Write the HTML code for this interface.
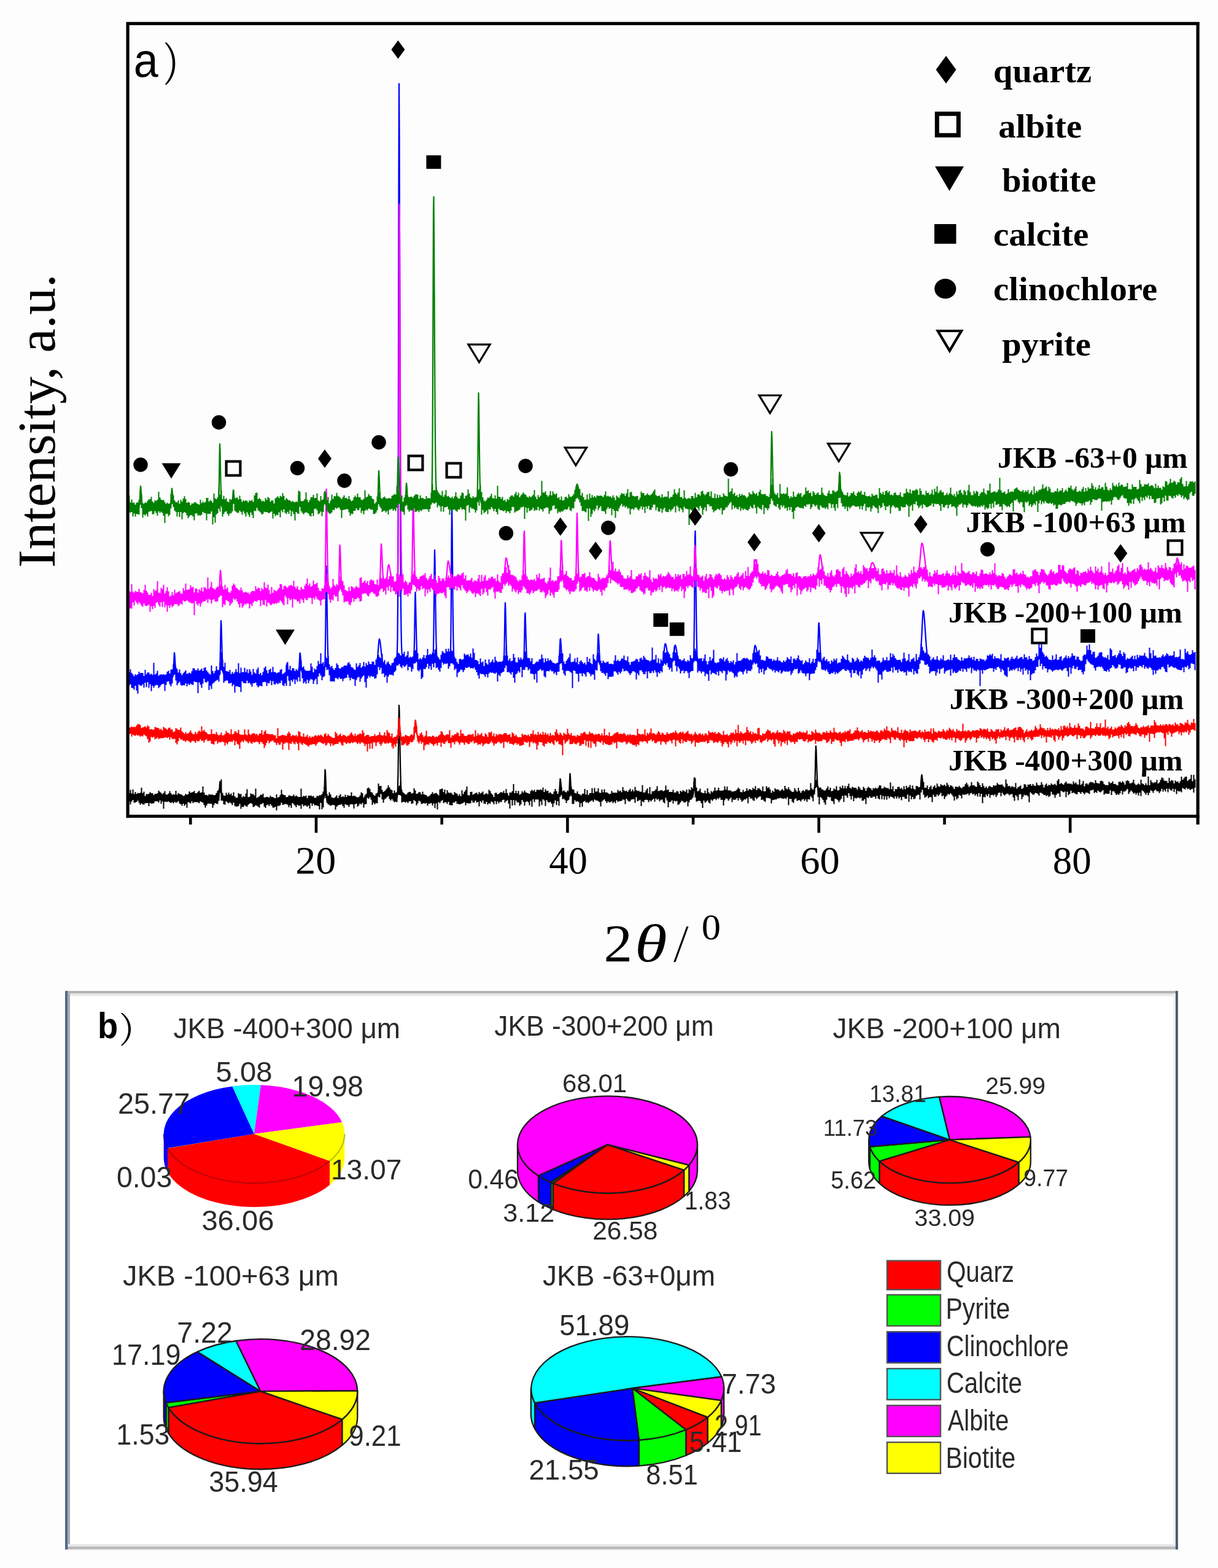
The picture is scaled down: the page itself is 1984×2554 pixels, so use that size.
<!DOCTYPE html>
<html><head><meta charset="utf-8"><title>XRD patterns and mineral composition</title>
<style>html,body{margin:0;padding:0;background:#fdfdfd}svg{display:block}</style></head>
<body><svg width="1984" height="2554" viewBox="0 0 1984 2554">
<rect width="1984" height="2554" fill="#fdfdfd"/>
<rect x="210" y="40" width="1737" height="1287" fill="#fdfdfd"/>
<path d="M209.5,1291.7h2.00V1286.4h2.00V1292.5h2.00V1285.8h2.00V1293.2h2.00V1290.0h2.00V1293.2h2.00V1291.6h2.00V1291.9h2.00V1291.2h2.00V1283.0h2.00V1291.7h2.00V1289.5h2.00V1296.6h2.00V1293.6h2.00V1293.4h2.00V1292.9h2.00V1290.3h2.00V1292.1h2.00V1292.1h2.00V1295.0h2.00V1293.1h2.00V1293.1h2.00V1292.1h2.00V1287.7h2.00V1289.7h2.00V1291.5h2.00V1293.5h2.00V1291.5h2.00V1288.5h2.00V1293.9h2.00V1294.3h2.00V1292.6h2.00V1288.5h2.00V1291.9h2.00V1294.6h2.00V1293.8h2.00V1294.3h2.00V1288.0h2.00V1294.4h2.00V1291.7h2.00V1293.2h2.00V1293.7h2.00V1294.4h2.00V1296.5h2.00V1295.8h2.00V1293.0h2.00V1294.5h2.00V1293.5h2.00V1289.1h2.00V1291.5h2.00V1290.5h2.00V1290.0h2.00V1288.2h2.00V1292.1h2.00V1291.9h2.00V1289.7h2.00V1288.0h2.00V1291.2h2.00V1290.4h2.00V1281.1h2.00V1290.9h2.00V1295.0h2.00V1294.4h2.00V1296.1h2.00V1293.4h2.00V1294.6h2.00V1294.0h2.00V1294.4h2.00V1295.3h2.00V1294.8h2.00V1291.8h2.00V1288.1h2.00V1285.8h2.00V1279.1h2.00V1269.4h2.00V1291.6h2.00V1295.4h2.00V1296.3h2.00V1291.3h2.00V1294.4h2.00V1291.0h2.00V1293.9h2.00V1292.6h2.00V1295.9h2.00V1290.5h2.00V1297.1h2.00V1299.6h2.00V1299.0h2.00V1292.1h2.00V1293.6h2.00V1293.3h2.00V1298.8h2.00V1296.6h2.00V1297.9h2.00V1292.6h2.00V1285.6h2.00V1298.4h2.00V1297.7h2.00V1292.3h2.00V1293.6h2.00V1293.6h2.00V1295.7h2.00V1284.5h2.00V1299.8h2.00V1298.2h2.00V1296.9h2.00V1294.5h2.00V1294.7h2.00V1292.8h2.00V1298.9h2.00V1298.4h2.00V1298.0h2.00V1298.2h2.00V1299.1h2.00V1296.0h2.00V1298.3h2.00V1298.3h2.00V1299.6h2.00V1300.3h2.00V1293.9h2.00V1299.3h2.00V1298.0h2.00V1294.7h2.00V1286.5h2.00V1293.6h2.00V1295.1h2.00V1295.3h2.00V1298.5h2.00V1298.0h2.00V1295.6h2.00V1295.8h2.00V1296.8h2.00V1296.5h2.00V1294.3h2.00V1297.2h2.00V1295.7h2.00V1297.2h2.00V1298.3h2.00V1297.9h2.00V1284.5h2.00V1297.9h2.00V1296.3h2.00V1296.9h2.00V1295.8h2.00V1300.1h2.00V1296.1h2.00V1296.2h2.00V1295.5h2.00V1297.2h2.00V1296.5h2.00V1299.4h2.00V1299.2h2.00V1296.2h2.00V1296.8h2.00V1295.3h2.00V1295.2h2.00V1293.2h2.00V1289.3h2.00V1280.9h2.00V1279.2h2.00V1293.1h2.00V1296.1h2.00V1290.5h2.00V1293.9h2.00V1298.7h2.00V1299.4h2.00V1299.8h2.00V1297.7h2.00V1295.4h2.00V1299.9h2.00V1296.1h2.00V1293.4h2.00V1298.3h2.00V1296.9h2.00V1298.3h2.00V1294.5h2.00V1297.9h2.00V1295.1h2.00V1296.2h2.00V1296.3h2.00V1290.6h2.00V1296.7h2.00V1295.9h2.00V1296.4h2.00V1297.9h2.00V1299.0h2.00V1297.9h2.00V1295.5h2.00V1290.4h2.00V1292.2h2.00V1298.8h2.00V1295.2h2.00V1293.0h2.00V1283.9h2.00V1282.8h2.00V1285.3h2.00V1290.1h2.00V1291.3h2.00V1294.6h2.00V1296.2h2.00V1292.7h2.00V1291.5h2.00V1276.3h2.00V1280.6h2.00V1280.1h2.00V1286.5h2.00V1289.9h2.00V1288.6h2.00V1286.4h2.00V1284.0h2.00V1279.3h2.00V1282.7h2.00V1285.7h2.00V1287.0h2.00V1292.0h2.00V1287.4h2.00V1291.2h2.00V1290.0h2.00V1281.7h2.00V1279.6h2.00V1273.4h2.00V1286.5h2.00V1290.4h2.00V1292.3h2.00V1294.1h2.00V1293.7h2.00V1290.9h2.00V1289.7h2.00V1289.9h2.00V1292.4h2.00V1291.7h2.00V1284.0h2.00V1287.5h2.00V1292.9h2.00V1292.4h2.00V1290.1h2.00V1290.4h2.00V1294.0h2.00V1289.6h2.00V1293.8h2.00V1294.5h2.00V1295.2h2.00V1297.4h2.00V1296.9h2.00V1295.2h2.00V1293.1h2.00V1290.3h2.00V1293.2h2.00V1291.9h2.00V1291.4h2.00V1293.4h2.00V1295.4h2.00V1286.0h2.00V1285.1h2.00V1284.4h2.00V1290.3h2.00V1286.1h2.00V1292.9h2.00V1287.0h2.00V1290.7h2.00V1291.7h2.00V1291.0h2.00V1292.9h2.00V1295.0h2.00V1289.9h2.00V1292.1h2.00V1292.8h2.00V1296.2h2.00V1293.5h2.00V1297.0h2.00V1287.3h2.00V1293.4h2.00V1289.7h2.00V1286.8h2.00V1280.9h2.00V1295.2h2.00V1295.5h2.00V1290.1h2.00V1289.4h2.00V1294.6h2.00V1293.1h2.00V1291.7h2.00V1290.9h2.00V1293.8h2.00V1290.0h2.00V1292.5h2.00V1291.3h2.00V1289.3h2.00V1294.3h2.00V1292.9h2.00V1292.1h2.00V1293.8h2.00V1286.5h2.00V1288.6h2.00V1292.5h2.00V1294.5h2.00V1298.3h2.00V1291.5h2.00V1291.2h2.00V1293.8h2.00V1292.9h2.00V1291.1h2.00V1290.1h2.00V1291.2h2.00V1288.3h2.00V1291.9h2.00V1285.2h2.00V1291.7h2.00V1295.7h2.00V1290.8h2.00V1290.9h2.00V1288.8h2.00V1277.1h2.00V1291.9h2.00V1288.0h2.00V1292.0h2.00V1288.3h2.00V1294.3h2.00V1292.9h2.00V1288.7h2.00V1290.9h2.00V1287.6h2.00V1290.6h2.00V1291.5h2.00V1292.1h2.00V1292.9h2.00V1288.4h2.00V1286.5h2.00V1288.6h2.00V1286.6h2.00V1290.1h2.00V1286.5h2.00V1286.2h2.00V1286.9h2.00V1285.6h2.00V1287.0h2.00V1282.7h2.00V1290.0h2.00V1285.5h2.00V1288.4h2.00V1287.9h2.00V1291.7h2.00V1290.5h2.00V1292.8h2.00V1293.5h2.00V1289.2h2.00V1285.1h2.00V1288.7h2.00V1293.1h2.00V1289.2h2.00V1272.9h2.00V1281.4h2.00V1288.9h2.00V1287.2h2.00V1289.4h2.00V1290.4h2.00V1287.8h2.00V1289.2h2.00V1268.6h2.00V1281.4h2.00V1285.6h2.00V1286.3h2.00V1291.4h2.00V1292.2h2.00V1288.9h2.00V1293.1h2.00V1293.9h2.00V1295.6h2.00V1293.0h2.00V1292.4h2.00V1285.1h2.00V1294.1h2.00V1286.9h2.00V1295.1h2.00V1292.0h2.00V1291.8h2.00V1283.8h2.00V1291.9h2.00V1283.4h2.00V1289.6h2.00V1289.0h2.00V1284.0h2.00V1291.0h2.00V1291.4h2.00V1286.0h2.00V1290.6h2.00V1285.6h2.00V1290.7h2.00V1290.4h2.00V1292.0h2.00V1293.4h2.00V1292.8h2.00V1288.2h2.00V1291.0h2.00V1291.3h2.00V1290.9h2.00V1291.2h2.00V1286.5h2.00V1288.9h2.00V1287.7h2.00V1290.3h2.00V1281.9h2.00V1287.3h2.00V1288.8h2.00V1287.7h2.00V1290.1h2.00V1287.1h2.00V1284.8h2.00V1289.0h2.00V1285.9h2.00V1288.9h2.00V1281.8h2.00V1286.9h2.00V1288.5h2.00V1287.9h2.00V1289.8h2.00V1289.6h2.00V1279.0h2.00V1290.9h2.00V1290.5h2.00V1287.0h2.00V1284.2h2.00V1292.6h2.00V1281.9h2.00V1293.4h2.00V1288.7h2.00V1289.0h2.00V1287.7h2.00V1285.6h2.00V1280.6h2.00V1288.4h2.00V1288.0h2.00V1286.9h2.00V1287.3h2.00V1288.8h2.00V1287.6h2.00V1279.6h2.00V1286.7h2.00V1286.0h2.00V1290.1h2.00V1289.7h2.00V1289.9h2.00V1286.3h2.00V1291.0h2.00V1290.8h2.00V1288.5h2.00V1289.3h2.00V1293.0h2.00V1287.9h2.00V1289.7h2.00V1287.2h2.00V1288.6h2.00V1289.7h2.00V1286.1h2.00V1291.7h2.00V1285.6h2.00V1287.1h2.00V1282.2h2.00V1284.5h2.00V1274.0h2.00V1267.4h2.00V1282.8h2.00V1288.9h2.00V1287.5h2.00V1284.4h2.00V1290.6h2.00V1291.7h2.00V1292.1h2.00V1287.7h2.00V1292.2h2.00V1284.0h2.00V1290.5h2.00V1292.9h2.00V1288.6h2.00V1290.5h2.00V1288.0h2.00V1282.7h2.00V1287.9h2.00V1287.3h2.00V1283.0h2.00V1287.4h2.00V1288.1h2.00V1287.8h2.00V1287.0h2.00V1280.8h2.00V1286.3h2.00V1281.2h2.00V1287.4h2.00V1287.2h2.00V1287.8h2.00V1289.5h2.00V1288.9h2.00V1288.7h2.00V1288.1h2.00V1285.9h2.00V1282.9h2.00V1285.0h2.00V1290.1h2.00V1290.4h2.00V1286.6h2.00V1289.7h2.00V1288.6h2.00V1284.1h2.00V1287.7h2.00V1285.3h2.00V1285.7h2.00V1287.0h2.00V1283.3h2.00V1285.3h2.00V1280.6h2.00V1287.1h2.00V1284.2h2.00V1283.7h2.00V1286.0h2.00V1288.3h2.00V1281.0h2.00V1289.0h2.00V1288.8h2.00V1280.4h2.00V1283.6h2.00V1282.3h2.00V1285.8h2.00V1291.6h2.00V1287.8h2.00V1289.8h2.00V1284.0h2.00V1285.9h2.00V1285.7h2.00V1286.5h2.00V1288.5h2.00V1286.7h2.00V1285.2h2.00V1287.7h2.00V1280.1h2.00V1284.3h2.00V1285.8h2.00V1282.2h2.00V1286.0h2.00V1288.2h2.00V1289.9h2.00V1289.4h2.00V1283.7h2.00V1287.3h2.00V1289.6h2.00V1283.3h2.00V1288.2h2.00V1291.5h2.00V1288.4h2.00V1286.9h2.00V1289.0h2.00V1286.0h2.00V1285.7h2.00V1287.6h2.00V1287.1h2.00V1275.4h2.00V1284.3h2.00V1286.4h2.00V1281.9h2.00V1271.0h2.00V1268.8h2.00V1279.9h2.00V1283.0h2.00V1282.6h2.00V1285.2h2.00V1286.3h2.00V1287.7h2.00V1287.2h2.00V1284.3h2.00V1280.9h2.00V1286.5h2.00V1283.0h2.00V1288.8h2.00V1288.0h2.00V1284.2h2.00V1286.0h2.00V1280.4h2.00V1287.4h2.00V1286.9h2.00V1281.3h2.00V1283.8h2.00V1279.6h2.00V1284.3h2.00V1280.2h2.00V1284.2h2.00V1280.4h2.00V1276.4h2.00V1282.9h2.00V1284.6h2.00V1281.4h2.00V1283.0h2.00V1283.1h2.00V1283.6h2.00V1285.9h2.00V1280.9h2.00V1283.3h2.00V1286.5h2.00V1286.8h2.00V1281.6h2.00V1283.9h2.00V1288.3h2.00V1283.8h2.00V1281.5h2.00V1283.2h2.00V1284.2h2.00V1286.9h2.00V1283.4h2.00V1284.4h2.00V1282.8h2.00V1284.8h2.00V1282.8h2.00V1279.2h2.00V1279.5h2.00V1284.5h2.00V1284.1h2.00V1281.6h2.00V1282.8h2.00V1283.7h2.00V1283.4h2.00V1285.4h2.00V1274.6h2.00V1285.6h2.00V1280.5h2.00V1289.1h2.00V1285.3h2.00V1285.6h2.00V1281.7h2.00V1281.5h2.00V1284.7h2.00V1283.3h2.00V1286.1h2.00V1280.5h2.00V1285.5h2.00V1280.0h2.00V1283.3h2.00V1281.6h2.00V1278.4h2.00V1284.4h2.00V1279.4h2.00V1284.4h2.00V1285.9h2.00V1280.2h2.00V1280.6h2.00V1282.2h2.00V1282.1h2.00V1271.5h2.00V1272.8h2.00V1273.7h2.00V1283.3h2.00V1282.9h2.00V1279.5h2.00V1285.4h2.00V1282.1h2.00V1279.7h2.00V1285.5h2.00V1281.4h2.00V1279.2h2.00V1283.2h2.00V1276.3h2.00V1280.4h2.00V1281.5h2.00V1277.3h2.00V1278.9h2.00V1279.4h2.00V1278.0h2.00V1280.5h2.00V1275.1h2.00V1278.2h2.00V1281.7h2.00V1278.9h2.00V1280.1h2.00V1282.3h2.00V1285.2h2.00V1281.2h2.00V1281.4h2.00V1282.3h2.00V1280.1h2.00V1282.5h2.00V1284.0h2.00V1281.7h2.00V1281.1h2.00V1277.3h2.00V1274.7h2.00V1278.1h2.00V1281.8h2.00V1279.7h2.00V1273.9h2.00V1279.2h2.00V1278.8h2.00V1280.8h2.00V1281.7h2.00V1273.1h2.00V1275.5h2.00V1279.0h2.00V1281.9h2.00V1275.8h2.00V1280.3h2.00V1283.5h2.00V1281.1h2.00V1284.0h2.00V1281.2h2.00V1280.1h2.00V1282.0h2.00V1282.3h2.00V1279.1h2.00V1280.1h2.00V1279.2h2.00V1275.2h2.00V1277.8h2.00V1278.3h2.00V1278.1h2.00V1277.8h2.00V1280.4h2.00V1282.6h2.00V1269.5h2.00V1276.6h2.00V1280.4h2.00V1280.0h2.00V1282.3h2.00V1280.5h2.00V1281.4h2.00V1282.5h2.00V1275.2h2.00V1284.6h2.00V1281.9h2.00V1281.0h2.00V1279.3h2.00V1284.9h2.00V1283.6h2.00V1277.2h2.00V1277.8h2.00V1281.8h2.00V1278.1h2.00V1278.0h2.00V1277.0h2.00V1279.9h2.00V1277.0h2.00V1279.5h2.00V1280.2h2.00V1274.8h2.00V1278.4h2.00V1279.5h2.00V1278.7h2.00V1273.9h2.00V1277.9h2.00V1282.7h2.00V1278.4h2.00V1276.3h2.00V1280.2h2.00V1278.3h2.00V1278.9h2.00V1275.9h2.00V1278.2h2.00V1277.9h2.00V1276.8h2.00V1279.3h2.00V1271.4h2.00V1269.1h2.00V1277.1h2.00V1275.3h2.00V1276.7h2.00V1278.3h2.00V1275.3h2.00V1272.9h2.00V1276.2h2.00V1276.3h2.00V1276.5h2.00V1276.5h2.00V1277.8h2.00V1272.7h2.00V1276.3h2.00V1274.5h2.00V1277.5h2.00V1278.1h2.00V1269.5h2.00V1278.6h2.00V1276.6h2.00V1271.9h2.00V1280.8h2.00V1276.6h2.00V1276.0h2.00V1278.0h2.00V1275.3h2.00V1273.6h2.00V1273.9h2.00V1274.6h2.00V1276.0h2.00V1270.7h2.00V1275.0h2.00V1276.0h2.00V1276.3h2.00V1272.3h2.00V1271.4h2.00V1272.9h2.00V1277.1h2.00V1278.8h2.00V1278.8h2.00V1279.0h2.00V1273.3h2.00V1275.8h2.00V1275.2h2.00V1272.7h2.00V1276.9h2.00V1276.7h2.00V1278.3h2.00V1279.3h2.00V1273.8h2.00V1273.0h2.00V1275.0h2.00V1272.6h2.00V1274.6h2.00V1278.0h2.00V1272.2h2.00V1271.0h2.00V1272.2h2.00V1276.0h2.00V1275.8h2.00V1274.4h2.00V1270.1h2.00V1276.4h2.00V1278.7h2.00V1277.8h2.00V1276.1h2.00V1278.0h2.00V1270.0h2.00V1276.1h2.00V1277.1h2.00V1278.9h2.00V1275.8h2.00V1278.8h2.00V1264.7h2.00V1279.1h2.00V1270.6h2.00V1273.8h2.00V1275.6h2.00V1274.2h2.00V1274.2h2.00V1270.3h2.00V1276.3h2.00V1274.5h2.00V1270.2h2.00V1266.3h2.00V1267.8h2.00V1271.5h2.00V1272.0h2.00V1272.2h2.00V1275.3h2.00V1267.0h2.00V1272.4h2.00V1270.6h2.00V1271.5h2.00V1275.9h2.00V1271.3h2.00V1273.4h2.00V1272.8h2.00V1275.5h2.00V1272.5h2.00V1264.9h2.00V1270.2h2.00V1267.7h2.00V1265.3h2.00V1265.1h2.00V1272.0h2.00V1270.0h2.00V1268.4h2.00V1261.9h2.00V1272.5h2.00V1262.0h2.00V1269.4h2.00V1283.1h-2.00V1291.1h-2.00V1284.8h-2.00V1285.5h-2.00V1286.8h-2.00V1284.5h-2.00V1285.4h-2.00V1282.9h-2.00V1285.7h-2.00V1284.8h-2.00V1283.5h-2.00V1290.4h-2.00V1288.4h-2.00V1289.4h-2.00V1288.1h-2.00V1293.6h-2.00V1285.3h-2.00V1289.9h-2.00V1284.8h-2.00V1288.1h-2.00V1286.7h-2.00V1284.6h-2.00V1290.5h-2.00V1284.6h-2.00V1289.2h-2.00V1286.3h-2.00V1289.5h-2.00V1284.8h-2.00V1289.1h-2.00V1291.7h-2.00V1288.8h-2.00V1288.9h-2.00V1286.2h-2.00V1287.8h-2.00V1291.5h-2.00V1288.5h-2.00V1287.2h-2.00V1291.3h-2.00V1295.3h-2.00V1291.3h-2.00V1294.6h-2.00V1291.4h-2.00V1289.0h-2.00V1287.5h-2.00V1296.7h-2.00V1290.9h-2.00V1295.8h-2.00V1291.5h-2.00V1294.2h-2.00V1291.3h-2.00V1292.8h-2.00V1289.8h-2.00V1287.5h-2.00V1290.2h-2.00V1293.2h-2.00V1285.0h-2.00V1287.3h-2.00V1289.2h-2.00V1289.2h-2.00V1293.9h-2.00V1288.1h-2.00V1292.0h-2.00V1294.7h-2.00V1293.2h-2.00V1294.9h-2.00V1291.8h-2.00V1289.1h-2.00V1288.8h-2.00V1295.1h-2.00V1287.2h-2.00V1292.9h-2.00V1293.0h-2.00V1292.7h-2.00V1292.5h-2.00V1294.6h-2.00V1286.9h-2.00V1288.9h-2.00V1290.7h-2.00V1289.6h-2.00V1287.8h-2.00V1291.5h-2.00V1290.0h-2.00V1291.7h-2.00V1286.3h-2.00V1287.2h-2.00V1287.6h-2.00V1293.3h-2.00V1292.0h-2.00V1290.7h-2.00V1291.3h-2.00V1294.1h-2.00V1291.4h-2.00V1290.1h-2.00V1293.0h-2.00V1290.6h-2.00V1290.0h-2.00V1293.8h-2.00V1293.5h-2.00V1292.0h-2.00V1290.7h-2.00V1292.0h-2.00V1287.9h-2.00V1293.1h-2.00V1294.9h-2.00V1289.5h-2.00V1298.5h-2.00V1289.2h-2.00V1290.5h-2.00V1289.4h-2.00V1288.1h-2.00V1298.1h-2.00V1292.5h-2.00V1292.5h-2.00V1295.1h-2.00V1299.4h-2.00V1294.4h-2.00V1293.9h-2.00V1289.7h-2.00V1296.2h-2.00V1298.3h-2.00V1295.2h-2.00V1296.7h-2.00V1294.7h-2.00V1295.0h-2.00V1293.0h-2.00V1291.8h-2.00V1291.0h-2.00V1296.1h-2.00V1293.3h-2.00V1291.9h-2.00V1291.6h-2.00V1293.9h-2.00V1294.5h-2.00V1292.5h-2.00V1290.5h-2.00V1306.8h-2.00V1297.2h-2.00V1295.1h-2.00V1295.8h-2.00V1294.4h-2.00V1298.0h-2.00V1301.8h-2.00V1293.5h-2.00V1294.0h-2.00V1303.4h-2.00V1297.4h-2.00V1295.2h-2.00V1304.4h-2.00V1298.8h-2.00V1293.4h-2.00V1293.6h-2.00V1295.6h-2.00V1293.6h-2.00V1292.4h-2.00V1293.8h-2.00V1295.7h-2.00V1293.9h-2.00V1291.3h-2.00V1297.1h-2.00V1290.9h-2.00V1291.5h-2.00V1295.3h-2.00V1298.3h-2.00V1293.7h-2.00V1296.1h-2.00V1294.6h-2.00V1294.9h-2.00V1299.6h-2.00V1293.2h-2.00V1297.0h-2.00V1294.2h-2.00V1298.4h-2.00V1298.1h-2.00V1308.2h-2.00V1293.0h-2.00V1297.8h-2.00V1292.0h-2.00V1297.6h-2.00V1293.5h-2.00V1295.9h-2.00V1292.9h-2.00V1294.0h-2.00V1291.6h-2.00V1292.5h-2.00V1295.5h-2.00V1292.4h-2.00V1293.9h-2.00V1294.1h-2.00V1294.8h-2.00V1293.9h-2.00V1300.4h-2.00V1296.0h-2.00V1294.7h-2.00V1299.9h-2.00V1302.0h-2.00V1297.2h-2.00V1303.9h-2.00V1297.2h-2.00V1294.5h-2.00V1291.9h-2.00V1294.2h-2.00V1293.3h-2.00V1295.5h-2.00V1297.8h-2.00V1301.5h-2.00V1295.8h-2.00V1296.9h-2.00V1291.4h-2.00V1294.3h-2.00V1296.4h-2.00V1294.1h-2.00V1297.6h-2.00V1298.0h-2.00V1294.5h-2.00V1306.4h-2.00V1298.6h-2.00V1298.0h-2.00V1299.9h-2.00V1295.9h-2.00V1298.0h-2.00V1299.2h-2.00V1294.6h-2.00V1286.3h-2.00V1290.7h-2.00V1302.2h-2.00V1294.5h-2.00V1294.7h-2.00V1296.4h-2.00V1300.8h-2.00V1301.8h-2.00V1297.9h-2.00V1301.9h-2.00V1295.8h-2.00V1306.0h-2.00V1294.3h-2.00V1301.0h-2.00V1300.9h-2.00V1298.1h-2.00V1297.8h-2.00V1303.4h-2.00V1298.6h-2.00V1300.8h-2.00V1297.5h-2.00V1300.7h-2.00V1297.3h-2.00V1300.9h-2.00V1299.1h-2.00V1297.9h-2.00V1297.5h-2.00V1300.2h-2.00V1296.8h-2.00V1302.4h-2.00V1296.9h-2.00V1302.5h-2.00V1296.5h-2.00V1301.9h-2.00V1294.7h-2.00V1302.0h-2.00V1300.5h-2.00V1296.3h-2.00V1300.9h-2.00V1297.8h-2.00V1297.5h-2.00V1299.2h-2.00V1299.5h-2.00V1297.1h-2.00V1300.1h-2.00V1298.7h-2.00V1309.8h-2.00V1301.6h-2.00V1304.1h-2.00V1304.2h-2.00V1299.3h-2.00V1300.4h-2.00V1299.1h-2.00V1299.5h-2.00V1300.8h-2.00V1299.6h-2.00V1305.0h-2.00V1296.5h-2.00V1302.2h-2.00V1296.5h-2.00V1292.0h-2.00V1299.4h-2.00V1296.2h-2.00V1295.5h-2.00V1306.3h-2.00V1296.2h-2.00V1301.1h-2.00V1303.5h-2.00V1306.6h-2.00V1303.3h-2.00V1301.6h-2.00V1301.1h-2.00V1309.8h-2.00V1305.3h-2.00V1304.4h-2.00V1298.4h-2.00V1298.6h-2.00V1297.6h-2.00V1302.4h-2.00V1310.7h-2.00V1307.2h-2.00V1302.9h-2.00V1300.2h-2.00V1298.3h-2.00V1310.2h-2.00V1298.3h-2.00V1281.9h-2.00V1283.6h-2.00V1294.3h-2.00V1305.2h-2.00V1299.5h-2.00V1297.1h-2.00V1302.3h-2.00V1301.8h-2.00V1305.9h-2.00V1301.9h-2.00V1304.5h-2.00V1301.5h-2.00V1302.4h-2.00V1305.5h-2.00V1303.3h-2.00V1303.5h-2.00V1304.6h-2.00V1300.4h-2.00V1301.9h-2.00V1307.8h-2.00V1306.0h-2.00V1301.3h-2.00V1301.2h-2.00V1311.6h-2.00V1298.4h-2.00V1301.6h-2.00V1299.9h-2.00V1301.2h-2.00V1300.4h-2.00V1300.2h-2.00V1299.5h-2.00V1300.7h-2.00V1300.6h-2.00V1302.2h-2.00V1302.2h-2.00V1302.8h-2.00V1303.2h-2.00V1308.4h-2.00V1300.8h-2.00V1300.0h-2.00V1299.7h-2.00V1299.4h-2.00V1306.1h-2.00V1304.4h-2.00V1302.3h-2.00V1302.9h-2.00V1297.2h-2.00V1297.8h-2.00V1299.6h-2.00V1301.7h-2.00V1299.1h-2.00V1304.6h-2.00V1303.4h-2.00V1300.7h-2.00V1300.7h-2.00V1298.0h-2.00V1308.6h-2.00V1300.3h-2.00V1302.3h-2.00V1302.0h-2.00V1304.0h-2.00V1305.9h-2.00V1302.6h-2.00V1300.1h-2.00V1304.0h-2.00V1299.7h-2.00V1302.3h-2.00V1302.8h-2.00V1302.4h-2.00V1306.4h-2.00V1299.3h-2.00V1301.4h-2.00V1304.3h-2.00V1301.3h-2.00V1300.5h-2.00V1303.6h-2.00V1312.0h-2.00V1302.8h-2.00V1302.8h-2.00V1299.1h-2.00V1301.5h-2.00V1300.3h-2.00V1303.2h-2.00V1301.0h-2.00V1302.0h-2.00V1304.5h-2.00V1302.6h-2.00V1308.7h-2.00V1307.2h-2.00V1303.8h-2.00V1305.8h-2.00V1307.6h-2.00V1303.9h-2.00V1316.0h-2.00V1308.3h-2.00V1304.7h-2.00V1303.9h-2.00V1305.1h-2.00V1305.8h-2.00V1298.7h-2.00V1288.2h-2.00V1299.5h-2.00V1301.9h-2.00V1302.9h-2.00V1306.8h-2.00V1313.6h-2.00V1304.9h-2.00V1307.1h-2.00V1307.3h-2.00V1305.6h-2.00V1304.2h-2.00V1307.0h-2.00V1309.8h-2.00V1311.1h-2.00V1304.4h-2.00V1305.6h-2.00V1304.2h-2.00V1308.7h-2.00V1303.6h-2.00V1306.1h-2.00V1306.4h-2.00V1315.0h-2.00V1303.8h-2.00V1299.6h-2.00V1308.6h-2.00V1306.6h-2.00V1302.3h-2.00V1303.0h-2.00V1305.2h-2.00V1301.6h-2.00V1302.8h-2.00V1300.6h-2.00V1305.7h-2.00V1301.1h-2.00V1302.9h-2.00V1305.5h-2.00V1303.5h-2.00V1306.4h-2.00V1303.0h-2.00V1302.6h-2.00V1303.2h-2.00V1306.8h-2.00V1305.3h-2.00V1312.9h-2.00V1302.8h-2.00V1304.1h-2.00V1305.2h-2.00V1298.5h-2.00V1307.8h-2.00V1301.7h-2.00V1301.7h-2.00V1302.5h-2.00V1304.9h-2.00V1305.7h-2.00V1303.7h-2.00V1301.0h-2.00V1309.7h-2.00V1302.8h-2.00V1302.3h-2.00V1304.6h-2.00V1304.8h-2.00V1305.2h-2.00V1306.0h-2.00V1303.6h-2.00V1308.2h-2.00V1305.8h-2.00V1308.3h-2.00V1305.2h-2.00V1306.6h-2.00V1306.9h-2.00V1305.3h-2.00V1307.9h-2.00V1305.0h-2.00V1302.1h-2.00V1303.4h-2.00V1305.5h-2.00V1313.4h-2.00V1306.6h-2.00V1304.9h-2.00V1303.8h-2.00V1303.7h-2.00V1302.3h-2.00V1306.2h-2.00V1303.7h-2.00V1304.6h-2.00V1306.0h-2.00V1308.3h-2.00V1306.7h-2.00V1307.3h-2.00V1304.4h-2.00V1306.1h-2.00V1314.0h-2.00V1308.3h-2.00V1314.8h-2.00V1306.2h-2.00V1304.9h-2.00V1306.0h-2.00V1303.6h-2.00V1309.4h-2.00V1309.6h-2.00V1295.0h-2.00V1297.6h-2.00V1302.7h-2.00V1304.3h-2.00V1308.0h-2.00V1303.2h-2.00V1301.2h-2.00V1301.8h-2.00V1295.1h-2.00V1297.7h-2.00V1312.4h-2.00V1305.0h-2.00V1311.3h-2.00V1303.7h-2.00V1308.4h-2.00V1314.5h-2.00V1309.0h-2.00V1305.9h-2.00V1307.2h-2.00V1306.5h-2.00V1303.2h-2.00V1312.7h-2.00V1304.0h-2.00V1301.9h-2.00V1311.3h-2.00V1305.2h-2.00V1313.4h-2.00V1302.3h-2.00V1302.2h-2.00V1302.3h-2.00V1306.6h-2.00V1302.0h-2.00V1314.0h-2.00V1304.5h-2.00V1311.8h-2.00V1307.0h-2.00V1305.1h-2.00V1306.5h-2.00V1312.3h-2.00V1306.0h-2.00V1303.1h-2.00V1310.2h-2.00V1312.4h-2.00V1307.0h-2.00V1307.1h-2.00V1304.0h-2.00V1311.6h-2.00V1303.2h-2.00V1312.1h-2.00V1303.1h-2.00V1317.0h-2.00V1309.0h-2.00V1303.5h-2.00V1304.9h-2.00V1307.5h-2.00V1302.6h-2.00V1303.3h-2.00V1306.6h-2.00V1306.0h-2.00V1308.6h-2.00V1305.5h-2.00V1309.7h-2.00V1304.7h-2.00V1309.9h-2.00V1306.7h-2.00V1305.5h-2.00V1308.9h-2.00V1308.2h-2.00V1310.6h-2.00V1306.0h-2.00V1309.6h-2.00V1308.9h-2.00V1303.7h-2.00V1307.3h-2.00V1305.0h-2.00V1313.5h-2.00V1306.3h-2.00V1307.2h-2.00V1304.1h-2.00V1307.3h-2.00V1307.3h-2.00V1304.1h-2.00V1308.6h-2.00V1308.5h-2.00V1308.8h-2.00V1308.1h-2.00V1311.8h-2.00V1306.5h-2.00V1307.8h-2.00V1309.1h-2.00V1309.4h-2.00V1310.3h-2.00V1309.6h-2.00V1309.2h-2.00V1305.1h-2.00V1307.3h-2.00V1307.2h-2.00V1311.8h-2.00V1311.5h-2.00V1311.2h-2.00V1305.9h-2.00V1309.6h-2.00V1306.8h-2.00V1306.7h-2.00V1308.2h-2.00V1303.3h-2.00V1305.2h-2.00V1308.2h-2.00V1306.5h-2.00V1318.4h-2.00V1308.5h-2.00V1316.3h-2.00V1308.8h-2.00V1312.0h-2.00V1308.1h-2.00V1308.8h-2.00V1309.3h-2.00V1312.2h-2.00V1308.1h-2.00V1309.3h-2.00V1308.0h-2.00V1308.9h-2.00V1309.6h-2.00V1305.6h-2.00V1304.3h-2.00V1308.5h-2.00V1311.7h-2.00V1304.9h-2.00V1303.2h-2.00V1308.5h-2.00V1309.2h-2.00V1305.1h-2.00V1305.2h-2.00V1307.9h-2.00V1306.0h-2.00V1307.5h-2.00V1306.0h-2.00V1306.2h-2.00V1306.9h-2.00V1295.7h-2.00V1295.0h-2.00V1294.6h-2.00V1306.6h-2.00V1305.8h-2.00V1306.8h-2.00V1304.4h-2.00V1301.5h-2.00V1304.0h-2.00V1301.4h-2.00V1296.8h-2.00V1298.6h-2.00V1300.5h-2.00V1302.3h-2.00V1307.4h-2.00V1302.0h-2.00V1293.1h-2.00V1298.8h-2.00V1297.5h-2.00V1308.5h-2.00V1307.9h-2.00V1309.9h-2.00V1307.6h-2.00V1310.9h-2.00V1302.6h-2.00V1298.4h-2.00V1301.3h-2.00V1299.6h-2.00V1309.7h-2.00V1310.0h-2.00V1315.6h-2.00V1307.8h-2.00V1310.4h-2.00V1308.8h-2.00V1311.7h-2.00V1314.0h-2.00V1308.9h-2.00V1310.0h-2.00V1316.9h-2.00V1310.2h-2.00V1310.1h-2.00V1310.3h-2.00V1314.2h-2.00V1311.4h-2.00V1311.0h-2.00V1310.1h-2.00V1315.8h-2.00V1313.1h-2.00V1309.9h-2.00V1310.7h-2.00V1311.1h-2.00V1312.0h-2.00V1314.0h-2.00V1318.7h-2.00V1311.6h-2.00V1311.0h-2.00V1311.4h-2.00V1312.8h-2.00V1311.1h-2.00V1310.0h-2.00V1307.5h-2.00V1300.0h-2.00V1295.6h-2.00V1315.2h-2.00V1318.3h-2.00V1307.7h-2.00V1318.6h-2.00V1313.0h-2.00V1312.3h-2.00V1311.6h-2.00V1311.7h-2.00V1309.1h-2.00V1312.5h-2.00V1308.2h-2.00V1316.9h-2.00V1312.1h-2.00V1314.2h-2.00V1312.2h-2.00V1311.8h-2.00V1313.2h-2.00V1310.0h-2.00V1317.4h-2.00V1311.9h-2.00V1312.6h-2.00V1310.8h-2.00V1314.8h-2.00V1312.3h-2.00V1310.1h-2.00V1308.1h-2.00V1316.0h-2.00V1311.8h-2.00V1314.7h-2.00V1310.8h-2.00V1309.8h-2.00V1309.6h-2.00V1310.5h-2.00V1311.0h-2.00V1307.4h-2.00V1311.4h-2.00V1312.8h-2.00V1312.8h-2.00V1320.0h-2.00V1313.9h-2.00V1315.6h-2.00V1315.6h-2.00V1312.2h-2.00V1309.7h-2.00V1312.9h-2.00V1310.6h-2.00V1311.5h-2.00V1315.9h-2.00V1313.8h-2.00V1307.9h-2.00V1309.5h-2.00V1309.9h-2.00V1315.4h-2.00V1313.8h-2.00V1312.5h-2.00V1311.5h-2.00V1313.4h-2.00V1314.4h-2.00V1309.5h-2.00V1308.1h-2.00V1308.9h-2.00V1310.8h-2.00V1313.9h-2.00V1313.1h-2.00V1311.4h-2.00V1314.6h-2.00V1314.3h-2.00V1317.4h-2.00V1309.6h-2.00V1313.0h-2.00V1313.7h-2.00V1313.8h-2.00V1312.7h-2.00V1307.2h-2.00V1311.3h-2.00V1308.6h-2.00V1306.8h-2.00V1308.5h-2.00V1307.3h-2.00V1305.2h-2.00V1310.8h-2.00V1309.9h-2.00V1304.2h-2.00V1303.9h-2.00V1291.2h-2.00V1304.5h-2.00V1309.6h-2.00V1309.2h-2.00V1308.1h-2.00V1311.2h-2.00V1315.8h-2.00V1309.2h-2.00V1309.2h-2.00V1308.8h-2.00V1309.0h-2.00V1312.0h-2.00V1315.5h-2.00V1311.2h-2.00V1307.5h-2.00V1306.6h-2.00V1305.3h-2.00V1308.2h-2.00V1307.1h-2.00V1306.4h-2.00V1306.6h-2.00V1306.4h-2.00V1308.2h-2.00V1305.3h-2.00V1308.4h-2.00V1307.6h-2.00V1306.4h-2.00V1315.7h-2.00V1309.9h-2.00V1312.6h-2.00V1309.1h-2.00V1312.6h-2.00V1309.9h-2.00V1308.8h-2.00V1304.9h-2.00V1306.8h-2.00V1307.5h-2.00V1305.9h-2.00V1308.6h-2.00V1306.6h-2.00V1307.9h-2.00V1306.9h-2.00V1305.3h-2.00V1306.2h-2.00V1305.9h-2.00V1305.7h-2.00V1317.3h-2.00V1305.5h-2.00V1309.3h-2.00V1303.8h-2.00V1307.2h-2.00V1305.3h-2.00V1305.0h-2.00V1305.5h-2.00V1308.3h-2.00V1308.7h-2.00V1309.0h-2.00V1307.7h-2.00V1313.0h-2.00V1307.9h-2.00V1307.9h-2.00V1308.6h-2.00V1310.4h-2.00V1310.2h-2.00V1308.5h-2.00V1310.8h-2.00V1307.6h-2.00V1304.0h-2.00V1305.9h-2.00V1307.3h-2.00V1307.6h-2.00V1303.1h-2.00V1305.5h-2.00V1310.2h-2.00V1305.5h-2.00Z" fill="#000"/><g fill="none" stroke="#000" stroke-width="2.2" stroke-linejoin="round"><polyline points="355.0,1301.1 355.5,1300.6 356.0,1299.7 356.5,1297.5 357.0,1292.8 357.5,1285.0 358.0,1276.4 358.5,1273.2 359.0,1276.2 359.5,1281.7 360.0,1287.4 360.5,1292.1 361.0,1295.5 361.5,1297.6 362.0,1298.8 362.5,1299.5"/><polyline points="526.0,1301.3 526.5,1301.2 527.0,1301.1 527.5,1300.4 528.0,1297.2 528.5,1287.4 529.0,1269.2 529.5,1253.5 530.0,1257.3 530.5,1269.9 531.0,1283.1 531.5,1293.0 532.0,1298.9 532.5,1301.8 533.0,1303.0 533.5,1303.5 534.0,1303.8"/><polyline points="594.0,1303.1 594.5,1302.6 595.0,1301.9 595.5,1301.1 596.0,1300.1 596.5,1298.9 597.0,1297.6 597.5,1296.1 598.0,1294.7 598.5,1293.4 599.0,1292.2 599.5,1291.3 600.0,1290.9 600.5,1290.9 601.0,1291.0 601.5,1291.4 602.0,1291.8 602.5,1292.4 603.0,1293.1 603.5,1293.8 604.0,1294.5 604.5,1295.2 605.0,1296.0 605.5,1296.7 606.0,1297.3 606.5,1297.9 607.0,1298.5 607.5,1299.1 608.0,1299.5 608.5,1299.9"/><polyline points="612.5,1301.2 613.0,1300.8 613.5,1300.1 614.0,1299.1 614.5,1297.8 615.0,1296.1 615.5,1294.1 616.0,1291.9 616.5,1289.6 617.0,1287.5 617.5,1285.9 618.0,1285.2 618.5,1285.2 619.0,1285.6 619.5,1286.4 620.0,1287.5 620.5,1288.6 621.0,1289.9 621.5,1291.2 622.0,1292.3 622.5,1293.4 623.0,1294.4 623.5,1295.3 624.0,1296.0 624.5,1296.4 625.0,1296.8 625.5,1296.9"/><polyline points="624.5,1296.4 625.0,1296.8 625.5,1296.9 626.0,1296.8 626.5,1296.4 627.0,1295.8 627.5,1295.0 628.0,1293.9 628.5,1292.6 629.0,1291.2 629.5,1289.6 630.0,1288.0 630.5,1286.6 631.0,1285.3 631.5,1284.5 632.0,1284.2 632.5,1284.5 633.0,1284.9 633.5,1285.5 634.0,1286.3 634.5,1287.3 635.0,1288.3 635.5,1289.4 636.0,1290.5 636.5,1291.5 637.0,1292.6 637.5,1293.6 638.0,1294.6 638.5,1295.4 639.0,1296.3 639.5,1297.1 640.0,1297.8 640.5,1298.3 641.0,1298.9 641.5,1299.5"/><polyline points="645.0,1301.0 645.5,1300.9 646.0,1300.5 646.5,1299.8 647.0,1297.8 647.5,1292.8 648.0,1280.4 648.5,1255.2 649.0,1215.7 649.5,1171.4 650.0,1148.9 650.5,1159.4 651.0,1184.9 651.5,1214.9 652.0,1242.3 652.5,1263.9 653.0,1278.8 653.5,1287.9 654.0,1293.0 654.5,1295.6 655.0,1297.0 655.5,1297.7 656.0,1298.1 656.5,1298.3"/><polyline points="909.0,1298.4 909.5,1298.2 910.0,1297.7 910.5,1296.3 911.0,1292.5 911.5,1285.2 912.0,1275.5 912.5,1268.7 913.0,1269.9 913.5,1275.2 914.0,1281.5 914.5,1287.2 915.0,1291.4 915.5,1294.0 916.0,1295.4 916.5,1296.0 917.0,1296.2"/><polyline points="925.0,1296.5 925.5,1296.5 926.0,1296.3 926.5,1295.6 927.0,1292.4 927.5,1283.7 928.0,1269.4 928.5,1260.1 929.0,1264.8 929.5,1274.6 930.0,1283.9 930.5,1290.5 931.0,1294.2 931.5,1295.8 932.0,1296.5 932.5,1296.8"/><polyline points="1128.0,1295.5 1128.5,1295.2 1129.0,1294.4 1129.5,1291.8 1130.0,1285.1 1130.5,1274.1 1131.0,1267.0 1131.5,1270.3 1132.0,1277.5 1132.5,1284.4 1133.0,1289.4 1133.5,1292.1 1134.0,1293.4 1134.5,1294.0 1135.0,1294.3"/><polyline points="1325.0,1292.6 1325.5,1292.1 1326.0,1291.3 1326.5,1289.5 1327.0,1284.6 1327.5,1273.3 1328.0,1253.2 1328.5,1228.6 1329.0,1215.2 1329.5,1221.4 1330.0,1236.0 1330.5,1252.3 1331.0,1266.4 1331.5,1276.6 1332.0,1283.0 1332.5,1286.5 1333.0,1288.4 1333.5,1289.4 1334.0,1290.0"/><polyline points="1497.5,1289.9 1498.0,1289.6 1498.5,1288.9 1499.0,1287.2 1499.5,1283.8 1500.0,1278.1 1500.5,1270.8 1501.0,1264.0 1501.5,1262.0 1502.0,1264.4 1502.5,1269.1 1503.0,1274.4 1503.5,1279.4 1504.0,1283.7 1504.5,1287.0 1505.0,1289.2 1505.5,1290.6 1506.0,1291.5 1506.5,1292.0"/></g>
<path d="M209.5,1185.5h2.00V1184.5h2.00V1183.3h2.00V1184.4h2.00V1183.7h2.00V1184.2h2.00V1181.4h2.00V1179.4h2.00V1179.3h2.00V1181.0h2.00V1185.8h2.00V1184.7h2.00V1184.2h2.00V1182.8h2.00V1185.1h2.00V1181.4h2.00V1183.2h2.00V1188.0h2.00V1187.6h2.00V1188.3h2.00V1188.6h2.00V1184.1h2.00V1184.9h2.00V1185.6h2.00V1186.0h2.00V1188.5h2.00V1187.1h2.00V1189.8h2.00V1184.1h2.00V1185.7h2.00V1186.7h2.00V1188.5h2.00V1185.8h2.00V1185.1h2.00V1188.1h2.00V1188.3h2.00V1192.3h2.00V1191.2h2.00V1186.1h2.00V1187.2h2.00V1189.0h2.00V1188.7h2.00V1185.0h2.00V1191.3h2.00V1193.1h2.00V1195.5h2.00V1192.5h2.00V1195.1h2.00V1194.8h2.00V1192.7h2.00V1189.7h2.00V1193.8h2.00V1196.1h2.00V1195.6h2.00V1191.9h2.00V1195.4h2.00V1192.3h2.00V1190.0h2.00V1192.1h2.00V1183.0h2.00V1190.5h2.00V1188.7h2.00V1192.0h2.00V1193.2h2.00V1195.6h2.00V1196.0h2.00V1195.7h2.00V1187.9h2.00V1195.7h2.00V1194.7h2.00V1196.1h2.00V1192.3h2.00V1196.3h2.00V1197.8h2.00V1196.5h2.00V1193.3h2.00V1197.7h2.00V1197.5h2.00V1195.6h2.00V1190.5h2.00V1193.6h2.00V1194.1h2.00V1196.1h2.00V1187.8h2.00V1196.3h2.00V1195.2h2.00V1191.2h2.00V1191.4h2.00V1193.9h2.00V1188.7h2.00V1195.7h2.00V1196.8h2.00V1196.5h2.00V1197.0h2.00V1188.1h2.00V1196.1h2.00V1197.5h2.00V1188.2h2.00V1195.4h2.00V1197.2h2.00V1194.7h2.00V1194.4h2.00V1194.3h2.00V1196.4h2.00V1195.2h2.00V1198.1h2.00V1195.0h2.00V1194.7h2.00V1189.2h2.00V1196.8h2.00V1191.7h2.00V1189.6h2.00V1195.0h2.00V1195.6h2.00V1195.8h2.00V1195.9h2.00V1196.1h2.00V1196.0h2.00V1197.7h2.00V1197.5h2.00V1202.4h2.00V1186.0h2.00V1199.1h2.00V1198.4h2.00V1197.6h2.00V1196.9h2.00V1197.6h2.00V1197.9h2.00V1198.5h2.00V1194.7h2.00V1191.7h2.00V1194.6h2.00V1199.2h2.00V1197.3h2.00V1197.5h2.00V1198.8h2.00V1197.0h2.00V1199.6h2.00V1191.1h2.00V1192.2h2.00V1199.0h2.00V1200.1h2.00V1194.7h2.00V1200.3h2.00V1199.5h2.00V1196.7h2.00V1201.4h2.00V1198.7h2.00V1201.6h2.00V1199.6h2.00V1200.5h2.00V1198.2h2.00V1197.5h2.00V1199.2h2.00V1197.0h2.00V1198.6h2.00V1196.6h2.00V1198.3h2.00V1200.2h2.00V1195.7h2.00V1194.2h2.00V1198.7h2.00V1195.6h2.00V1198.1h2.00V1199.5h2.00V1200.7h2.00V1201.9h2.00V1201.9h2.00V1191.9h2.00V1194.7h2.00V1198.7h2.00V1197.0h2.00V1195.0h2.00V1199.0h2.00V1197.3h2.00V1197.2h2.00V1197.9h2.00V1200.0h2.00V1198.3h2.00V1198.1h2.00V1195.1h2.00V1192.8h2.00V1196.6h2.00V1198.7h2.00V1195.1h2.00V1198.8h2.00V1196.2h2.00V1196.2h2.00V1194.3h2.00V1195.9h2.00V1189.3h2.00V1193.2h2.00V1199.2h2.00V1197.6h2.00V1197.0h2.00V1197.3h2.00V1200.3h2.00V1199.1h2.00V1199.0h2.00V1198.8h2.00V1195.7h2.00V1199.0h2.00V1197.8h2.00V1197.0h2.00V1192.6h2.00V1196.9h2.00V1198.5h2.00V1197.4h2.00V1192.8h2.00V1198.5h2.00V1189.0h2.00V1192.5h2.00V1194.6h2.00V1199.5h2.00V1194.6h2.00V1201.8h2.00V1200.2h2.00V1200.0h2.00V1197.6h2.00V1188.2h2.00V1185.7h2.00V1192.9h2.00V1200.3h2.00V1199.3h2.00V1199.7h2.00V1196.9h2.00V1197.9h2.00V1198.7h2.00V1199.4h2.00V1197.5h2.00V1196.1h2.00V1197.5h2.00V1184.3h2.00V1182.2h2.00V1182.6h2.00V1197.1h2.00V1198.5h2.00V1194.7h2.00V1193.1h2.00V1197.2h2.00V1200.6h2.00V1198.2h2.00V1190.2h2.00V1199.4h2.00V1199.4h2.00V1199.3h2.00V1200.2h2.00V1198.3h2.00V1198.7h2.00V1201.0h2.00V1199.6h2.00V1200.2h2.00V1198.0h2.00V1196.4h2.00V1190.9h2.00V1192.2h2.00V1196.4h2.00V1198.2h2.00V1196.7h2.00V1196.0h2.00V1196.2h2.00V1189.3h2.00V1201.5h2.00V1197.6h2.00V1198.2h2.00V1195.8h2.00V1195.9h2.00V1192.7h2.00V1194.3h2.00V1199.0h2.00V1188.7h2.00V1194.9h2.00V1194.7h2.00V1198.2h2.00V1199.1h2.00V1198.4h2.00V1196.5h2.00V1196.0h2.00V1196.9h2.00V1196.6h2.00V1195.2h2.00V1199.7h2.00V1189.3h2.00V1198.5h2.00V1194.6h2.00V1197.2h2.00V1196.6h2.00V1193.8h2.00V1198.7h2.00V1199.8h2.00V1194.4h2.00V1196.4h2.00V1200.1h2.00V1192.7h2.00V1193.5h2.00V1191.4h2.00V1198.8h2.00V1194.6h2.00V1199.8h2.00V1195.6h2.00V1197.8h2.00V1195.5h2.00V1196.0h2.00V1195.7h2.00V1196.9h2.00V1194.8h2.00V1193.9h2.00V1194.0h2.00V1197.0h2.00V1196.7h2.00V1195.7h2.00V1200.4h2.00V1193.0h2.00V1195.1h2.00V1199.0h2.00V1196.8h2.00V1199.8h2.00V1201.0h2.00V1200.5h2.00V1200.8h2.00V1195.1h2.00V1197.4h2.00V1196.6h2.00V1197.0h2.00V1198.3h2.00V1196.3h2.00V1199.3h2.00V1195.3h2.00V1195.3h2.00V1189.5h2.00V1197.1h2.00V1195.2h2.00V1197.2h2.00V1191.9h2.00V1196.5h2.00V1194.4h2.00V1196.9h2.00V1191.9h2.00V1196.4h2.00V1193.1h2.00V1196.8h2.00V1194.9h2.00V1198.2h2.00V1194.0h2.00V1198.0h2.00V1197.1h2.00V1198.3h2.00V1192.1h2.00V1188.0h2.00V1194.4h2.00V1197.1h2.00V1193.2h2.00V1195.8h2.00V1198.2h2.00V1193.4h2.00V1195.4h2.00V1196.5h2.00V1187.0h2.00V1194.6h2.00V1197.0h2.00V1193.8h2.00V1198.6h2.00V1198.3h2.00V1198.2h2.00V1199.9h2.00V1196.9h2.00V1198.2h2.00V1198.6h2.00V1194.3h2.00V1195.1h2.00V1192.8h2.00V1192.0h2.00V1195.0h2.00V1196.6h2.00V1195.4h2.00V1191.7h2.00V1194.6h2.00V1193.8h2.00V1195.6h2.00V1197.3h2.00V1195.4h2.00V1196.6h2.00V1194.9h2.00V1195.5h2.00V1197.9h2.00V1194.5h2.00V1198.1h2.00V1186.9h2.00V1198.0h2.00V1197.0h2.00V1198.4h2.00V1192.8h2.00V1199.1h2.00V1198.7h2.00V1197.2h2.00V1194.8h2.00V1194.3h2.00V1192.8h2.00V1192.6h2.00V1195.8h2.00V1194.7h2.00V1195.6h2.00V1195.4h2.00V1193.8h2.00V1196.0h2.00V1198.5h2.00V1195.9h2.00V1197.5h2.00V1195.4h2.00V1197.6h2.00V1197.0h2.00V1196.8h2.00V1197.6h2.00V1198.2h2.00V1187.1h2.00V1195.0h2.00V1195.7h2.00V1196.4h2.00V1195.3h2.00V1196.2h2.00V1187.7h2.00V1198.2h2.00V1193.4h2.00V1195.8h2.00V1193.1h2.00V1186.5h2.00V1194.8h2.00V1194.0h2.00V1194.9h2.00V1197.0h2.00V1194.5h2.00V1190.9h2.00V1193.0h2.00V1196.8h2.00V1193.5h2.00V1194.4h2.00V1196.9h2.00V1196.5h2.00V1192.7h2.00V1195.0h2.00V1195.4h2.00V1194.0h2.00V1194.1h2.00V1192.6h2.00V1193.7h2.00V1189.7h2.00V1192.9h2.00V1195.5h2.00V1193.6h2.00V1191.7h2.00V1193.7h2.00V1191.5h2.00V1194.9h2.00V1194.3h2.00V1192.3h2.00V1190.5h2.00V1195.0h2.00V1196.2h2.00V1194.9h2.00V1197.8h2.00V1195.5h2.00V1192.3h2.00V1195.4h2.00V1197.3h2.00V1194.9h2.00V1194.0h2.00V1197.0h2.00V1195.1h2.00V1197.9h2.00V1194.4h2.00V1195.1h2.00V1197.8h2.00V1190.2h2.00V1193.1h2.00V1193.6h2.00V1192.0h2.00V1194.0h2.00V1192.0h2.00V1195.2h2.00V1194.8h2.00V1192.4h2.00V1193.9h2.00V1195.9h2.00V1197.6h2.00V1190.5h2.00V1196.9h2.00V1197.1h2.00V1195.6h2.00V1198.2h2.00V1197.1h2.00V1193.4h2.00V1194.3h2.00V1192.8h2.00V1195.4h2.00V1188.3h2.00V1193.9h2.00V1180.8h2.00V1194.6h2.00V1191.2h2.00V1193.5h2.00V1195.2h2.00V1194.0h2.00V1192.7h2.00V1184.3h2.00V1189.1h2.00V1193.0h2.00V1190.8h2.00V1195.7h2.00V1192.0h2.00V1195.1h2.00V1194.0h2.00V1195.8h2.00V1186.2h2.00V1185.4h2.00V1197.1h2.00V1198.0h2.00V1194.6h2.00V1195.6h2.00V1194.4h2.00V1190.9h2.00V1188.2h2.00V1189.7h2.00V1190.4h2.00V1194.4h2.00V1192.8h2.00V1192.7h2.00V1194.6h2.00V1192.7h2.00V1189.5h2.00V1193.3h2.00V1192.6h2.00V1193.6h2.00V1194.3h2.00V1188.9h2.00V1191.3h2.00V1194.4h2.00V1191.0h2.00V1192.1h2.00V1191.0h2.00V1196.4h2.00V1197.4h2.00V1194.6h2.00V1195.5h2.00V1193.8h2.00V1192.1h2.00V1193.3h2.00V1191.1h2.00V1191.9h2.00V1193.7h2.00V1192.0h2.00V1193.8h2.00V1193.0h2.00V1189.9h2.00V1196.5h2.00V1195.4h2.00V1197.1h2.00V1190.7h2.00V1192.5h2.00V1194.5h2.00V1188.2h2.00V1192.8h2.00V1193.9h2.00V1193.3h2.00V1194.9h2.00V1196.5h2.00V1192.7h2.00V1192.3h2.00V1193.8h2.00V1190.4h2.00V1193.4h2.00V1193.8h2.00V1189.4h2.00V1192.5h2.00V1193.5h2.00V1185.6h2.00V1192.1h2.00V1192.9h2.00V1194.3h2.00V1193.2h2.00V1191.5h2.00V1194.7h2.00V1193.0h2.00V1193.5h2.00V1190.7h2.00V1192.5h2.00V1190.5h2.00V1190.5h2.00V1187.9h2.00V1195.0h2.00V1195.0h2.00V1193.3h2.00V1189.8h2.00V1189.8h2.00V1184.7h2.00V1190.2h2.00V1192.6h2.00V1191.0h2.00V1189.3h2.00V1192.7h2.00V1192.0h2.00V1192.8h2.00V1193.8h2.00V1189.1h2.00V1192.1h2.00V1190.0h2.00V1191.5h2.00V1191.1h2.00V1192.5h2.00V1191.3h2.00V1189.8h2.00V1191.7h2.00V1193.7h2.00V1189.8h2.00V1189.6h2.00V1191.8h2.00V1186.8h2.00V1189.2h2.00V1182.9h2.00V1189.9h2.00V1190.6h2.00V1192.4h2.00V1185.6h2.00V1189.3h2.00V1190.6h2.00V1189.5h2.00V1191.4h2.00V1184.6h2.00V1193.3h2.00V1193.9h2.00V1188.4h2.00V1193.9h2.00V1190.2h2.00V1188.5h2.00V1190.6h2.00V1190.7h2.00V1193.2h2.00V1188.1h2.00V1191.1h2.00V1190.7h2.00V1190.6h2.00V1189.7h2.00V1191.1h2.00V1192.2h2.00V1190.2h2.00V1188.7h2.00V1192.9h2.00V1190.9h2.00V1193.0h2.00V1188.3h2.00V1192.1h2.00V1191.4h2.00V1191.0h2.00V1191.7h2.00V1186.6h2.00V1194.7h2.00V1186.2h2.00V1191.5h2.00V1191.9h2.00V1193.4h2.00V1190.5h2.00V1190.8h2.00V1192.1h2.00V1191.3h2.00V1187.5h2.00V1190.6h2.00V1192.6h2.00V1188.7h2.00V1190.3h2.00V1185.6h2.00V1187.8h2.00V1190.1h2.00V1187.6h2.00V1191.0h2.00V1192.5h2.00V1187.3h2.00V1190.3h2.00V1189.7h2.00V1191.6h2.00V1190.8h2.00V1178.7h2.00V1191.0h2.00V1189.8h2.00V1191.7h2.00V1189.6h2.00V1189.4h2.00V1191.7h2.00V1191.4h2.00V1189.2h2.00V1189.9h2.00V1189.9h2.00V1189.3h2.00V1188.7h2.00V1190.3h2.00V1186.1h2.00V1187.3h2.00V1189.2h2.00V1187.1h2.00V1187.5h2.00V1188.7h2.00V1186.6h2.00V1191.6h2.00V1192.1h2.00V1187.5h2.00V1189.4h2.00V1191.8h2.00V1191.4h2.00V1187.7h2.00V1188.4h2.00V1187.6h2.00V1192.7h2.00V1188.1h2.00V1190.6h2.00V1188.8h2.00V1184.4h2.00V1190.0h2.00V1186.9h2.00V1185.9h2.00V1189.8h2.00V1188.6h2.00V1189.1h2.00V1187.2h2.00V1185.9h2.00V1184.8h2.00V1189.6h2.00V1184.8h2.00V1183.7h2.00V1184.2h2.00V1186.5h2.00V1188.8h2.00V1194.1h2.00V1191.0h2.00V1187.8h2.00V1192.1h2.00V1190.6h2.00V1190.2h2.00V1188.4h2.00V1190.5h2.00V1188.6h2.00V1182.6h2.00V1185.5h2.00V1189.0h2.00V1187.1h2.00V1179.5h2.00V1184.7h2.00V1186.2h2.00V1186.1h2.00V1188.4h2.00V1189.8h2.00V1185.8h2.00V1189.4h2.00V1185.2h2.00V1188.3h2.00V1187.0h2.00V1189.1h2.00V1186.9h2.00V1187.7h2.00V1188.8h2.00V1186.0h2.00V1189.7h2.00V1182.5h2.00V1188.5h2.00V1182.2h2.00V1182.0h2.00V1185.2h2.00V1182.8h2.00V1186.3h2.00V1177.6h2.00V1183.9h2.00V1185.6h2.00V1185.6h2.00V1181.2h2.00V1185.3h2.00V1185.2h2.00V1178.2h2.00V1182.3h2.00V1186.6h2.00V1186.2h2.00V1187.2h2.00V1189.3h2.00V1183.8h2.00V1183.3h2.00V1184.8h2.00V1186.6h2.00V1175.8h2.00V1186.3h2.00V1186.6h2.00V1187.0h2.00V1184.1h2.00V1178.3h2.00V1184.2h2.00V1184.2h2.00V1178.0h2.00V1185.9h2.00V1184.6h2.00V1184.7h2.00V1171.9h2.00V1186.3h2.00V1183.5h2.00V1187.5h2.00V1185.9h2.00V1183.4h2.00V1188.5h2.00V1188.0h2.00V1184.7h2.00V1187.1h2.00V1184.9h2.00V1182.8h2.00V1184.1h2.00V1180.6h2.00V1182.9h2.00V1185.4h2.00V1181.2h2.00V1183.1h2.00V1178.0h2.00V1175.7h2.00V1179.7h2.00V1182.7h2.00V1182.6h2.00V1183.6h2.00V1181.8h2.00V1177.8h2.00V1181.0h2.00V1185.2h2.00V1186.2h2.00V1184.3h2.00V1184.7h2.00V1182.3h2.00V1184.4h2.00V1183.4h2.00V1183.1h2.00V1180.9h2.00V1185.5h2.00V1182.2h2.00V1181.6h2.00V1182.0h2.00V1172.9h2.00V1176.7h2.00V1181.0h2.00V1181.8h2.00V1181.7h2.00V1179.7h2.00V1182.3h2.00V1180.0h2.00V1181.9h2.00V1179.4h2.00V1179.6h2.00V1181.8h2.00V1179.1h2.00V1180.0h2.00V1181.5h2.00V1179.4h2.00V1182.3h2.00V1176.7h2.00V1180.0h2.00V1179.6h2.00V1182.6h2.00V1177.5h2.00V1178.1h2.00V1179.2h2.00V1180.9h2.00V1176.8h2.00V1177.6h2.00V1172.4h2.00V1179.2h2.00V1181.2h2.00V1176.8h2.00V1177.4h2.00V1171.0h2.00V1178.0h2.00V1190.3h-2.00V1189.1h-2.00V1187.9h-2.00V1188.9h-2.00V1193.3h-2.00V1197.1h-2.00V1189.7h-2.00V1193.0h-2.00V1191.5h-2.00V1193.7h-2.00V1192.2h-2.00V1197.8h-2.00V1192.7h-2.00V1195.8h-2.00V1190.7h-2.00V1192.0h-2.00V1192.8h-2.00V1194.1h-2.00V1194.9h-2.00V1200.1h-2.00V1193.9h-2.00V1191.5h-2.00V1196.7h-2.00V1193.2h-2.00V1215.3h-2.00V1202.4h-2.00V1194.4h-2.00V1193.6h-2.00V1192.2h-2.00V1192.9h-2.00V1192.7h-2.00V1192.9h-2.00V1194.3h-2.00V1202.1h-2.00V1195.7h-2.00V1195.0h-2.00V1195.0h-2.00V1208.2h-2.00V1194.0h-2.00V1197.6h-2.00V1197.8h-2.00V1201.7h-2.00V1196.2h-2.00V1196.6h-2.00V1199.8h-2.00V1199.1h-2.00V1195.3h-2.00V1193.7h-2.00V1197.3h-2.00V1195.8h-2.00V1195.8h-2.00V1194.5h-2.00V1195.4h-2.00V1199.4h-2.00V1199.0h-2.00V1194.7h-2.00V1197.3h-2.00V1194.6h-2.00V1202.5h-2.00V1195.5h-2.00V1200.8h-2.00V1197.2h-2.00V1202.7h-2.00V1198.5h-2.00V1198.1h-2.00V1199.0h-2.00V1199.2h-2.00V1201.2h-2.00V1196.4h-2.00V1201.4h-2.00V1203.9h-2.00V1198.5h-2.00V1197.7h-2.00V1199.6h-2.00V1197.7h-2.00V1198.7h-2.00V1196.2h-2.00V1198.1h-2.00V1198.8h-2.00V1197.7h-2.00V1196.6h-2.00V1198.9h-2.00V1197.3h-2.00V1197.2h-2.00V1200.0h-2.00V1203.2h-2.00V1197.6h-2.00V1197.7h-2.00V1198.0h-2.00V1200.2h-2.00V1202.4h-2.00V1202.1h-2.00V1198.7h-2.00V1202.6h-2.00V1197.7h-2.00V1197.2h-2.00V1204.0h-2.00V1196.7h-2.00V1197.8h-2.00V1199.4h-2.00V1199.0h-2.00V1196.8h-2.00V1197.2h-2.00V1199.1h-2.00V1200.0h-2.00V1197.7h-2.00V1198.6h-2.00V1202.0h-2.00V1206.2h-2.00V1198.5h-2.00V1201.0h-2.00V1204.7h-2.00V1199.6h-2.00V1197.7h-2.00V1207.9h-2.00V1205.3h-2.00V1198.3h-2.00V1201.8h-2.00V1200.5h-2.00V1200.2h-2.00V1199.7h-2.00V1209.6h-2.00V1199.4h-2.00V1201.2h-2.00V1198.0h-2.00V1202.3h-2.00V1197.5h-2.00V1199.8h-2.00V1200.3h-2.00V1199.8h-2.00V1200.7h-2.00V1200.1h-2.00V1204.3h-2.00V1205.9h-2.00V1203.0h-2.00V1200.5h-2.00V1204.2h-2.00V1200.0h-2.00V1201.5h-2.00V1209.0h-2.00V1205.7h-2.00V1201.3h-2.00V1205.1h-2.00V1201.7h-2.00V1205.7h-2.00V1205.3h-2.00V1200.1h-2.00V1209.2h-2.00V1202.6h-2.00V1200.6h-2.00V1201.9h-2.00V1206.4h-2.00V1200.6h-2.00V1199.6h-2.00V1205.4h-2.00V1200.1h-2.00V1200.6h-2.00V1201.9h-2.00V1200.7h-2.00V1203.3h-2.00V1199.7h-2.00V1203.0h-2.00V1211.2h-2.00V1205.4h-2.00V1202.1h-2.00V1204.3h-2.00V1200.6h-2.00V1207.0h-2.00V1203.4h-2.00V1201.7h-2.00V1204.2h-2.00V1200.7h-2.00V1203.3h-2.00V1199.9h-2.00V1201.9h-2.00V1198.5h-2.00V1202.2h-2.00V1202.8h-2.00V1209.5h-2.00V1200.9h-2.00V1201.8h-2.00V1200.0h-2.00V1203.3h-2.00V1205.6h-2.00V1201.7h-2.00V1202.4h-2.00V1205.9h-2.00V1209.7h-2.00V1202.1h-2.00V1202.6h-2.00V1204.9h-2.00V1207.0h-2.00V1205.0h-2.00V1202.4h-2.00V1202.9h-2.00V1209.6h-2.00V1201.6h-2.00V1201.4h-2.00V1206.0h-2.00V1201.8h-2.00V1204.7h-2.00V1202.2h-2.00V1204.9h-2.00V1205.1h-2.00V1203.4h-2.00V1203.4h-2.00V1201.2h-2.00V1202.8h-2.00V1202.3h-2.00V1201.6h-2.00V1206.5h-2.00V1204.7h-2.00V1205.4h-2.00V1209.4h-2.00V1208.2h-2.00V1205.1h-2.00V1203.7h-2.00V1208.9h-2.00V1203.5h-2.00V1204.0h-2.00V1208.4h-2.00V1205.0h-2.00V1201.4h-2.00V1203.7h-2.00V1201.4h-2.00V1201.1h-2.00V1203.3h-2.00V1202.7h-2.00V1202.0h-2.00V1207.1h-2.00V1207.2h-2.00V1207.1h-2.00V1207.6h-2.00V1206.8h-2.00V1205.0h-2.00V1210.0h-2.00V1205.8h-2.00V1217.3h-2.00V1205.7h-2.00V1203.9h-2.00V1206.8h-2.00V1204.9h-2.00V1202.1h-2.00V1201.6h-2.00V1205.1h-2.00V1204.2h-2.00V1201.2h-2.00V1200.4h-2.00V1210.5h-2.00V1204.0h-2.00V1201.8h-2.00V1205.5h-2.00V1204.7h-2.00V1204.5h-2.00V1203.5h-2.00V1205.1h-2.00V1207.0h-2.00V1210.0h-2.00V1205.2h-2.00V1206.4h-2.00V1206.6h-2.00V1210.3h-2.00V1205.0h-2.00V1208.3h-2.00V1203.5h-2.00V1202.0h-2.00V1208.6h-2.00V1203.7h-2.00V1204.2h-2.00V1205.7h-2.00V1209.2h-2.00V1204.5h-2.00V1201.4h-2.00V1203.3h-2.00V1205.8h-2.00V1203.4h-2.00V1204.5h-2.00V1204.0h-2.00V1206.1h-2.00V1206.6h-2.00V1206.5h-2.00V1206.4h-2.00V1207.5h-2.00V1207.7h-2.00V1204.3h-2.00V1209.1h-2.00V1207.3h-2.00V1207.8h-2.00V1215.2h-2.00V1209.8h-2.00V1206.0h-2.00V1206.2h-2.00V1205.5h-2.00V1203.9h-2.00V1208.0h-2.00V1207.7h-2.00V1211.9h-2.00V1203.5h-2.00V1207.0h-2.00V1208.7h-2.00V1210.1h-2.00V1205.4h-2.00V1204.5h-2.00V1204.5h-2.00V1207.4h-2.00V1207.1h-2.00V1207.4h-2.00V1208.0h-2.00V1206.5h-2.00V1211.4h-2.00V1204.9h-2.00V1205.5h-2.00V1206.7h-2.00V1208.3h-2.00V1207.0h-2.00V1209.6h-2.00V1203.8h-2.00V1206.6h-2.00V1208.0h-2.00V1207.1h-2.00V1204.1h-2.00V1203.9h-2.00V1204.8h-2.00V1204.1h-2.00V1208.8h-2.00V1208.3h-2.00V1211.9h-2.00V1208.4h-2.00V1208.2h-2.00V1209.4h-2.00V1207.2h-2.00V1205.3h-2.00V1213.6h-2.00V1206.7h-2.00V1211.0h-2.00V1208.2h-2.00V1208.9h-2.00V1215.7h-2.00V1206.8h-2.00V1211.1h-2.00V1205.8h-2.00V1204.0h-2.00V1216.2h-2.00V1212.2h-2.00V1204.5h-2.00V1206.2h-2.00V1204.6h-2.00V1205.3h-2.00V1208.3h-2.00V1203.2h-2.00V1205.7h-2.00V1206.4h-2.00V1207.6h-2.00V1210.3h-2.00V1208.8h-2.00V1204.3h-2.00V1207.0h-2.00V1205.8h-2.00V1210.1h-2.00V1206.6h-2.00V1209.3h-2.00V1211.5h-2.00V1208.3h-2.00V1206.2h-2.00V1207.2h-2.00V1205.9h-2.00V1213.9h-2.00V1206.0h-2.00V1211.2h-2.00V1206.4h-2.00V1208.2h-2.00V1210.1h-2.00V1206.9h-2.00V1215.5h-2.00V1206.4h-2.00V1209.5h-2.00V1205.7h-2.00V1209.4h-2.00V1212.4h-2.00V1208.0h-2.00V1217.2h-2.00V1211.6h-2.00V1208.8h-2.00V1208.8h-2.00V1212.2h-2.00V1216.0h-2.00V1209.7h-2.00V1206.6h-2.00V1208.4h-2.00V1210.0h-2.00V1208.0h-2.00V1209.1h-2.00V1210.2h-2.00V1206.4h-2.00V1206.0h-2.00V1205.3h-2.00V1210.0h-2.00V1211.0h-2.00V1206.5h-2.00V1208.6h-2.00V1208.4h-2.00V1208.1h-2.00V1208.8h-2.00V1208.3h-2.00V1210.0h-2.00V1210.1h-2.00V1208.9h-2.00V1216.1h-2.00V1206.1h-2.00V1209.1h-2.00V1211.4h-2.00V1206.9h-2.00V1207.1h-2.00V1205.4h-2.00V1208.6h-2.00V1208.5h-2.00V1206.7h-2.00V1210.4h-2.00V1204.2h-2.00V1211.2h-2.00V1209.4h-2.00V1206.0h-2.00V1206.2h-2.00V1215.7h-2.00V1204.8h-2.00V1205.3h-2.00V1210.8h-2.00V1206.8h-2.00V1205.6h-2.00V1208.0h-2.00V1208.6h-2.00V1212.6h-2.00V1209.0h-2.00V1207.7h-2.00V1207.7h-2.00V1212.9h-2.00V1207.5h-2.00V1207.5h-2.00V1208.8h-2.00V1210.7h-2.00V1209.9h-2.00V1205.9h-2.00V1207.7h-2.00V1204.3h-2.00V1206.2h-2.00V1206.7h-2.00V1211.1h-2.00V1208.4h-2.00V1207.0h-2.00V1207.3h-2.00V1209.1h-2.00V1207.3h-2.00V1208.0h-2.00V1213.7h-2.00V1212.0h-2.00V1215.9h-2.00V1213.6h-2.00V1213.4h-2.00V1213.2h-2.00V1211.3h-2.00V1210.7h-2.00V1208.5h-2.00V1210.6h-2.00V1212.6h-2.00V1208.5h-2.00V1207.4h-2.00V1209.6h-2.00V1209.8h-2.00V1208.4h-2.00V1208.7h-2.00V1207.8h-2.00V1219.0h-2.00V1209.6h-2.00V1210.8h-2.00V1208.6h-2.00V1212.8h-2.00V1212.7h-2.00V1214.1h-2.00V1213.1h-2.00V1212.2h-2.00V1212.0h-2.00V1209.6h-2.00V1213.2h-2.00V1207.1h-2.00V1209.9h-2.00V1208.7h-2.00V1207.5h-2.00V1207.8h-2.00V1216.3h-2.00V1211.7h-2.00V1210.5h-2.00V1207.8h-2.00V1218.3h-2.00V1206.7h-2.00V1217.5h-2.00V1207.3h-2.00V1214.8h-2.00V1205.6h-2.00V1212.1h-2.00V1211.7h-2.00V1213.9h-2.00V1214.9h-2.00V1209.3h-2.00V1210.4h-2.00V1212.5h-2.00V1211.5h-2.00V1209.6h-2.00V1212.0h-2.00V1212.1h-2.00V1212.3h-2.00V1204.4h-2.00V1207.1h-2.00V1208.7h-2.00V1211.3h-2.00V1205.2h-2.00V1230.3h-2.00V1213.8h-2.00V1212.4h-2.00V1212.3h-2.00V1207.2h-2.00V1208.8h-2.00V1205.9h-2.00V1213.5h-2.00V1211.4h-2.00V1208.7h-2.00V1211.0h-2.00V1210.1h-2.00V1208.6h-2.00V1211.6h-2.00V1211.6h-2.00V1216.0h-2.00V1214.2h-2.00V1209.3h-2.00V1209.0h-2.00V1208.4h-2.00V1213.7h-2.00V1221.1h-2.00V1211.0h-2.00V1208.9h-2.00V1210.8h-2.00V1208.1h-2.00V1209.3h-2.00V1216.8h-2.00V1207.7h-2.00V1210.1h-2.00V1209.3h-2.00V1207.9h-2.00V1212.9h-2.00V1213.9h-2.00V1214.6h-2.00V1214.7h-2.00V1211.3h-2.00V1213.1h-2.00V1210.1h-2.00V1210.9h-2.00V1213.6h-2.00V1212.3h-2.00V1211.3h-2.00V1211.7h-2.00V1208.1h-2.00V1209.9h-2.00V1208.0h-2.00V1208.2h-2.00V1218.3h-2.00V1209.1h-2.00V1211.0h-2.00V1210.5h-2.00V1207.9h-2.00V1209.2h-2.00V1211.5h-2.00V1211.3h-2.00V1214.5h-2.00V1210.3h-2.00V1207.4h-2.00V1210.0h-2.00V1211.9h-2.00V1211.8h-2.00V1210.6h-2.00V1211.3h-2.00V1212.7h-2.00V1215.5h-2.00V1210.2h-2.00V1212.7h-2.00V1212.0h-2.00V1213.4h-2.00V1210.0h-2.00V1209.5h-2.00V1210.9h-2.00V1206.6h-2.00V1209.2h-2.00V1208.3h-2.00V1211.7h-2.00V1211.9h-2.00V1210.0h-2.00V1209.3h-2.00V1213.2h-2.00V1210.0h-2.00V1208.9h-2.00V1209.7h-2.00V1213.1h-2.00V1209.6h-2.00V1207.6h-2.00V1208.0h-2.00V1212.6h-2.00V1209.1h-2.00V1209.3h-2.00V1218.1h-2.00V1210.6h-2.00V1210.5h-2.00V1206.6h-2.00V1208.2h-2.00V1211.8h-2.00V1211.2h-2.00V1209.6h-2.00V1216.4h-2.00V1209.2h-2.00V1209.9h-2.00V1214.3h-2.00V1210.8h-2.00V1212.0h-2.00V1214.9h-2.00V1212.5h-2.00V1211.4h-2.00V1209.8h-2.00V1213.0h-2.00V1212.4h-2.00V1212.6h-2.00V1214.6h-2.00V1222.1h-2.00V1208.9h-2.00V1211.4h-2.00V1207.3h-2.00V1210.9h-2.00V1208.1h-2.00V1195.4h-2.00V1193.5h-2.00V1205.1h-2.00V1208.0h-2.00V1209.5h-2.00V1208.3h-2.00V1212.1h-2.00V1214.6h-2.00V1214.2h-2.00V1210.3h-2.00V1212.4h-2.00V1213.7h-2.00V1213.8h-2.00V1206.6h-2.00V1199.0h-2.00V1203.7h-2.00V1211.1h-2.00V1216.4h-2.00V1212.7h-2.00V1219.4h-2.00V1216.0h-2.00V1209.9h-2.00V1209.6h-2.00V1211.4h-2.00V1209.7h-2.00V1211.5h-2.00V1210.9h-2.00V1208.6h-2.00V1211.2h-2.00V1214.7h-2.00V1211.8h-2.00V1208.3h-2.00V1209.6h-2.00V1215.3h-2.00V1209.3h-2.00V1209.2h-2.00V1219.5h-2.00V1210.7h-2.00V1219.8h-2.00V1211.4h-2.00V1224.1h-2.00V1212.0h-2.00V1215.2h-2.00V1211.0h-2.00V1209.6h-2.00V1209.2h-2.00V1211.9h-2.00V1209.4h-2.00V1212.1h-2.00V1209.5h-2.00V1208.6h-2.00V1208.7h-2.00V1210.4h-2.00V1209.1h-2.00V1210.9h-2.00V1210.6h-2.00V1209.6h-2.00V1212.1h-2.00V1209.9h-2.00V1208.8h-2.00V1214.5h-2.00V1213.2h-2.00V1209.6h-2.00V1208.6h-2.00V1212.0h-2.00V1211.5h-2.00V1212.1h-2.00V1213.1h-2.00V1214.4h-2.00V1211.1h-2.00V1215.2h-2.00V1210.7h-2.00V1209.8h-2.00V1212.9h-2.00V1214.4h-2.00V1210.3h-2.00V1211.9h-2.00V1210.5h-2.00V1209.5h-2.00V1208.5h-2.00V1209.3h-2.00V1211.5h-2.00V1214.7h-2.00V1212.2h-2.00V1211.9h-2.00V1212.4h-2.00V1212.9h-2.00V1213.6h-2.00V1216.2h-2.00V1214.3h-2.00V1213.1h-2.00V1212.1h-2.00V1210.2h-2.00V1213.6h-2.00V1211.6h-2.00V1209.4h-2.00V1222.1h-2.00V1211.5h-2.00V1208.8h-2.00V1212.6h-2.00V1211.1h-2.00V1208.1h-2.00V1211.8h-2.00V1211.0h-2.00V1221.4h-2.00V1210.2h-2.00V1209.1h-2.00V1210.7h-2.00V1211.6h-2.00V1221.0h-2.00V1208.9h-2.00V1212.8h-2.00V1213.1h-2.00V1210.0h-2.00V1213.5h-2.00V1209.7h-2.00V1209.0h-2.00V1206.3h-2.00V1207.2h-2.00V1208.3h-2.00V1210.7h-2.00V1206.3h-2.00V1210.0h-2.00V1214.3h-2.00V1218.6h-2.00V1211.8h-2.00V1209.0h-2.00V1208.4h-2.00V1211.9h-2.00V1208.9h-2.00V1208.0h-2.00V1208.4h-2.00V1209.5h-2.00V1208.6h-2.00V1211.4h-2.00V1210.2h-2.00V1207.7h-2.00V1210.8h-2.00V1208.2h-2.00V1207.2h-2.00V1205.3h-2.00V1209.0h-2.00V1206.8h-2.00V1209.2h-2.00V1219.8h-2.00V1213.0h-2.00V1211.7h-2.00V1207.5h-2.00V1213.9h-2.00V1205.8h-2.00V1208.5h-2.00V1208.1h-2.00V1207.8h-2.00V1208.7h-2.00V1212.6h-2.00V1209.9h-2.00V1214.5h-2.00V1209.1h-2.00V1207.7h-2.00V1208.8h-2.00V1209.2h-2.00V1208.5h-2.00V1211.5h-2.00V1206.6h-2.00V1207.6h-2.00V1212.7h-2.00V1212.1h-2.00V1211.3h-2.00V1206.2h-2.00V1206.8h-2.00V1207.2h-2.00V1204.2h-2.00V1205.6h-2.00V1209.5h-2.00V1206.4h-2.00V1206.8h-2.00V1204.1h-2.00V1207.0h-2.00V1208.1h-2.00V1206.3h-2.00V1209.9h-2.00V1207.7h-2.00V1206.5h-2.00V1207.2h-2.00V1209.9h-2.00V1207.9h-2.00V1206.8h-2.00V1205.7h-2.00V1208.4h-2.00V1206.5h-2.00V1206.7h-2.00V1204.5h-2.00V1204.8h-2.00V1201.9h-2.00V1207.3h-2.00V1212.5h-2.00V1209.9h-2.00V1203.2h-2.00V1204.0h-2.00V1203.6h-2.00V1201.1h-2.00V1204.8h-2.00V1200.8h-2.00V1202.3h-2.00V1201.1h-2.00V1201.1h-2.00V1202.6h-2.00V1202.0h-2.00V1202.4h-2.00V1202.4h-2.00V1204.0h-2.00V1201.2h-2.00V1203.3h-2.00V1204.3h-2.00V1200.0h-2.00V1201.4h-2.00V1200.2h-2.00V1207.7h-2.00V1209.8h-2.00V1203.7h-2.00V1199.5h-2.00V1198.0h-2.00V1196.5h-2.00V1199.4h-2.00V1198.6h-2.00V1200.0h-2.00V1197.8h-2.00V1198.2h-2.00V1196.8h-2.00V1198.5h-2.00V1198.1h-2.00V1196.6h-2.00V1199.7h-2.00V1195.0h-2.00V1195.9h-2.00Z" fill="#ff0000"/><g fill="none" stroke="#ff0000" stroke-width="2.2" stroke-linejoin="round"><polyline points="646.5,1204.8 647.0,1204.4 647.5,1203.6 648.0,1201.4 648.5,1196.3 649.0,1187.1 649.5,1175.9 650.0,1169.8 650.5,1172.8 651.0,1179.6 651.5,1187.3 652.0,1193.8 652.5,1198.6 653.0,1201.7 653.5,1203.4 654.0,1204.3 654.5,1204.8"/><polyline points="672.5,1203.4 673.0,1203.2 673.5,1202.7 674.0,1201.3 674.5,1198.5 675.0,1193.3 675.5,1185.9 676.0,1177.9 676.5,1173.1 677.0,1174.1 677.5,1178.0 678.0,1183.4 678.5,1188.9 679.0,1193.6 679.5,1197.4 680.0,1200.0 680.5,1201.8 681.0,1202.8 681.5,1203.4"/></g>
<path d="M209.5,1094.9h2.00V1090.2h2.00V1096.1h2.00V1098.6h2.00V1101.4h2.00V1098.3h2.00V1099.7h2.00V1098.0h2.00V1094.0h2.00V1096.6h2.00V1096.0h2.00V1096.2h2.00V1101.1h2.00V1091.1h2.00V1098.3h2.00V1095.3h2.00V1095.6h2.00V1098.6h2.00V1097.5h2.00V1099.2h2.00V1079.6h2.00V1098.7h2.00V1096.7h2.00V1092.6h2.00V1100.6h2.00V1099.0h2.00V1098.2h2.00V1099.0h2.00V1098.0h2.00V1099.2h2.00V1098.4h2.00V1094.2h2.00V1092.6h2.00V1096.9h2.00V1090.8h2.00V1090.3h2.00V1081.9h2.00V1077.5h2.00V1086.8h2.00V1089.4h2.00V1095.5h2.00V1090.6h2.00V1096.4h2.00V1099.6h2.00V1096.5h2.00V1094.3h2.00V1091.7h2.00V1097.6h2.00V1097.1h2.00V1095.5h2.00V1097.1h2.00V1093.3h2.00V1088.4h2.00V1088.7h2.00V1091.4h2.00V1091.8h2.00V1088.8h2.00V1092.4h2.00V1091.2h2.00V1088.9h2.00V1093.0h2.00V1088.1h2.00V1087.1h2.00V1091.9h2.00V1094.5h2.00V1096.7h2.00V1098.8h2.00V1084.1h2.00V1093.1h2.00V1096.4h2.00V1092.8h2.00V1085.3h2.00V1090.9h2.00V1091.5h2.00V1078.5h2.00V1061.9h2.00V1074.9h2.00V1086.1h2.00V1079.6h2.00V1093.0h2.00V1093.4h2.00V1094.1h2.00V1091.0h2.00V1097.7h2.00V1094.4h2.00V1097.2h2.00V1094.6h2.00V1089.8h2.00V1094.8h2.00V1080.3h2.00V1096.2h2.00V1087.5h2.00V1094.8h2.00V1094.9h2.00V1087.8h2.00V1094.8h2.00V1090.2h2.00V1096.3h2.00V1090.1h2.00V1093.8h2.00V1098.9h2.00V1089.4h2.00V1095.5h2.00V1097.3h2.00V1090.4h2.00V1087.3h2.00V1098.2h2.00V1095.9h2.00V1099.7h2.00V1094.6h2.00V1088.0h2.00V1085.4h2.00V1091.7h2.00V1096.4h2.00V1091.1h2.00V1089.2h2.00V1095.1h2.00V1086.2h2.00V1094.6h2.00V1094.7h2.00V1096.5h2.00V1095.6h2.00V1094.9h2.00V1091.3h2.00V1089.7h2.00V1097.9h2.00V1096.4h2.00V1094.7h2.00V1082.9h2.00V1078.2h2.00V1090.7h2.00V1084.5h2.00V1092.0h2.00V1088.3h2.00V1088.7h2.00V1093.1h2.00V1089.7h2.00V1092.1h2.00V1088.2h2.00V1077.1h2.00V1075.3h2.00V1087.2h2.00V1085.4h2.00V1090.5h2.00V1092.7h2.00V1092.4h2.00V1092.7h2.00V1092.3h2.00V1080.4h2.00V1086.0h2.00V1095.1h2.00V1089.0h2.00V1090.8h2.00V1084.7h2.00V1076.4h2.00V1081.6h2.00V1063.9h2.00V1080.8h2.00V1078.6h2.00V1085.2h2.00V1068.9h2.00V1072.0h2.00V1068.6h2.00V1082.2h2.00V1086.4h2.00V1084.4h2.00V1088.7h2.00V1091.2h2.00V1087.9h2.00V1080.6h2.00V1082.9h2.00V1088.6h2.00V1088.9h2.00V1086.4h2.00V1086.4h2.00V1084.2h2.00V1083.7h2.00V1084.3h2.00V1080.3h2.00V1078.5h2.00V1082.3h2.00V1086.6h2.00V1087.3h2.00V1089.7h2.00V1091.3h2.00V1080.4h2.00V1086.4h2.00V1083.8h2.00V1079.9h2.00V1087.6h2.00V1085.3h2.00V1078.2h2.00V1085.7h2.00V1080.0h2.00V1083.3h2.00V1077.6h2.00V1081.6h2.00V1081.7h2.00V1077.6h2.00V1077.8h2.00V1083.1h2.00V1074.4h2.00V1071.8h2.00V1066.8h2.00V1070.2h2.00V1072.1h2.00V1065.0h2.00V1078.6h2.00V1075.2h2.00V1082.3h2.00V1079.2h2.00V1077.6h2.00V1081.5h2.00V1084.0h2.00V1080.2h2.00V1079.3h2.00V1072.6h2.00V1070.3h2.00V1068.4h2.00V1062.9h2.00V1064.5h2.00V1067.6h2.00V1067.7h2.00V1065.3h2.00V1061.7h2.00V1069.7h2.00V1067.6h2.00V1061.0h2.00V1071.2h2.00V1069.6h2.00V1070.8h2.00V1069.2h2.00V1060.3h2.00V1059.2h2.00V1057.1h2.00V1063.9h2.00V1074.0h2.00V1071.8h2.00V1073.9h2.00V1071.1h2.00V1066.8h2.00V1072.0h2.00V1067.3h2.00V1057.1h2.00V1067.0h2.00V1064.9h2.00V1066.1h2.00V1062.9h2.00V1064.0h2.00V1058.1h2.00V1055.6h2.00V1068.7h2.00V1071.2h2.00V1074.3h2.00V1066.6h2.00V1060.5h2.00V1062.6h2.00V1064.1h2.00V1056.7h2.00V1061.3h2.00V1056.4h2.00V1061.2h2.00V1058.4h2.00V1060.4h2.00V1058.6h2.00V1070.0h2.00V1072.7h2.00V1077.9h2.00V1081.3h2.00V1073.4h2.00V1073.1h2.00V1074.8h2.00V1073.6h2.00V1064.4h2.00V1067.3h2.00V1066.4h2.00V1065.9h2.00V1069.3h2.00V1064.4h2.00V1071.3h2.00V1056.2h2.00V1063.4h2.00V1075.0h2.00V1075.2h2.00V1076.8h2.00V1081.7h2.00V1072.5h2.00V1079.0h2.00V1077.5h2.00V1084.8h2.00V1074.2h2.00V1080.3h2.00V1082.4h2.00V1073.9h2.00V1079.5h2.00V1077.4h2.00V1074.3h2.00V1078.9h2.00V1069.7h2.00V1076.1h2.00V1078.3h2.00V1077.9h2.00V1077.4h2.00V1078.2h2.00V1076.6h2.00V1068.4h2.00V1067.7h2.00V1054.3h2.00V1067.8h2.00V1075.8h2.00V1072.5h2.00V1076.9h2.00V1076.3h2.00V1065.0h2.00V1071.0h2.00V1078.6h2.00V1079.0h2.00V1070.7h2.00V1074.2h2.00V1070.9h2.00V1074.2h2.00V1073.2h2.00V1061.7h2.00V1060.6h2.00V1071.9h2.00V1071.4h2.00V1072.3h2.00V1077.3h2.00V1072.1h2.00V1081.8h2.00V1081.5h2.00V1079.3h2.00V1077.2h2.00V1078.0h2.00V1074.0h2.00V1073.6h2.00V1066.2h2.00V1072.1h2.00V1079.1h2.00V1072.3h2.00V1077.1h2.00V1072.2h2.00V1076.0h2.00V1074.2h2.00V1076.5h2.00V1079.2h2.00V1080.1h2.00V1081.0h2.00V1080.3h2.00V1079.3h2.00V1067.8h2.00V1057.9h2.00V1064.5h2.00V1064.2h2.00V1077.5h2.00V1081.3h2.00V1076.4h2.00V1073.4h2.00V1070.5h2.00V1064.5h2.00V1078.6h2.00V1078.2h2.00V1077.3h2.00V1072.5h2.00V1078.8h2.00V1071.0h2.00V1081.9h2.00V1077.5h2.00V1075.4h2.00V1078.2h2.00V1081.0h2.00V1079.3h2.00V1082.6h2.00V1069.9h2.00V1078.2h2.00V1072.7h2.00V1080.1h2.00V1081.8h2.00V1065.7h2.00V1073.5h2.00V1076.1h2.00V1068.3h2.00V1063.1h2.00V1066.7h2.00V1076.1h2.00V1080.0h2.00V1075.9h2.00V1078.6h2.00V1079.9h2.00V1077.9h2.00V1077.8h2.00V1081.6h2.00V1081.1h2.00V1081.3h2.00V1082.1h2.00V1075.8h2.00V1067.3h2.00V1076.7h2.00V1074.5h2.00V1076.9h2.00V1076.1h2.00V1072.4h2.00V1072.8h2.00V1067.8h2.00V1074.9h2.00V1076.1h2.00V1069.3h2.00V1078.5h2.00V1082.7h2.00V1077.9h2.00V1077.6h2.00V1077.1h2.00V1075.6h2.00V1072.9h2.00V1073.9h2.00V1078.0h2.00V1072.4h2.00V1071.2h2.00V1074.5h2.00V1068.2h2.00V1070.9h2.00V1074.3h2.00V1075.1h2.00V1075.6h2.00V1077.2h2.00V1075.4h2.00V1054.8h2.00V1074.4h2.00V1074.0h2.00V1066.8h2.00V1079.6h2.00V1072.3h2.00V1080.6h2.00V1073.4h2.00V1076.6h2.00V1060.5h2.00V1063.3h2.00V1062.7h2.00V1061.2h2.00V1062.0h2.00V1065.3h2.00V1070.9h2.00V1072.2h2.00V1062.4h2.00V1053.4h2.00V1062.7h2.00V1062.6h2.00V1068.8h2.00V1073.4h2.00V1074.0h2.00V1076.2h2.00V1074.9h2.00V1072.5h2.00V1077.1h2.00V1077.7h2.00V1074.9h2.00V1076.9h2.00V1067.2h2.00V1072.0h2.00V1072.6h2.00V1060.3h2.00V1056.4h2.00V1060.0h2.00V1072.5h2.00V1072.8h2.00V1072.5h2.00V1072.0h2.00V1076.7h2.00V1072.6h2.00V1065.9h2.00V1076.7h2.00V1082.3h2.00V1077.1h2.00V1070.0h2.00V1076.0h2.00V1072.4h2.00V1058.4h2.00V1078.6h2.00V1080.2h2.00V1079.0h2.00V1078.7h2.00V1072.7h2.00V1072.2h2.00V1074.1h2.00V1070.6h2.00V1077.2h2.00V1073.9h2.00V1071.8h2.00V1076.6h2.00V1080.1h2.00V1076.7h2.00V1078.8h2.00V1075.6h2.00V1082.3h2.00V1078.3h2.00V1063.8h2.00V1076.5h2.00V1076.3h2.00V1076.3h2.00V1074.3h2.00V1071.9h2.00V1071.4h2.00V1073.0h2.00V1071.6h2.00V1073.2h2.00V1075.4h2.00V1074.1h2.00V1075.6h2.00V1063.9h2.00V1059.5h2.00V1062.3h2.00V1063.7h2.00V1061.1h2.00V1058.5h2.00V1067.6h2.00V1075.2h2.00V1074.5h2.00V1076.3h2.00V1075.7h2.00V1068.9h2.00V1069.7h2.00V1072.8h2.00V1073.0h2.00V1073.0h2.00V1076.4h2.00V1073.9h2.00V1075.9h2.00V1075.5h2.00V1070.5h2.00V1076.1h2.00V1075.9h2.00V1078.2h2.00V1079.0h2.00V1075.8h2.00V1077.9h2.00V1075.4h2.00V1070.6h2.00V1073.1h2.00V1074.3h2.00V1069.2h2.00V1080.1h2.00V1072.9h2.00V1072.5h2.00V1075.3h2.00V1072.1h2.00V1067.5h2.00V1074.3h2.00V1076.5h2.00V1075.2h2.00V1081.9h2.00V1079.4h2.00V1075.8h2.00V1078.2h2.00V1079.1h2.00V1072.3h2.00V1080.7h2.00V1077.8h2.00V1073.0h2.00V1079.4h2.00V1072.9h2.00V1058.2h2.00V1059.0h2.00V1062.6h2.00V1063.3h2.00V1075.4h2.00V1072.0h2.00V1069.7h2.00V1075.9h2.00V1073.5h2.00V1077.5h2.00V1077.0h2.00V1081.2h2.00V1075.6h2.00V1077.8h2.00V1073.0h2.00V1075.6h2.00V1072.5h2.00V1080.6h2.00V1078.9h2.00V1079.0h2.00V1073.2h2.00V1068.0h2.00V1070.6h2.00V1073.6h2.00V1075.1h2.00V1065.9h2.00V1075.5h2.00V1078.5h2.00V1079.3h2.00V1071.6h2.00V1073.4h2.00V1077.8h2.00V1075.7h2.00V1071.3h2.00V1074.0h2.00V1078.1h2.00V1075.4h2.00V1077.3h2.00V1072.2h2.00V1068.0h2.00V1070.2h2.00V1071.4h2.00V1071.5h2.00V1075.0h2.00V1071.4h2.00V1058.1h2.00V1070.5h2.00V1067.3h2.00V1071.3h2.00V1076.8h2.00V1075.8h2.00V1076.1h2.00V1079.2h2.00V1077.4h2.00V1071.3h2.00V1075.3h2.00V1075.5h2.00V1070.3h2.00V1075.9h2.00V1075.2h2.00V1063.8h2.00V1070.5h2.00V1064.9h2.00V1067.9h2.00V1072.0h2.00V1074.4h2.00V1075.3h2.00V1074.8h2.00V1074.7h2.00V1078.6h2.00V1072.8h2.00V1063.0h2.00V1072.6h2.00V1076.9h2.00V1075.1h2.00V1065.2h2.00V1077.9h2.00V1074.2h2.00V1073.1h2.00V1071.2h2.00V1077.0h2.00V1065.3h2.00V1074.8h2.00V1070.6h2.00V1066.6h2.00V1048.8h2.00V1053.7h2.00V1059.7h2.00V1063.4h2.00V1062.6h2.00V1065.7h2.00V1065.7h2.00V1069.1h2.00V1075.4h2.00V1073.1h2.00V1070.6h2.00V1074.5h2.00V1074.3h2.00V1068.8h2.00V1074.7h2.00V1075.7h2.00V1072.3h2.00V1074.2h2.00V1067.2h2.00V1076.0h2.00V1076.0h2.00V1075.0h2.00V1073.6h2.00V1075.3h2.00V1066.3h2.00V1075.2h2.00V1071.6h2.00V1065.9h2.00V1070.5h2.00V1070.5h2.00V1073.4h2.00V1075.1h2.00V1076.4h2.00V1070.4h2.00V1076.0h2.00V1072.5h2.00V1072.3h2.00V1072.6h2.00V1071.4h2.00V1067.4h2.00V1071.8h2.00V1070.4h2.00V1074.6h2.00V1069.7h2.00V1076.1h2.00V1073.1h2.00V1073.2h2.00V1077.1h2.00V1072.4h2.00V1073.5h2.00V1074.3h2.00V1074.3h2.00V1076.5h2.00V1074.1h2.00V1067.4h2.00V1067.9h2.00V1065.5h2.00V1067.6h2.00V1064.8h2.00V1073.1h2.00V1068.7h2.00V1071.9h2.00V1072.3h2.00V1072.0h2.00V1073.6h2.00V1065.4h2.00V1075.7h2.00V1076.0h2.00V1071.4h2.00V1072.8h2.00V1071.7h2.00V1070.7h2.00V1075.8h2.00V1072.8h2.00V1069.6h2.00V1072.9h2.00V1073.4h2.00V1071.2h2.00V1067.9h2.00V1073.6h2.00V1071.7h2.00V1070.6h2.00V1070.1h2.00V1073.6h2.00V1065.8h2.00V1070.7h2.00V1070.4h2.00V1074.6h2.00V1068.6h2.00V1073.0h2.00V1073.3h2.00V1076.5h2.00V1075.2h2.00V1070.6h2.00V1064.6h2.00V1069.1h2.00V1047.7h2.00V1055.3h2.00V1048.8h2.00V1062.2h2.00V1065.5h2.00V1069.8h2.00V1068.0h2.00V1070.7h2.00V1074.0h2.00V1074.7h2.00V1075.3h2.00V1067.4h2.00V1074.9h2.00V1073.3h2.00V1065.8h2.00V1075.0h2.00V1074.3h2.00V1069.9h2.00V1068.7h2.00V1075.7h2.00V1072.4h2.00V1070.7h2.00V1067.4h2.00V1072.3h2.00V1068.7h2.00V1072.0h2.00V1069.5h2.00V1064.1h2.00V1067.9h2.00V1067.9h2.00V1074.6h2.00V1069.6h2.00V1069.8h2.00V1074.5h2.00V1076.4h2.00V1076.0h2.00V1067.9h2.00V1065.8h2.00V1067.1h2.00V1051.5h2.00V1058.8h2.00V1049.6h2.00V1059.1h2.00V1065.8h2.00V1062.0h2.00V1061.5h2.00V1071.6h2.00V1070.6h2.00V1068.1h2.00V1063.5h2.00V1062.3h2.00V1062.5h2.00V1069.2h2.00V1071.1h2.00V1070.3h2.00V1072.0h2.00V1067.1h2.00V1074.6h2.00V1055.9h2.00V1058.2h2.00V1069.0h2.00V1068.1h2.00V1066.7h2.00V1071.0h2.00V1067.3h2.00V1064.1h2.00V1059.2h2.00V1065.1h2.00V1068.7h2.00V1062.3h2.00V1064.7h2.00V1074.5h2.00V1071.7h2.00V1073.2h2.00V1072.4h2.00V1070.3h2.00V1068.1h2.00V1073.7h2.00V1068.1h2.00V1073.9h2.00V1066.4h2.00V1071.1h2.00V1067.5h2.00V1067.7h2.00V1067.9h2.00V1067.8h2.00V1063.5h2.00V1068.9h2.00V1071.3h2.00V1072.5h2.00V1054.9h2.00V1064.0h2.00V1071.9h2.00V1059.0h2.00V1068.2h2.00V1067.7h2.00V1071.1h2.00V1071.4h2.00V1070.4h2.00V1071.2h2.00V1068.6h2.00V1065.8h2.00V1069.6h2.00V1067.5h2.00V1064.1h2.00V1065.8h2.00V1068.5h2.00V1067.4h2.00V1068.3h2.00V1067.2h2.00V1060.7h2.00V1070.6h2.00V1070.0h2.00V1070.8h2.00V1069.3h2.00V1058.0h2.00V1073.7h2.00V1073.1h2.00V1074.6h2.00V1056.7h2.00V1063.5h2.00V1061.1h2.00V1065.4h2.00V1066.7h2.00V1065.3h2.00V1059.0h2.00V1062.9h2.00V1062.1h2.00V1091.6h-2.00V1082.0h-2.00V1081.1h-2.00V1080.4h-2.00V1088.3h-2.00V1090.2h-2.00V1084.2h-2.00V1087.2h-2.00V1086.0h-2.00V1094.9h-2.00V1087.3h-2.00V1091.6h-2.00V1091.6h-2.00V1090.9h-2.00V1090.7h-2.00V1088.9h-2.00V1087.2h-2.00V1088.1h-2.00V1086.5h-2.00V1085.0h-2.00V1085.7h-2.00V1087.3h-2.00V1082.2h-2.00V1094.9h-2.00V1094.1h-2.00V1089.3h-2.00V1086.3h-2.00V1086.4h-2.00V1090.5h-2.00V1089.4h-2.00V1091.4h-2.00V1092.3h-2.00V1097.5h-2.00V1091.4h-2.00V1099.3h-2.00V1090.9h-2.00V1088.1h-2.00V1086.6h-2.00V1089.1h-2.00V1088.6h-2.00V1085.9h-2.00V1089.2h-2.00V1083.0h-2.00V1087.3h-2.00V1085.1h-2.00V1084.4h-2.00V1087.3h-2.00V1087.1h-2.00V1092.6h-2.00V1084.8h-2.00V1093.6h-2.00V1088.3h-2.00V1089.4h-2.00V1087.3h-2.00V1089.1h-2.00V1094.9h-2.00V1096.4h-2.00V1086.7h-2.00V1087.5h-2.00V1089.6h-2.00V1088.9h-2.00V1083.1h-2.00V1082.3h-2.00V1087.2h-2.00V1089.1h-2.00V1088.7h-2.00V1085.7h-2.00V1083.3h-2.00V1087.6h-2.00V1089.1h-2.00V1093.9h-2.00V1091.1h-2.00V1094.0h-2.00V1093.1h-2.00V1092.7h-2.00V1089.1h-2.00V1085.7h-2.00V1086.7h-2.00V1085.5h-2.00V1086.5h-2.00V1086.6h-2.00V1092.3h-2.00V1088.1h-2.00V1083.4h-2.00V1082.4h-2.00V1081.4h-2.00V1079.2h-2.00V1077.3h-2.00V1073.9h-2.00V1082.1h-2.00V1093.5h-2.00V1098.6h-2.00V1095.1h-2.00V1091.0h-2.00V1091.1h-2.00V1091.8h-2.00V1085.9h-2.00V1089.8h-2.00V1089.5h-2.00V1084.5h-2.00V1088.4h-2.00V1097.4h-2.00V1087.1h-2.00V1102.3h-2.00V1093.2h-2.00V1087.9h-2.00V1088.5h-2.00V1090.1h-2.00V1092.7h-2.00V1091.2h-2.00V1089.7h-2.00V1091.4h-2.00V1091.3h-2.00V1090.6h-2.00V1091.4h-2.00V1091.9h-2.00V1093.9h-2.00V1092.0h-2.00V1089.9h-2.00V1090.6h-2.00V1095.3h-2.00V1089.0h-2.00V1088.3h-2.00V1085.1h-2.00V1090.6h-2.00V1080.9h-2.00V1085.1h-2.00V1074.1h-2.00V1086.6h-2.00V1086.0h-2.00V1092.1h-2.00V1096.4h-2.00V1096.7h-2.00V1098.7h-2.00V1107.9h-2.00V1091.7h-2.00V1098.2h-2.00V1090.6h-2.00V1092.5h-2.00V1088.0h-2.00V1098.8h-2.00V1089.7h-2.00V1094.0h-2.00V1087.4h-2.00V1093.3h-2.00V1087.9h-2.00V1089.3h-2.00V1091.7h-2.00V1089.7h-2.00V1092.4h-2.00V1091.2h-2.00V1093.2h-2.00V1086.8h-2.00V1102.5h-2.00V1101.2h-2.00V1099.3h-2.00V1092.2h-2.00V1089.9h-2.00V1094.6h-2.00V1088.8h-2.00V1086.3h-2.00V1086.8h-2.00V1091.2h-2.00V1089.2h-2.00V1094.3h-2.00V1088.3h-2.00V1088.4h-2.00V1088.2h-2.00V1089.0h-2.00V1089.9h-2.00V1090.8h-2.00V1092.2h-2.00V1091.1h-2.00V1097.4h-2.00V1091.5h-2.00V1117.4h-2.00V1091.7h-2.00V1090.4h-2.00V1093.4h-2.00V1091.9h-2.00V1092.0h-2.00V1088.7h-2.00V1096.4h-2.00V1087.2h-2.00V1089.3h-2.00V1088.2h-2.00V1094.2h-2.00V1090.5h-2.00V1089.2h-2.00V1094.3h-2.00V1089.0h-2.00V1092.9h-2.00V1092.0h-2.00V1094.5h-2.00V1096.0h-2.00V1096.3h-2.00V1093.4h-2.00V1096.2h-2.00V1089.8h-2.00V1100.4h-2.00V1090.8h-2.00V1091.8h-2.00V1092.1h-2.00V1093.8h-2.00V1097.3h-2.00V1087.6h-2.00V1089.2h-2.00V1089.9h-2.00V1097.2h-2.00V1089.6h-2.00V1095.5h-2.00V1100.6h-2.00V1093.2h-2.00V1093.1h-2.00V1093.6h-2.00V1093.9h-2.00V1097.1h-2.00V1085.7h-2.00V1081.7h-2.00V1083.3h-2.00V1082.6h-2.00V1076.5h-2.00V1075.6h-2.00V1075.3h-2.00V1081.2h-2.00V1089.7h-2.00V1097.5h-2.00V1096.5h-2.00V1093.1h-2.00V1098.8h-2.00V1089.6h-2.00V1094.9h-2.00V1093.5h-2.00V1094.4h-2.00V1092.2h-2.00V1100.3h-2.00V1094.7h-2.00V1095.5h-2.00V1093.1h-2.00V1094.1h-2.00V1093.1h-2.00V1090.0h-2.00V1095.8h-2.00V1091.2h-2.00V1091.8h-2.00V1086.5h-2.00V1095.5h-2.00V1087.5h-2.00V1093.3h-2.00V1093.6h-2.00V1094.6h-2.00V1093.9h-2.00V1091.0h-2.00V1092.1h-2.00V1094.0h-2.00V1106.8h-2.00V1098.7h-2.00V1098.8h-2.00V1111.9h-2.00V1092.3h-2.00V1089.0h-2.00V1086.3h-2.00V1088.5h-2.00V1085.8h-2.00V1088.7h-2.00V1093.4h-2.00V1088.2h-2.00V1090.4h-2.00V1092.9h-2.00V1088.4h-2.00V1090.7h-2.00V1098.8h-2.00V1105.0h-2.00V1093.6h-2.00V1100.7h-2.00V1098.2h-2.00V1092.1h-2.00V1096.3h-2.00V1096.4h-2.00V1090.9h-2.00V1103.4h-2.00V1095.8h-2.00V1091.9h-2.00V1090.7h-2.00V1092.9h-2.00V1092.3h-2.00V1089.8h-2.00V1089.9h-2.00V1092.0h-2.00V1093.4h-2.00V1095.3h-2.00V1097.2h-2.00V1095.3h-2.00V1098.3h-2.00V1093.9h-2.00V1096.8h-2.00V1096.0h-2.00V1098.0h-2.00V1097.8h-2.00V1094.2h-2.00V1090.2h-2.00V1093.0h-2.00V1090.8h-2.00V1091.4h-2.00V1090.3h-2.00V1078.3h-2.00V1078.3h-2.00V1076.5h-2.00V1086.6h-2.00V1091.4h-2.00V1096.7h-2.00V1097.4h-2.00V1097.1h-2.00V1098.3h-2.00V1108.1h-2.00V1096.4h-2.00V1097.3h-2.00V1101.6h-2.00V1097.1h-2.00V1097.0h-2.00V1095.7h-2.00V1091.8h-2.00V1095.7h-2.00V1097.3h-2.00V1089.3h-2.00V1090.3h-2.00V1089.4h-2.00V1092.2h-2.00V1096.2h-2.00V1099.5h-2.00V1092.7h-2.00V1094.2h-2.00V1093.7h-2.00V1093.7h-2.00V1093.9h-2.00V1092.5h-2.00V1095.2h-2.00V1097.2h-2.00V1091.7h-2.00V1095.2h-2.00V1093.5h-2.00V1092.4h-2.00V1095.6h-2.00V1091.1h-2.00V1093.3h-2.00V1090.5h-2.00V1089.8h-2.00V1088.4h-2.00V1086.5h-2.00V1090.9h-2.00V1092.5h-2.00V1098.4h-2.00V1089.0h-2.00V1094.9h-2.00V1089.9h-2.00V1096.7h-2.00V1086.9h-2.00V1080.5h-2.00V1082.0h-2.00V1079.4h-2.00V1082.5h-2.00V1090.2h-2.00V1093.3h-2.00V1092.5h-2.00V1092.4h-2.00V1097.0h-2.00V1090.6h-2.00V1093.5h-2.00V1098.6h-2.00V1094.8h-2.00V1093.7h-2.00V1093.5h-2.00V1095.6h-2.00V1102.7h-2.00V1100.8h-2.00V1103.7h-2.00V1096.8h-2.00V1095.1h-2.00V1093.6h-2.00V1094.8h-2.00V1092.2h-2.00V1098.5h-2.00V1108.6h-2.00V1093.3h-2.00V1092.3h-2.00V1096.6h-2.00V1093.7h-2.00V1093.0h-2.00V1100.4h-2.00V1094.1h-2.00V1098.9h-2.00V1097.3h-2.00V1096.3h-2.00V1095.7h-2.00V1098.6h-2.00V1092.1h-2.00V1109.1h-2.00V1098.3h-2.00V1097.3h-2.00V1101.4h-2.00V1094.3h-2.00V1093.7h-2.00V1096.6h-2.00V1093.6h-2.00V1092.5h-2.00V1095.4h-2.00V1077.2h-2.00V1076.5h-2.00V1077.8h-2.00V1093.0h-2.00V1092.9h-2.00V1094.8h-2.00V1104.5h-2.00V1096.0h-2.00V1093.0h-2.00V1093.3h-2.00V1096.8h-2.00V1092.0h-2.00V1093.3h-2.00V1097.0h-2.00V1089.2h-2.00V1085.9h-2.00V1093.4h-2.00V1084.5h-2.00V1075.9h-2.00V1077.4h-2.00V1094.1h-2.00V1087.9h-2.00V1090.8h-2.00V1086.6h-2.00V1080.3h-2.00V1083.2h-2.00V1081.1h-2.00V1084.6h-2.00V1095.3h-2.00V1093.0h-2.00V1096.9h-2.00V1095.1h-2.00V1102.5h-2.00V1095.2h-2.00V1091.8h-2.00V1095.9h-2.00V1093.1h-2.00V1096.2h-2.00V1096.6h-2.00V1093.5h-2.00V1105.1h-2.00V1093.8h-2.00V1097.9h-2.00V1098.2h-2.00V1094.4h-2.00V1091.7h-2.00V1092.1h-2.00V1100.0h-2.00V1097.0h-2.00V1106.7h-2.00V1094.9h-2.00V1093.3h-2.00V1093.5h-2.00V1096.5h-2.00V1099.5h-2.00V1096.4h-2.00V1093.7h-2.00V1092.2h-2.00V1092.7h-2.00V1093.4h-2.00V1089.3h-2.00V1093.9h-2.00V1097.0h-2.00V1094.6h-2.00V1099.0h-2.00V1095.7h-2.00V1093.4h-2.00V1093.6h-2.00V1101.8h-2.00V1102.3h-2.00V1102.6h-2.00V1102.6h-2.00V1106.2h-2.00V1096.1h-2.00V1100.7h-2.00V1097.8h-2.00V1095.9h-2.00V1096.0h-2.00V1093.2h-2.00V1082.4h-2.00V1079.0h-2.00V1092.3h-2.00V1091.3h-2.00V1107.2h-2.00V1098.7h-2.00V1098.6h-2.00V1101.5h-2.00V1097.6h-2.00V1095.0h-2.00V1095.1h-2.00V1102.3h-2.00V1098.6h-2.00V1096.6h-2.00V1101.4h-2.00V1097.1h-2.00V1096.5h-2.00V1110.5h-2.00V1097.8h-2.00V1097.2h-2.00V1093.1h-2.00V1092.0h-2.00V1120.8h-2.00V1095.7h-2.00V1094.2h-2.00V1092.7h-2.00V1092.5h-2.00V1092.8h-2.00V1100.4h-2.00V1097.5h-2.00V1091.4h-2.00V1080.0h-2.00V1081.8h-2.00V1093.9h-2.00V1094.2h-2.00V1099.7h-2.00V1095.3h-2.00V1097.4h-2.00V1093.5h-2.00V1093.4h-2.00V1090.9h-2.00V1093.5h-2.00V1093.0h-2.00V1093.3h-2.00V1103.6h-2.00V1101.5h-2.00V1091.8h-2.00V1092.6h-2.00V1089.8h-2.00V1091.4h-2.00V1093.1h-2.00V1112.0h-2.00V1097.4h-2.00V1106.8h-2.00V1098.3h-2.00V1097.6h-2.00V1097.2h-2.00V1089.5h-2.00V1091.8h-2.00V1086.7h-2.00V1086.5h-2.00V1091.2h-2.00V1090.9h-2.00V1103.0h-2.00V1086.6h-2.00V1095.5h-2.00V1093.0h-2.00V1096.6h-2.00V1098.4h-2.00V1112.1h-2.00V1104.0h-2.00V1094.7h-2.00V1098.8h-2.00V1096.0h-2.00V1094.5h-2.00V1095.1h-2.00V1084.1h-2.00V1087.9h-2.00V1093.9h-2.00V1095.0h-2.00V1096.6h-2.00V1101.4h-2.00V1099.3h-2.00V1109.9h-2.00V1095.4h-2.00V1097.4h-2.00V1096.8h-2.00V1095.5h-2.00V1096.0h-2.00V1095.0h-2.00V1097.2h-2.00V1103.5h-2.00V1097.9h-2.00V1102.4h-2.00V1099.3h-2.00V1097.7h-2.00V1098.1h-2.00V1097.2h-2.00V1105.3h-2.00V1100.1h-2.00V1094.9h-2.00V1090.9h-2.00V1087.3h-2.00V1088.9h-2.00V1088.1h-2.00V1088.7h-2.00V1086.3h-2.00V1087.1h-2.00V1088.1h-2.00V1087.4h-2.00V1091.4h-2.00V1094.7h-2.00V1090.9h-2.00V1090.8h-2.00V1094.0h-2.00V1095.7h-2.00V1102.8h-2.00V1089.1h-2.00V1091.2h-2.00V1082.5h-2.00V1080.6h-2.00V1080.4h-2.00V1085.3h-2.00V1089.3h-2.00V1080.5h-2.00V1081.4h-2.00V1080.7h-2.00V1082.6h-2.00V1078.9h-2.00V1087.9h-2.00V1094.3h-2.00V1090.9h-2.00V1087.3h-2.00V1088.0h-2.00V1079.9h-2.00V1087.1h-2.00V1081.3h-2.00V1091.0h-2.00V1085.1h-2.00V1089.4h-2.00V1081.2h-2.00V1087.0h-2.00V1089.9h-2.00V1089.5h-2.00V1103.3h-2.00V1106.0h-2.00V1090.5h-2.00V1093.4h-2.00V1091.4h-2.00V1078.1h-2.00V1080.3h-2.00V1080.8h-2.00V1089.7h-2.00V1093.9h-2.00V1086.8h-2.00V1085.9h-2.00V1091.9h-2.00V1082.6h-2.00V1084.9h-2.00V1086.4h-2.00V1084.0h-2.00V1088.3h-2.00V1085.9h-2.00V1081.4h-2.00V1083.9h-2.00V1083.9h-2.00V1092.6h-2.00V1094.8h-2.00V1100.4h-2.00V1099.0h-2.00V1099.2h-2.00V1098.7h-2.00V1101.9h-2.00V1112.1h-2.00V1100.2h-2.00V1103.1h-2.00V1096.8h-2.00V1097.8h-2.00V1087.7h-2.00V1091.3h-2.00V1086.3h-2.00V1098.6h-2.00V1104.5h-2.00V1105.6h-2.00V1102.0h-2.00V1102.2h-2.00V1101.1h-2.00V1103.5h-2.00V1100.7h-2.00V1105.2h-2.00V1119.9h-2.00V1111.2h-2.00V1100.2h-2.00V1102.3h-2.00V1105.3h-2.00V1110.5h-2.00V1102.6h-2.00V1103.7h-2.00V1107.5h-2.00V1117.2h-2.00V1106.3h-2.00V1106.0h-2.00V1104.1h-2.00V1108.2h-2.00V1103.7h-2.00V1098.8h-2.00V1104.1h-2.00V1104.2h-2.00V1105.5h-2.00V1109.4h-2.00V1105.4h-2.00V1105.9h-2.00V1103.6h-2.00V1106.4h-2.00V1104.8h-2.00V1104.2h-2.00V1110.3h-2.00V1109.7h-2.00V1109.9h-2.00V1109.7h-2.00V1100.0h-2.00V1089.9h-2.00V1091.4h-2.00V1086.3h-2.00V1101.5h-2.00V1103.1h-2.00V1108.0h-2.00V1100.6h-2.00V1097.0h-2.00V1102.0h-2.00V1114.4h-2.00V1105.8h-2.00V1108.5h-2.00V1114.0h-2.00V1107.1h-2.00V1105.9h-2.00V1108.4h-2.00V1112.8h-2.00V1107.2h-2.00V1113.7h-2.00V1110.4h-2.00V1112.9h-2.00V1104.8h-2.00V1092.5h-2.00V1109.9h-2.00V1103.0h-2.00V1110.3h-2.00V1107.1h-2.00V1114.2h-2.00V1106.6h-2.00V1110.5h-2.00V1107.8h-2.00V1117.5h-2.00V1108.7h-2.00V1101.2h-2.00V1117.1h-2.00V1113.0h-2.00V1117.5h-2.00V1116.1h-2.00V1108.5h-2.00V1112.7h-2.00V1112.5h-2.00V1114.6h-2.00V1112.2h-2.00V1114.7h-2.00V1114.6h-2.00V1109.3h-2.00V1116.1h-2.00V1108.7h-2.00V1113.0h-2.00V1112.6h-2.00V1117.3h-2.00V1110.7h-2.00V1110.8h-2.00V1111.3h-2.00V1117.9h-2.00V1116.7h-2.00V1117.4h-2.00V1119.6h-2.00V1116.4h-2.00V1111.7h-2.00V1112.7h-2.00V1112.9h-2.00V1118.6h-2.00V1114.9h-2.00V1112.0h-2.00V1112.9h-2.00V1108.8h-2.00V1112.9h-2.00V1112.9h-2.00V1112.2h-2.00V1109.8h-2.00V1127.3h-2.00V1119.3h-2.00V1118.7h-2.00V1117.9h-2.00V1117.7h-2.00V1128.3h-2.00V1115.0h-2.00V1117.7h-2.00V1112.1h-2.00V1113.2h-2.00V1113.1h-2.00V1108.5h-2.00V1108.5h-2.00V1109.4h-2.00V1112.0h-2.00V1094.5h-2.00V1092.1h-2.00V1098.4h-2.00V1110.4h-2.00V1107.2h-2.00V1108.5h-2.00V1109.8h-2.00V1112.0h-2.00V1113.5h-2.00V1122.3h-2.00V1116.9h-2.00V1124.0h-2.00V1109.4h-2.00V1111.8h-2.00V1110.9h-2.00V1105.4h-2.00V1113.4h-2.00V1120.5h-2.00V1115.2h-2.00V1111.4h-2.00V1128.9h-2.00V1111.2h-2.00V1111.0h-2.00V1109.9h-2.00V1115.8h-2.00V1115.1h-2.00V1113.4h-2.00V1116.1h-2.00V1113.7h-2.00V1117.9h-2.00V1113.0h-2.00V1116.2h-2.00V1115.9h-2.00V1117.0h-2.00V1115.4h-2.00V1110.6h-2.00V1113.1h-2.00V1116.3h-2.00V1108.5h-2.00V1099.0h-2.00V1099.6h-2.00V1113.3h-2.00V1118.0h-2.00V1114.8h-2.00V1109.8h-2.00V1110.4h-2.00V1115.7h-2.00V1125.6h-2.00V1114.0h-2.00V1114.0h-2.00V1115.8h-2.00V1118.5h-2.00V1120.7h-2.00V1116.1h-2.00V1115.4h-2.00V1117.0h-2.00V1120.2h-2.00V1117.1h-2.00V1125.8h-2.00V1114.5h-2.00V1120.4h-2.00V1111.1h-2.00V1119.2h-2.00V1112.0h-2.00V1120.0h-2.00V1114.4h-2.00V1117.1h-2.00V1116.8h-2.00V1114.9h-2.00V1129.7h-2.00V1124.7h-2.00V1117.1h-2.00V1123.5h-2.00V1120.9h-2.00V1120.4h-2.00V1114.4h-2.00V1116.5h-2.00Z" fill="#0000ff"/><g fill="none" stroke="#0000ff" stroke-width="2.2" stroke-linejoin="round"><polyline points="280.5,1103.1 281.0,1102.6 281.5,1101.7 282.0,1099.2 282.5,1093.4 283.0,1082.9 283.5,1070.1 284.0,1063.1 284.5,1066.2 285.0,1073.7 285.5,1082.1 286.0,1089.3 286.5,1094.5 287.0,1097.9 287.5,1099.8 288.0,1100.7 288.5,1101.2"/><polyline points="356.0,1100.9 356.5,1100.6 357.0,1099.8 357.5,1097.9 358.0,1092.4 358.5,1079.3 359.0,1055.8 359.5,1026.9 360.0,1011.2 360.5,1018.6 361.0,1035.8 361.5,1055.0 362.0,1071.5 362.5,1083.4 363.0,1090.9 363.5,1095.0 364.0,1097.0 364.5,1097.9 365.0,1098.5 365.5,1098.9"/><polyline points="464.0,1104.0 464.5,1103.9 465.0,1103.5 465.5,1102.1 466.0,1098.7 466.5,1092.6 467.0,1084.9 467.5,1080.6 468.0,1082.4 468.5,1086.8 469.0,1091.5 469.5,1095.5 470.0,1098.3 470.5,1099.9 471.0,1100.6 471.5,1100.7"/><polyline points="485.0,1097.9 485.5,1097.5 486.0,1096.8 486.5,1095.2 487.0,1091.4 487.5,1083.9 488.0,1073.2 488.5,1063.9 489.0,1063.9 489.5,1069.3 490.0,1076.6 490.5,1083.5 491.0,1088.9 491.5,1092.6 492.0,1094.9 492.5,1096.1 493.0,1097.0"/><polyline points="527.0,1093.1 527.5,1092.8 528.0,1092.3 528.5,1091.0 529.0,1087.3 529.5,1076.8 530.0,1051.8 530.5,1007.0 531.0,951.6 531.5,921.8 532.0,936.1 532.5,969.5 533.0,1006.6 533.5,1038.7 534.0,1061.9 534.5,1076.4 535.0,1084.5 535.5,1088.6 536.0,1090.7 536.5,1091.8 537.0,1092.6 537.5,1093.2"/><polyline points="611.0,1091.0 611.5,1090.3 612.0,1089.4 612.5,1088.2 613.0,1086.5 613.5,1084.1 614.0,1080.8 614.5,1076.5 615.0,1071.4 615.5,1065.5 616.0,1058.9 616.5,1052.2 617.0,1046.4 617.5,1042.2 618.0,1040.9 618.5,1041.9 619.0,1044.4 619.5,1047.9 620.0,1052.2 620.5,1056.9 621.0,1061.6 621.5,1066.3 622.0,1070.8 622.5,1074.9 623.0,1078.5 623.5,1081.6 624.0,1084.2 624.5,1086.4 625.0,1088.0 625.5,1089.2 626.0,1090.1 626.5,1090.7 627.0,1091.1 627.5,1091.3 628.0,1091.4"/><polyline points="641.0,1087.2 641.5,1086.5 642.0,1085.7 642.5,1084.9 643.0,1084.0 643.5,1083.0 644.0,1081.7 644.5,1080.3 645.0,1078.6 645.5,1076.5 646.0,1073.5 646.5,1069.1 647.0,1061.1 647.5,1040.5 648.0,982.9 648.5,845.8 649.0,600.6 649.5,298.8 650.0,136.4 650.5,215.1 651.0,397.7 651.5,601.4 652.0,776.9 652.5,904.2 653.0,984.1 653.5,1028.3 654.0,1050.8 654.5,1061.9 655.0,1067.6 655.5,1070.9 656.0,1073.0 656.5,1074.5 657.0,1075.5 657.5,1076.2 658.0,1076.6 658.5,1076.7 659.0,1076.8 659.5,1076.8 660.0,1076.6 660.5,1076.4 661.0,1076.3 661.5,1076.1 662.0,1075.9 662.5,1075.8 663.0,1075.7 663.5,1075.8 664.0,1075.9 664.5,1076.0 665.0,1076.3 665.5,1076.7 666.0,1077.0 666.5,1077.5 667.0,1077.8 667.5,1078.1 668.0,1078.5 668.5,1078.8 669.0,1079.0 669.5,1079.2 670.0,1079.4 670.5,1079.5 671.0,1079.5 671.5,1079.4 672.0,1079.2 672.5,1078.9 673.0,1078.3 673.5,1077.2 674.0,1074.0 674.5,1065.5 675.0,1046.2 675.5,1013.9 676.0,977.9 676.5,964.9 677.0,978.1 677.5,1001.8 678.0,1026.5 678.5,1046.9 679.0,1061.6 679.5,1070.6 680.0,1075.6 680.5,1078.3 681.0,1079.8 681.5,1080.8 682.0,1081.5 682.5,1082.0 683.0,1082.4 683.5,1082.8 684.0,1083.1"/><polyline points="690.5,1081.2 691.0,1080.9 691.5,1080.4 692.0,1079.9 692.5,1079.3 693.0,1078.8 693.5,1078.3 694.0,1077.6 694.5,1076.9 695.0,1076.3 695.5,1075.7 696.0,1075.0 696.5,1074.2 697.0,1073.5 697.5,1072.9 698.0,1072.3 698.5,1071.9 699.0,1071.5 699.5,1071.2 700.0,1071.2 700.5,1071.4 701.0,1071.5 701.5,1071.7 702.0,1071.9 702.5,1072.1 703.0,1072.2 703.5,1072.2 704.0,1072.2 704.5,1071.9 705.0,1070.8 705.5,1067.3 706.0,1056.7 706.5,1030.8 707.0,984.2 707.5,926.7 708.0,895.9 708.5,911.5 709.0,947.1 709.5,986.8 710.0,1021.0 710.5,1045.9 711.0,1061.7 711.5,1070.7 712.0,1075.4 712.5,1077.8 713.0,1079.2 713.5,1080.0 714.0,1080.6 714.5,1081.0 715.0,1081.0 715.5,1081.0 716.0,1080.9 716.5,1080.7 717.0,1080.2 717.5,1079.7 718.0,1079.1 718.5,1078.4 719.0,1077.7 719.5,1076.9 720.0,1076.0 720.5,1075.2 721.0,1074.4 721.5,1073.6 722.0,1072.9 722.5,1072.2 723.0,1071.7 723.5,1071.3 724.0,1071.0 724.5,1070.7 725.0,1070.8 725.5,1071.0 726.0,1071.2 726.5,1071.4 727.0,1071.8 727.5,1072.2 728.0,1072.6 728.5,1073.1 729.0,1073.5 729.5,1074.0 730.0,1074.4 730.5,1074.8 731.0,1074.9 731.5,1075.0 732.0,1074.9 732.5,1074.5 733.0,1073.4 733.5,1070.4 734.0,1060.2 734.5,1030.1 735.0,965.5 735.5,875.5 736.0,823.1 736.5,849.2 737.0,906.8 737.5,966.9 738.0,1014.7 738.5,1045.9 739.0,1063.4 739.5,1072.1 740.0,1076.3 740.5,1078.5 741.0,1080.1 741.5,1081.3 742.0,1082.3 742.5,1083.2 743.0,1084.0 743.5,1084.7 744.0,1085.3 744.5,1085.9 745.0,1086.2"/><polyline points="749.5,1086.2 750.0,1085.8 750.5,1085.4 751.0,1084.9 751.5,1084.4 752.0,1083.8 752.5,1083.3 753.0,1082.8 753.5,1082.3 754.0,1081.8 754.5,1081.3 755.0,1081.0 755.5,1080.7 756.0,1080.3 756.5,1080.0 757.0,1079.9 757.5,1079.8 758.0,1079.7 758.5,1079.6 759.0,1079.7 759.5,1079.7 760.0,1079.8 760.5,1079.9 761.0,1080.0 761.5,1080.1 762.0,1080.1 762.5,1080.3 763.0,1080.2 763.5,1080.2 764.0,1080.2 764.5,1080.2 765.0,1080.1 765.5,1080.1 766.0,1080.0 766.5,1080.0 767.0,1080.0 767.5,1080.0 768.0,1080.0 768.5,1080.0 769.0,1080.1 769.5,1080.3 770.0,1080.5 770.5,1080.7 771.0,1081.1 771.5,1081.5 772.0,1081.9 772.5,1082.3"/><polyline points="818.5,1085.6 819.0,1085.6 819.5,1085.4 820.0,1084.6 820.5,1082.1 821.0,1074.5 821.5,1056.8 822.0,1027.1 822.5,993.8 823.0,981.9 823.5,994.2 824.0,1016.3 824.5,1039.4 825.0,1058.3 825.5,1071.6 826.0,1079.8 826.5,1084.2 827.0,1086.2 827.5,1087.1 828.0,1087.5 828.5,1087.7"/><polyline points="851.0,1082.7 851.5,1082.7 852.0,1082.5 852.5,1081.7 853.0,1079.0 853.5,1071.5 854.0,1054.9 854.5,1028.9 855.0,1003.0 855.5,998.4 856.0,1010.8 856.5,1029.6 857.0,1048.0 857.5,1062.7 858.0,1072.7 858.5,1078.7 859.0,1081.8 859.5,1083.3 860.0,1084.0 860.5,1084.4"/><polyline points="908.5,1086.1 909.0,1085.7 909.5,1084.9 910.0,1083.3 910.5,1079.9 911.0,1073.6 911.5,1063.8 912.0,1051.8 912.5,1041.8 913.0,1040.3 913.5,1044.8 914.0,1052.3 914.5,1060.6 915.0,1068.3 915.5,1074.6 916.0,1079.3 916.5,1082.5 917.0,1084.4 917.5,1085.5 918.0,1086.1 918.5,1086.5"/><polyline points="971.0,1083.9 971.5,1083.5 972.0,1082.5 972.5,1079.8 973.0,1073.4 973.5,1061.1 974.0,1044.6 974.5,1032.9 975.0,1035.7 975.5,1045.4 976.0,1057.0 976.5,1067.5 977.0,1075.5 977.5,1080.8 978.0,1083.9 978.5,1085.7 979.0,1086.7 979.5,1087.3"/><polyline points="1077.5,1083.8 1078.0,1082.8 1078.5,1081.5 1079.0,1079.9 1079.5,1077.7 1080.0,1074.8 1080.5,1071.3 1081.0,1067.4 1081.5,1062.9 1082.0,1058.3 1082.5,1053.8 1083.0,1050.4 1083.5,1048.5 1084.0,1048.6 1084.5,1049.6 1085.0,1051.6 1085.5,1054.1 1086.0,1057.1 1086.5,1060.1 1087.0,1063.2 1087.5,1066.1 1088.0,1068.9 1088.5,1071.4 1089.0,1073.5 1089.5,1075.3 1090.0,1076.8 1090.5,1078.0 1091.0,1078.9 1091.5,1079.5 1092.0,1079.9 1092.5,1080.0"/><polyline points="1093.5,1079.8 1094.0,1079.4 1094.5,1078.6 1095.0,1077.6 1095.5,1076.1 1096.0,1074.0 1096.5,1071.3 1097.0,1068.1 1097.5,1064.4 1098.0,1060.5 1098.5,1056.5 1099.0,1053.2 1099.5,1051.1 1100.0,1050.9 1100.5,1051.9 1101.0,1053.8 1101.5,1056.3 1102.0,1059.3 1102.5,1062.5 1103.0,1065.6 1103.5,1068.7 1104.0,1071.7 1104.5,1074.4 1105.0,1076.7 1105.5,1078.7 1106.0,1080.4 1106.5,1081.9 1107.0,1082.9 1107.5,1083.7 1108.0,1084.3 1108.5,1084.8"/><polyline points="1127.0,1081.8 1127.5,1081.2 1128.0,1080.5 1128.5,1079.6 1129.0,1078.5 1129.5,1075.9 1130.0,1068.6 1130.5,1049.1 1131.0,1007.2 1131.5,941.6 1132.0,876.6 1132.5,864.9 1133.0,895.7 1133.5,942.6 1134.0,988.8 1134.5,1025.8 1135.0,1051.1 1135.5,1066.2 1136.0,1074.3 1136.5,1078.4 1137.0,1080.4 1137.5,1081.6 1138.0,1082.3 1138.5,1082.8 1139.0,1083.1"/><polyline points="1223.5,1081.6 1224.0,1081.4 1224.5,1081.0 1225.0,1080.2 1225.5,1079.0 1226.0,1077.2 1226.5,1074.8 1227.0,1071.6 1227.5,1067.8 1228.0,1063.6 1228.5,1059.3 1229.0,1055.3 1229.5,1052.4 1230.0,1051.3 1230.5,1051.9 1231.0,1053.1 1231.5,1055.1 1232.0,1057.6 1232.5,1060.4 1233.0,1063.2 1233.5,1065.9 1234.0,1068.6 1234.5,1071.0 1235.0,1073.2 1235.5,1075.1 1236.0,1076.7 1236.5,1078.0 1237.0,1079.2 1237.5,1080.2 1238.0,1080.9 1238.5,1081.5"/><polyline points="1329.0,1082.4 1329.5,1082.0 1330.0,1081.3 1330.5,1080.1 1331.0,1077.9 1331.5,1072.9 1332.0,1063.6 1332.5,1049.1 1333.0,1031.4 1333.5,1016.7 1334.0,1014.5 1334.5,1021.1 1335.0,1032.2 1335.5,1044.5 1336.0,1055.8 1336.5,1065.2 1337.0,1072.2 1337.5,1076.9 1338.0,1079.9 1338.5,1081.7 1339.0,1082.7 1339.5,1083.2 1340.0,1083.5"/><polyline points="1496.0,1080.6 1496.5,1079.9 1497.0,1079.0 1497.5,1077.7 1498.0,1075.8 1498.5,1073.3 1499.0,1069.8 1499.5,1065.2 1500.0,1059.2 1500.5,1051.7 1501.0,1043.0 1501.5,1033.1 1502.0,1022.5 1502.5,1012.1 1503.0,1003.0 1503.5,996.7 1504.0,994.6 1504.5,996.0 1505.0,999.5 1505.5,1004.8 1506.0,1011.2 1506.5,1018.4 1507.0,1025.8 1507.5,1033.3 1508.0,1040.6 1508.5,1047.4 1509.0,1053.6 1509.5,1059.2 1510.0,1064.0 1510.5,1068.3 1511.0,1071.7 1511.5,1074.5 1512.0,1076.7 1512.5,1078.5 1513.0,1079.9 1513.5,1080.9 1514.0,1081.6 1514.5,1082.2 1515.0,1082.6 1515.5,1083.0"/><polyline points="1688.5,1080.4 1689.0,1079.8 1689.5,1078.9 1690.0,1077.7 1690.5,1076.2 1691.0,1074.3 1691.5,1072.2 1692.0,1069.8 1692.5,1067.4 1693.0,1065.2 1693.5,1063.6 1694.0,1063.0 1694.5,1063.3 1695.0,1064.0 1695.5,1065.1 1696.0,1066.5 1696.5,1068.0 1697.0,1069.5 1697.5,1070.9 1698.0,1072.3 1698.5,1073.5 1699.0,1074.6 1699.5,1075.5 1700.0,1076.2 1700.5,1076.8 1701.0,1077.4 1701.5,1077.8"/><polyline points="1766.5,1078.0 1767.0,1077.4 1767.5,1076.5 1768.0,1075.3 1768.5,1073.7 1769.0,1071.7 1769.5,1069.5 1770.0,1067.0 1770.5,1064.5 1771.0,1062.1 1771.5,1060.4 1772.0,1059.8 1772.5,1060.0 1773.0,1060.7 1773.5,1061.7 1774.0,1063.0 1774.5,1064.5 1775.0,1065.9 1775.5,1067.3 1776.0,1068.7 1776.5,1069.9 1777.0,1070.9 1777.5,1071.7 1778.0,1072.4 1778.5,1072.9 1779.0,1073.4 1779.5,1073.8"/></g>
<path d="M209.5,962.6h2.00V964.3h2.00V951.3h2.00V963.5h2.00V965.2h2.00V962.6h2.00V963.7h2.00V963.9h2.00V959.0h2.00V964.5h2.00V965.3h2.00V966.5h2.00V960.9h2.00V952.5h2.00V961.9h2.00V965.0h2.00V969.0h2.00V969.1h2.00V965.5h2.00V970.7h2.00V959.6h2.00V962.4h2.00V961.3h2.00V946.4h2.00V965.3h2.00V966.0h2.00V957.4h2.00V959.5h2.00V952.4h2.00V966.8h2.00V962.7h2.00V956.2h2.00V963.3h2.00V971.4h2.00V969.9h2.00V964.4h2.00V969.4h2.00V960.4h2.00V966.5h2.00V965.0h2.00V964.0h2.00V962.4h2.00V966.4h2.00V967.2h2.00V958.1h2.00V961.9h2.00V950.6h2.00V960.7h2.00V960.4h2.00V959.6h2.00V953.2h2.00V957.1h2.00V955.7h2.00V965.0h2.00V958.4h2.00V959.1h2.00V965.5h2.00V959.4h2.00V962.3h2.00V957.1h2.00V963.6h2.00V956.2h2.00V957.0h2.00V959.7h2.00V940.6h2.00V959.1h2.00V955.8h2.00V947.8h2.00V957.5h2.00V959.0h2.00V960.6h2.00V957.3h2.00V955.2h2.00V956.2h2.00V952.0h2.00V953.8h2.00V955.6h2.00V960.0h2.00V952.6h2.00V959.5h2.00V956.7h2.00V964.2h2.00V965.8h2.00V962.6h2.00V954.1h2.00V950.4h2.00V953.0h2.00V957.0h2.00V958.5h2.00V960.4h2.00V961.5h2.00V957.0h2.00V961.6h2.00V965.0h2.00V964.6h2.00V963.8h2.00V965.5h2.00V965.5h2.00V967.8h2.00V964.6h2.00V962.6h2.00V962.5h2.00V962.9h2.00V954.7h2.00V959.4h2.00V956.9h2.00V958.2h2.00V963.0h2.00V957.6h2.00V960.0h2.00V948.2h2.00V956.9h2.00V958.2h2.00V952.2h2.00V961.1h2.00V967.4h2.00V956.0h2.00V965.8h2.00V960.5h2.00V962.0h2.00V963.0h2.00V960.3h2.00V957.7h2.00V951.1h2.00V952.0h2.00V959.9h2.00V955.1h2.00V953.7h2.00V956.1h2.00V957.4h2.00V954.1h2.00V953.8h2.00V952.5h2.00V954.8h2.00V946.0h2.00V955.8h2.00V958.6h2.00V954.7h2.00V959.9h2.00V961.5h2.00V956.0h2.00V959.0h2.00V959.9h2.00V953.9h2.00V950.7h2.00V942.3h2.00V953.6h2.00V950.3h2.00V956.1h2.00V953.7h2.00V945.4h2.00V951.8h2.00V950.8h2.00V949.2h2.00V957.4h2.00V962.0h2.00V963.1h2.00V958.2h2.00V958.7h2.00V954.2h2.00V946.8h2.00V934.4h2.00V948.1h2.00V954.5h2.00V958.5h2.00V956.2h2.00V942.9h2.00V952.7h2.00V955.0h2.00V951.5h2.00V953.5h2.00V945.5h2.00V939.2h2.00V945.5h2.00V946.7h2.00V953.5h2.00V960.8h2.00V962.0h2.00V963.3h2.00V955.9h2.00V962.4h2.00V954.7h2.00V955.9h2.00V958.7h2.00V956.7h2.00V954.6h2.00V956.7h2.00V957.2h2.00V941.4h2.00V940.2h2.00V949.6h2.00V947.7h2.00V945.3h2.00V949.9h2.00V946.5h2.00V953.1h2.00V945.8h2.00V943.5h2.00V945.6h2.00V945.5h2.00V950.9h2.00V952.0h2.00V944.1h2.00V952.9h2.00V941.7h2.00V941.1h2.00V942.3h2.00V939.2h2.00V942.9h2.00V941.6h2.00V938.9h2.00V943.5h2.00V938.4h2.00V934.0h2.00V938.7h2.00V938.7h2.00V947.6h2.00V946.4h2.00V934.0h2.00V940.1h2.00V935.5h2.00V937.7h2.00V940.7h2.00V935.5h2.00V948.6h2.00V945.8h2.00V948.0h2.00V952.5h2.00V948.7h2.00V948.1h2.00V938.5h2.00V935.2h2.00V929.8h2.00V937.5h2.00V939.5h2.00V943.4h2.00V943.1h2.00V939.2h2.00V938.2h2.00V936.8h2.00V937.1h2.00V933.5h2.00V941.2h2.00V944.7h2.00V942.0h2.00V938.1h2.00V934.8h2.00V943.1h2.00V943.9h2.00V936.5h2.00V944.8h2.00V949.3h2.00V938.0h2.00V941.6h2.00V946.2h2.00V942.3h2.00V942.3h2.00V946.2h2.00V939.9h2.00V940.8h2.00V937.3h2.00V941.0h2.00V933.5h2.00V935.4h2.00V940.6h2.00V938.4h2.00V938.9h2.00V936.8h2.00V935.0h2.00V937.1h2.00V937.0h2.00V934.1h2.00V932.6h2.00V942.6h2.00V937.1h2.00V945.7h2.00V944.9h2.00V945.4h2.00V944.2h2.00V941.1h2.00V948.0h2.00V945.6h2.00V945.6h2.00V947.1h2.00V942.6h2.00V936.3h2.00V947.8h2.00V936.3h2.00V946.5h2.00V939.7h2.00V936.8h2.00V946.1h2.00V945.3h2.00V941.3h2.00V942.6h2.00V939.6h2.00V939.2h2.00V942.9h2.00V941.8h2.00V946.4h2.00V935.4h2.00V946.5h2.00V948.9h2.00V938.6h2.00V934.0h2.00V933.7h2.00V924.5h2.00V924.1h2.00V933.0h2.00V920.6h2.00V928.5h2.00V936.3h2.00V936.6h2.00V937.2h2.00V938.5h2.00V940.2h2.00V944.6h2.00V947.0h2.00V944.2h2.00V945.1h2.00V937.0h2.00V929.2h2.00V934.7h2.00V937.2h2.00V938.9h2.00V943.4h2.00V945.4h2.00V944.2h2.00V943.9h2.00V945.1h2.00V942.7h2.00V946.6h2.00V935.9h2.00V940.8h2.00V933.9h2.00V943.5h2.00V942.7h2.00V942.4h2.00V940.9h2.00V948.6h2.00V950.3h2.00V946.8h2.00V941.3h2.00V924.5h2.00V946.2h2.00V944.7h2.00V947.5h2.00V945.6h2.00V945.8h2.00V939.0h2.00V938.3h2.00V924.3h2.00V928.8h2.00V920.7h2.00V936.8h2.00V935.1h2.00V930.0h2.00V937.9h2.00V939.8h2.00V941.6h2.00V941.5h2.00V945.5h2.00V944.9h2.00V938.5h2.00V928.1h2.00V934.2h2.00V929.5h2.00V940.5h2.00V939.1h2.00V934.9h2.00V935.0h2.00V933.1h2.00V940.8h2.00V938.9h2.00V938.2h2.00V931.9h2.00V939.6h2.00V941.8h2.00V940.9h2.00V942.6h2.00V945.7h2.00V947.1h2.00V934.7h2.00V940.0h2.00V943.8h2.00V942.1h2.00V940.7h2.00V941.9h2.00V940.4h2.00V936.9h2.00V934.0h2.00V921.2h2.00V928.8h2.00V924.8h2.00V915.1h2.00V930.2h2.00V926.1h2.00V931.0h2.00V930.8h2.00V927.2h2.00V931.4h2.00V936.2h2.00V937.6h2.00V942.1h2.00V942.7h2.00V942.2h2.00V936.9h2.00V941.2h2.00V938.7h2.00V928.4h2.00V943.1h2.00V944.0h2.00V943.2h2.00V938.6h2.00V938.9h2.00V935.1h2.00V936.2h2.00V933.7h2.00V944.2h2.00V938.0h2.00V932.8h2.00V937.6h2.00V939.4h2.00V940.6h2.00V928.7h2.00V943.8h2.00V948.1h2.00V940.8h2.00V942.9h2.00V941.7h2.00V943.2h2.00V935.6h2.00V937.4h2.00V934.5h2.00V940.3h2.00V937.7h2.00V939.1h2.00V938.5h2.00V936.0h2.00V931.7h2.00V934.6h2.00V937.4h2.00V940.1h2.00V939.7h2.00V943.2h2.00V935.1h2.00V939.3h2.00V935.2h2.00V937.5h2.00V936.3h2.00V943.3h2.00V934.8h2.00V935.1h2.00V938.7h2.00V929.9h2.00V936.3h2.00V935.2h2.00V922.5h2.00V937.4h2.00V938.9h2.00V926.1h2.00V924.0h2.00V925.9h2.00V936.0h2.00V937.1h2.00V940.6h2.00V939.6h2.00V937.5h2.00V945.7h2.00V939.0h2.00V934.8h2.00V943.0h2.00V940.8h2.00V934.9h2.00V936.1h2.00V940.2h2.00V943.4h2.00V938.7h2.00V934.7h2.00V936.6h2.00V933.8h2.00V934.5h2.00V936.9h2.00V943.0h2.00V943.9h2.00V941.7h2.00V944.1h2.00V936.7h2.00V939.7h2.00V944.0h2.00V937.1h2.00V940.1h2.00V943.6h2.00V939.4h2.00V938.8h2.00V934.8h2.00V932.1h2.00V939.9h2.00V938.2h2.00V936.0h2.00V933.2h2.00V942.2h2.00V930.0h2.00V937.9h2.00V923.6h2.00V938.2h2.00V934.1h2.00V931.4h2.00V929.9h2.00V911.2h2.00V918.7h2.00V910.9h2.00V918.2h2.00V932.0h2.00V934.5h2.00V934.1h2.00V930.9h2.00V934.6h2.00V932.9h2.00V936.1h2.00V928.6h2.00V928.9h2.00V938.1h2.00V936.0h2.00V937.8h2.00V938.2h2.00V938.1h2.00V934.4h2.00V931.0h2.00V937.3h2.00V939.9h2.00V937.9h2.00V936.8h2.00V936.0h2.00V934.3h2.00V928.9h2.00V926.7h2.00V934.8h2.00V934.8h2.00V935.3h2.00V938.1h2.00V933.4h2.00V940.0h2.00V933.5h2.00V932.1h2.00V939.1h2.00V937.9h2.00V939.4h2.00V942.0h2.00V939.3h2.00V938.7h2.00V937.9h2.00V940.2h2.00V938.2h2.00V938.9h2.00V935.3h2.00V938.2h2.00V934.2h2.00V936.5h2.00V937.0h2.00V933.6h2.00V923.9h2.00V928.3h2.00V927.2h2.00V925.5h2.00V922.2h2.00V930.7h2.00V937.0h2.00V938.7h2.00V933.4h2.00V939.4h2.00V932.4h2.00V928.8h2.00V937.2h2.00V939.5h2.00V936.6h2.00V928.1h2.00V927.1h2.00V929.4h2.00V931.1h2.00V939.9h2.00V926.5h2.00V923.6h2.00V935.2h2.00V929.9h2.00V934.3h2.00V937.1h2.00V940.0h2.00V934.3h2.00V937.8h2.00V934.7h2.00V924.8h2.00V919.1h2.00V932.5h2.00V930.7h2.00V933.8h2.00V929.9h2.00V935.3h2.00V920.4h2.00V923.8h2.00V926.1h2.00V925.4h2.00V930.4h2.00V924.8h2.00V923.8h2.00V925.8h2.00V924.9h2.00V924.2h2.00V924.8h2.00V930.3h2.00V926.1h2.00V935.4h2.00V935.5h2.00V926.8h2.00V925.8h2.00V930.4h2.00V934.4h2.00V928.4h2.00V934.1h2.00V933.3h2.00V929.1h2.00V932.7h2.00V933.5h2.00V928.5h2.00V937.5h2.00V920.9h2.00V935.5h2.00V938.5h2.00V932.0h2.00V938.9h2.00V940.8h2.00V939.0h2.00V936.2h2.00V938.7h2.00V940.0h2.00V933.6h2.00V935.9h2.00V928.2h2.00V933.5h2.00V922.8h2.00V931.3h2.00V933.0h2.00V928.7h2.00V924.9h2.00V925.0h2.00V923.4h2.00V927.0h2.00V924.1h2.00V923.1h2.00V927.5h2.00V928.1h2.00V939.0h2.00V931.9h2.00V938.2h2.00V939.4h2.00V934.9h2.00V929.2h2.00V933.3h2.00V928.2h2.00V936.6h2.00V935.6h2.00V936.6h2.00V934.7h2.00V933.5h2.00V938.1h2.00V934.1h2.00V929.5h2.00V934.3h2.00V934.3h2.00V938.1h2.00V936.2h2.00V933.0h2.00V936.7h2.00V921.6h2.00V937.5h2.00V931.3h2.00V933.9h2.00V933.9h2.00V917.2h2.00V929.2h2.00V930.7h2.00V933.2h2.00V933.4h2.00V931.9h2.00V930.1h2.00V935.1h2.00V935.8h2.00V932.0h2.00V932.5h2.00V935.3h2.00V931.0h2.00V938.2h2.00V938.5h2.00V933.7h2.00V927.4h2.00V928.6h2.00V935.0h2.00V934.4h2.00V934.1h2.00V935.3h2.00V936.0h2.00V932.2h2.00V935.4h2.00V928.6h2.00V933.6h2.00V917.6h2.00V935.9h2.00V939.1h2.00V937.0h2.00V937.5h2.00V938.2h2.00V933.2h2.00V934.8h2.00V939.5h2.00V942.8h2.00V939.7h2.00V938.0h2.00V934.9h2.00V936.5h2.00V937.4h2.00V927.4h2.00V927.1h2.00V934.2h2.00V932.4h2.00V936.0h2.00V935.4h2.00V932.9h2.00V935.3h2.00V929.7h2.00V935.5h2.00V936.1h2.00V939.8h2.00V939.5h2.00V941.0h2.00V938.4h2.00V938.4h2.00V929.4h2.00V928.4h2.00V927.0h2.00V930.4h2.00V931.8h2.00V936.8h2.00V931.9h2.00V926.7h2.00V927.5h2.00V928.2h2.00V932.4h2.00V935.5h2.00V937.4h2.00V934.7h2.00V929.6h2.00V927.5h2.00V932.3h2.00V930.4h2.00V934.9h2.00V932.9h2.00V932.9h2.00V920.0h2.00V919.9h2.00V927.8h2.00V920.7h2.00V921.2h2.00V930.0h2.00V931.7h2.00V933.9h2.00V928.7h2.00V925.7h2.00V926.9h2.00V928.3h2.00V925.5h2.00V924.0h2.00V935.1h2.00V928.6h2.00V930.2h2.00V937.4h2.00V932.9h2.00V933.6h2.00V931.7h2.00V931.6h2.00V930.4h2.00V933.2h2.00V926.4h2.00V929.9h2.00V923.3h2.00V928.9h2.00V931.7h2.00V933.9h2.00V922.6h2.00V929.7h2.00V926.1h2.00V932.4h2.00V930.7h2.00V922.4h2.00V932.8h2.00V936.2h2.00V933.1h2.00V937.6h2.00V936.0h2.00V915.5h2.00V931.4h2.00V931.4h2.00V926.0h2.00V934.0h2.00V931.3h2.00V928.6h2.00V922.0h2.00V919.5h2.00V931.5h2.00V924.9h2.00V917.0h2.00V934.5h2.00V932.2h2.00V935.3h2.00V923.6h2.00V929.7h2.00V932.2h2.00V930.9h2.00V929.0h2.00V928.0h2.00V926.4h2.00V931.8h2.00V925.3h2.00V927.9h2.00V920.3h2.00V919.6h2.00V923.6h2.00V928.1h2.00V926.2h2.00V928.3h2.00V927.4h2.00V915.7h2.00V927.5h2.00V925.0h2.00V927.9h2.00V930.7h2.00V930.4h2.00V924.4h2.00V932.4h2.00V921.0h2.00V924.2h2.00V925.3h2.00V920.2h2.00V924.9h2.00V926.4h2.00V916.9h2.00V924.2h2.00V928.4h2.00V923.6h2.00V924.3h2.00V929.7h2.00V925.4h2.00V918.5h2.00V917.1h2.00V920.0h2.00V912.2h2.00V916.6h2.00V919.4h2.00V915.7h2.00V927.9h2.00V919.3h2.00V925.9h2.00V921.2h2.00V921.7h2.00V924.5h2.00V924.7h2.00V924.3h2.00V922.8h2.00V921.3h2.00V928.3h2.00V959.9h-2.00V944.2h-2.00V946.4h-2.00V940.7h-2.00V948.4h-2.00V946.1h-2.00V964.1h-2.00V947.7h-2.00V945.0h-2.00V945.8h-2.00V947.2h-2.00V942.3h-2.00V937.1h-2.00V938.2h-2.00V932.1h-2.00V940.4h-2.00V934.2h-2.00V957.0h-2.00V953.4h-2.00V952.0h-2.00V949.2h-2.00V943.6h-2.00V945.7h-2.00V944.8h-2.00V945.2h-2.00V946.7h-2.00V941.6h-2.00V940.5h-2.00V943.1h-2.00V960.0h-2.00V943.6h-2.00V954.2h-2.00V949.9h-2.00V950.9h-2.00V949.4h-2.00V949.7h-2.00V947.3h-2.00V955.0h-2.00V948.6h-2.00V953.1h-2.00V946.0h-2.00V946.0h-2.00V946.2h-2.00V943.5h-2.00V939.6h-2.00V942.8h-2.00V946.8h-2.00V951.1h-2.00V952.5h-2.00V953.7h-2.00V950.1h-2.00V947.6h-2.00V957.5h-2.00V948.0h-2.00V960.7h-2.00V954.2h-2.00V952.6h-2.00V955.8h-2.00V958.7h-2.00V951.8h-2.00V946.2h-2.00V947.4h-2.00V950.4h-2.00V952.5h-2.00V946.9h-2.00V947.9h-2.00V950.3h-2.00V948.1h-2.00V949.9h-2.00V949.3h-2.00V949.1h-2.00V953.4h-2.00V965.0h-2.00V950.4h-2.00V960.1h-2.00V958.3h-2.00V952.5h-2.00V953.4h-2.00V954.7h-2.00V960.4h-2.00V953.0h-2.00V959.7h-2.00V952.0h-2.00V949.6h-2.00V951.0h-2.00V946.5h-2.00V948.9h-2.00V949.3h-2.00V950.0h-2.00V953.4h-2.00V953.3h-2.00V951.4h-2.00V951.7h-2.00V956.2h-2.00V953.6h-2.00V954.2h-2.00V963.8h-2.00V955.2h-2.00V952.6h-2.00V951.3h-2.00V950.6h-2.00V957.3h-2.00V950.3h-2.00V949.3h-2.00V951.7h-2.00V951.0h-2.00V949.1h-2.00V946.6h-2.00V942.5h-2.00V950.7h-2.00V951.8h-2.00V950.3h-2.00V952.7h-2.00V954.3h-2.00V952.8h-2.00V951.4h-2.00V953.1h-2.00V952.6h-2.00V960.5h-2.00V959.4h-2.00V953.4h-2.00V953.5h-2.00V948.5h-2.00V950.4h-2.00V947.6h-2.00V948.8h-2.00V951.4h-2.00V966.3h-2.00V953.8h-2.00V949.6h-2.00V954.6h-2.00V951.8h-2.00V951.2h-2.00V957.2h-2.00V958.2h-2.00V959.7h-2.00V957.7h-2.00V960.4h-2.00V957.1h-2.00V954.0h-2.00V953.3h-2.00V951.6h-2.00V956.4h-2.00V953.2h-2.00V965.4h-2.00V954.8h-2.00V955.2h-2.00V950.5h-2.00V952.3h-2.00V956.0h-2.00V952.3h-2.00V956.5h-2.00V961.4h-2.00V959.4h-2.00V960.0h-2.00V960.5h-2.00V957.2h-2.00V956.4h-2.00V955.6h-2.00V956.3h-2.00V959.3h-2.00V959.3h-2.00V955.5h-2.00V951.7h-2.00V953.9h-2.00V953.1h-2.00V960.3h-2.00V952.5h-2.00V955.9h-2.00V952.6h-2.00V953.4h-2.00V952.6h-2.00V953.6h-2.00V958.9h-2.00V956.7h-2.00V959.8h-2.00V957.3h-2.00V958.8h-2.00V954.9h-2.00V964.0h-2.00V950.0h-2.00V957.2h-2.00V953.2h-2.00V954.8h-2.00V952.6h-2.00V952.0h-2.00V953.5h-2.00V954.2h-2.00V950.3h-2.00V949.2h-2.00V947.4h-2.00V952.9h-2.00V961.9h-2.00V953.5h-2.00V956.2h-2.00V959.6h-2.00V957.3h-2.00V951.8h-2.00V961.4h-2.00V956.7h-2.00V954.9h-2.00V961.9h-2.00V953.2h-2.00V955.6h-2.00V956.8h-2.00V956.8h-2.00V957.3h-2.00V953.3h-2.00V953.0h-2.00V967.7h-2.00V951.9h-2.00V951.0h-2.00V953.7h-2.00V950.6h-2.00V956.5h-2.00V955.4h-2.00V955.0h-2.00V955.9h-2.00V947.7h-2.00V945.2h-2.00V947.8h-2.00V943.0h-2.00V946.8h-2.00V939.0h-2.00V941.8h-2.00V942.0h-2.00V950.5h-2.00V958.5h-2.00V954.2h-2.00V951.0h-2.00V956.8h-2.00V954.2h-2.00V956.1h-2.00V971.7h-2.00V957.9h-2.00V956.8h-2.00V957.2h-2.00V962.2h-2.00V956.4h-2.00V961.2h-2.00V960.3h-2.00V957.6h-2.00V958.9h-2.00V957.1h-2.00V953.9h-2.00V950.3h-2.00V953.6h-2.00V949.4h-2.00V953.0h-2.00V952.8h-2.00V960.3h-2.00V948.5h-2.00V952.2h-2.00V951.1h-2.00V951.2h-2.00V961.4h-2.00V953.9h-2.00V952.7h-2.00V946.3h-2.00V947.5h-2.00V945.5h-2.00V941.1h-2.00V944.0h-2.00V942.6h-2.00V950.3h-2.00V947.0h-2.00V958.1h-2.00V944.7h-2.00V946.9h-2.00V949.8h-2.00V950.8h-2.00V952.8h-2.00V952.6h-2.00V956.7h-2.00V956.5h-2.00V952.9h-2.00V952.4h-2.00V966.5h-2.00V954.9h-2.00V959.1h-2.00V956.9h-2.00V957.3h-2.00V967.5h-2.00V956.6h-2.00V972.5h-2.00V967.6h-2.00V958.2h-2.00V954.9h-2.00V965.5h-2.00V954.5h-2.00V950.9h-2.00V950.7h-2.00V956.2h-2.00V951.9h-2.00V955.2h-2.00V956.3h-2.00V961.3h-2.00V965.0h-2.00V960.4h-2.00V957.5h-2.00V957.8h-2.00V954.2h-2.00V953.6h-2.00V942.8h-2.00V951.4h-2.00V945.2h-2.00V955.8h-2.00V942.3h-2.00V953.9h-2.00V960.4h-2.00V958.2h-2.00V957.7h-2.00V957.3h-2.00V964.8h-2.00V955.9h-2.00V960.8h-2.00V963.5h-2.00V956.9h-2.00V958.7h-2.00V959.8h-2.00V963.0h-2.00V968.1h-2.00V960.5h-2.00V957.0h-2.00V970.0h-2.00V950.7h-2.00V958.3h-2.00V953.6h-2.00V960.5h-2.00V964.7h-2.00V957.1h-2.00V956.2h-2.00V950.9h-2.00V951.7h-2.00V952.5h-2.00V952.7h-2.00V966.9h-2.00V963.5h-2.00V958.6h-2.00V956.6h-2.00V954.4h-2.00V954.1h-2.00V956.7h-2.00V960.0h-2.00V960.5h-2.00V964.8h-2.00V959.2h-2.00V950.6h-2.00V954.1h-2.00V958.4h-2.00V960.9h-2.00V955.2h-2.00V954.0h-2.00V955.4h-2.00V950.9h-2.00V948.9h-2.00V939.0h-2.00V942.4h-2.00V939.0h-2.00V941.8h-2.00V949.1h-2.00V954.8h-2.00V958.4h-2.00V961.2h-2.00V959.3h-2.00V957.5h-2.00V955.8h-2.00V957.6h-2.00V961.4h-2.00V955.2h-2.00V960.8h-2.00V958.0h-2.00V951.7h-2.00V955.2h-2.00V955.9h-2.00V958.2h-2.00V969.4h-2.00V961.5h-2.00V959.1h-2.00V969.9h-2.00V961.7h-2.00V962.3h-2.00V962.3h-2.00V963.9h-2.00V962.3h-2.00V966.4h-2.00V962.5h-2.00V961.4h-2.00V954.2h-2.00V958.6h-2.00V957.5h-2.00V955.8h-2.00V970.5h-2.00V974.1h-2.00V962.3h-2.00V956.5h-2.00V974.3h-2.00V959.8h-2.00V965.9h-2.00V965.8h-2.00V963.8h-2.00V965.6h-2.00V958.3h-2.00V962.0h-2.00V956.8h-2.00V955.5h-2.00V945.6h-2.00V956.3h-2.00V945.6h-2.00V957.4h-2.00V955.9h-2.00V953.7h-2.00V954.2h-2.00V957.8h-2.00V954.8h-2.00V963.2h-2.00V974.2h-2.00V959.2h-2.00V962.8h-2.00V955.4h-2.00V959.6h-2.00V963.5h-2.00V961.8h-2.00V962.1h-2.00V963.8h-2.00V958.9h-2.00V962.8h-2.00V957.4h-2.00V958.0h-2.00V956.5h-2.00V957.7h-2.00V958.6h-2.00V955.3h-2.00V956.4h-2.00V964.6h-2.00V954.6h-2.00V960.9h-2.00V956.8h-2.00V961.3h-2.00V963.5h-2.00V960.7h-2.00V964.5h-2.00V965.3h-2.00V969.9h-2.00V961.8h-2.00V961.7h-2.00V957.6h-2.00V957.9h-2.00V966.4h-2.00V968.3h-2.00V964.2h-2.00V962.9h-2.00V961.0h-2.00V954.9h-2.00V957.4h-2.00V959.2h-2.00V963.3h-2.00V964.6h-2.00V965.8h-2.00V966.1h-2.00V961.2h-2.00V962.9h-2.00V959.5h-2.00V960.4h-2.00V960.1h-2.00V960.8h-2.00V956.1h-2.00V956.2h-2.00V955.4h-2.00V950.2h-2.00V952.3h-2.00V949.5h-2.00V948.2h-2.00V946.3h-2.00V945.5h-2.00V943.9h-2.00V950.3h-2.00V940.9h-2.00V949.8h-2.00V956.6h-2.00V958.2h-2.00V962.5h-2.00V960.5h-2.00V969.9h-2.00V964.0h-2.00V960.0h-2.00V961.0h-2.00V963.0h-2.00V961.8h-2.00V960.8h-2.00V963.5h-2.00V958.9h-2.00V956.4h-2.00V962.4h-2.00V956.5h-2.00V963.9h-2.00V961.9h-2.00V961.7h-2.00V956.3h-2.00V957.8h-2.00V961.6h-2.00V963.4h-2.00V946.0h-2.00V950.7h-2.00V959.4h-2.00V962.6h-2.00V964.2h-2.00V963.4h-2.00V963.3h-2.00V967.8h-2.00V963.6h-2.00V960.3h-2.00V961.4h-2.00V958.3h-2.00V957.0h-2.00V944.6h-2.00V947.5h-2.00V945.9h-2.00V960.5h-2.00V964.3h-2.00V963.9h-2.00V964.6h-2.00V973.6h-2.00V968.7h-2.00V965.3h-2.00V970.4h-2.00V961.2h-2.00V967.6h-2.00V969.9h-2.00V974.0h-2.00V965.0h-2.00V962.4h-2.00V965.0h-2.00V964.5h-2.00V959.5h-2.00V960.2h-2.00V962.6h-2.00V962.4h-2.00V963.5h-2.00V966.3h-2.00V961.5h-2.00V965.2h-2.00V968.5h-2.00V966.0h-2.00V966.2h-2.00V960.0h-2.00V957.3h-2.00V954.8h-2.00V961.3h-2.00V965.2h-2.00V964.2h-2.00V967.8h-2.00V961.0h-2.00V964.9h-2.00V962.4h-2.00V958.9h-2.00V963.4h-2.00V954.4h-2.00V952.1h-2.00V954.1h-2.00V948.4h-2.00V951.0h-2.00V954.1h-2.00V951.2h-2.00V959.5h-2.00V965.7h-2.00V965.4h-2.00V963.2h-2.00V964.3h-2.00V963.3h-2.00V975.0h-2.00V965.1h-2.00V955.9h-2.00V957.9h-2.00V960.4h-2.00V960.1h-2.00V970.1h-2.00V964.3h-2.00V958.1h-2.00V965.6h-2.00V968.6h-2.00V959.3h-2.00V971.1h-2.00V968.4h-2.00V966.6h-2.00V966.8h-2.00V972.4h-2.00V965.3h-2.00V967.5h-2.00V965.7h-2.00V962.7h-2.00V960.7h-2.00V963.6h-2.00V966.2h-2.00V963.1h-2.00V960.5h-2.00V957.6h-2.00V952.9h-2.00V961.7h-2.00V958.2h-2.00V956.0h-2.00V961.9h-2.00V954.7h-2.00V960.5h-2.00V959.1h-2.00V957.9h-2.00V957.8h-2.00V960.8h-2.00V956.0h-2.00V956.4h-2.00V974.6h-2.00V970.4h-2.00V964.7h-2.00V966.5h-2.00V965.8h-2.00V965.4h-2.00V967.3h-2.00V967.3h-2.00V971.5h-2.00V967.2h-2.00V962.1h-2.00V960.4h-2.00V957.5h-2.00V963.9h-2.00V960.0h-2.00V966.5h-2.00V959.9h-2.00V971.4h-2.00V957.7h-2.00V959.4h-2.00V954.5h-2.00V960.8h-2.00V962.0h-2.00V959.1h-2.00V963.4h-2.00V955.7h-2.00V953.1h-2.00V952.6h-2.00V961.0h-2.00V967.4h-2.00V965.9h-2.00V971.4h-2.00V967.4h-2.00V969.1h-2.00V968.9h-2.00V958.7h-2.00V963.6h-2.00V961.3h-2.00V972.2h-2.00V962.9h-2.00V967.6h-2.00V968.2h-2.00V963.3h-2.00V962.6h-2.00V956.7h-2.00V964.4h-2.00V954.5h-2.00V962.1h-2.00V956.9h-2.00V968.6h-2.00V961.8h-2.00V964.2h-2.00V958.5h-2.00V959.4h-2.00V962.7h-2.00V970.3h-2.00V972.1h-2.00V971.6h-2.00V967.4h-2.00V966.8h-2.00V964.1h-2.00V965.1h-2.00V966.8h-2.00V971.6h-2.00V969.9h-2.00V967.0h-2.00V966.0h-2.00V967.3h-2.00V967.2h-2.00V978.7h-2.00V980.0h-2.00V974.8h-2.00V973.3h-2.00V976.0h-2.00V976.0h-2.00V979.9h-2.00V974.0h-2.00V981.2h-2.00V986.1h-2.00V984.3h-2.00V978.9h-2.00V980.1h-2.00V979.7h-2.00V981.2h-2.00V970.0h-2.00V963.5h-2.00V960.1h-2.00V962.5h-2.00V979.6h-2.00V971.5h-2.00V971.8h-2.00V969.1h-2.00V978.1h-2.00V976.3h-2.00V981.8h-2.00V976.6h-2.00V967.8h-2.00V964.6h-2.00V964.3h-2.00V975.9h-2.00V975.8h-2.00V977.6h-2.00V986.3h-2.00V978.4h-2.00V976.9h-2.00V975.4h-2.00V971.4h-2.00V976.4h-2.00V973.8h-2.00V983.9h-2.00V974.1h-2.00V973.7h-2.00V973.7h-2.00V977.8h-2.00V976.9h-2.00V974.4h-2.00V981.7h-2.00V977.3h-2.00V975.6h-2.00V983.3h-2.00V979.3h-2.00V980.1h-2.00V976.8h-2.00V976.3h-2.00V975.4h-2.00V989.5h-2.00V976.0h-2.00V978.1h-2.00V974.3h-2.00V984.3h-2.00V973.4h-2.00V970.6h-2.00V985.9h-2.00V983.6h-2.00V980.3h-2.00V977.9h-2.00V981.7h-2.00V981.5h-2.00V983.2h-2.00V982.4h-2.00V984.1h-2.00V982.7h-2.00V985.2h-2.00V985.8h-2.00V982.5h-2.00V981.2h-2.00V987.9h-2.00V977.2h-2.00V985.8h-2.00V984.7h-2.00V977.7h-2.00V987.5h-2.00V977.7h-2.00V977.5h-2.00V980.1h-2.00V979.6h-2.00V978.8h-2.00V981.8h-2.00V987.2h-2.00V984.0h-2.00V990.9h-2.00V983.3h-2.00V982.8h-2.00V984.7h-2.00V983.4h-2.00V986.9h-2.00V989.8h-2.00V982.5h-2.00V989.4h-2.00V984.1h-2.00V979.9h-2.00V975.5h-2.00V977.2h-2.00V974.7h-2.00V981.2h-2.00V983.8h-2.00V986.4h-2.00V980.1h-2.00V978.8h-2.00V977.2h-2.00V985.4h-2.00V983.9h-2.00V989.0h-2.00V970.0h-2.00V971.0h-2.00V973.5h-2.00V979.3h-2.00V980.2h-2.00V979.7h-2.00V976.1h-2.00V977.1h-2.00V983.3h-2.00V977.3h-2.00V975.7h-2.00V981.9h-2.00V976.6h-2.00V978.7h-2.00V979.9h-2.00V979.7h-2.00V982.8h-2.00V988.1h-2.00V982.8h-2.00V986.3h-2.00V983.5h-2.00V979.1h-2.00V1002.1h-2.00V982.4h-2.00V983.1h-2.00V981.6h-2.00V981.6h-2.00V979.3h-2.00V977.9h-2.00V979.3h-2.00V979.8h-2.00V978.3h-2.00V984.7h-2.00V982.9h-2.00V985.3h-2.00V987.5h-2.00V983.9h-2.00V983.9h-2.00V983.7h-2.00V987.1h-2.00V988.9h-2.00V985.7h-2.00V989.9h-2.00V986.3h-2.00V996.4h-2.00V985.2h-2.00V989.2h-2.00V980.2h-2.00V988.8h-2.00V981.0h-2.00V988.3h-2.00V985.2h-2.00V980.8h-2.00V982.0h-2.00V990.2h-2.00V987.1h-2.00V992.3h-2.00V987.4h-2.00V996.4h-2.00V985.1h-2.00V986.2h-2.00V987.3h-2.00V986.4h-2.00V982.9h-2.00V988.6h-2.00V986.6h-2.00V983.2h-2.00V981.1h-2.00V984.6h-2.00V981.8h-2.00V978.6h-2.00V986.6h-2.00V981.5h-2.00V991.5h-2.00V990.5h-2.00V992.3h-2.00Z" fill="#ff00ff"/><g fill="none" stroke="#ff00ff" stroke-width="2.2" stroke-linejoin="round"><polyline points="355.0,969.0 355.5,969.0 356.0,968.4 356.5,966.6 357.0,962.3 357.5,954.8 358.0,944.5 358.5,934.1 359.0,929.2 359.5,931.8 360.0,938.0 360.5,945.7 361.0,953.0 361.5,959.2 362.0,964.1 362.5,967.5 363.0,969.5 363.5,970.6 364.0,971.1 364.5,971.3"/><polyline points="527.0,966.4 527.5,965.9 528.0,965.1 528.5,963.7 529.0,960.1 529.5,949.7 530.0,925.0 530.5,880.7 531.0,826.1 531.5,796.9 532.0,811.3 532.5,844.6 533.0,881.7 533.5,913.6 534.0,936.8 534.5,951.4 535.0,959.4 535.5,963.4 536.0,965.4 536.5,966.4 537.0,966.7 537.5,966.9"/><polyline points="549.5,965.1 550.0,965.0 550.5,964.7 551.0,963.5 551.5,959.7 552.0,949.9 552.5,931.2 553.0,905.9 553.5,887.9 554.0,891.6 554.5,905.8 555.0,922.9 555.5,938.2 556.0,949.7 556.5,957.0 557.0,961.2 557.5,963.3 558.0,964.4 558.5,964.9 559.0,965.4"/><polyline points="587.0,961.8 587.5,961.2 588.0,960.5 588.5,959.9 589.0,959.4 589.5,958.8 590.0,958.3 590.5,957.7 591.0,957.4 591.5,957.1 592.0,956.8 592.5,956.5 593.0,956.4 593.5,956.4 594.0,956.4 594.5,956.3 595.0,956.5 595.5,956.7 596.0,956.8 596.5,957.0 597.0,957.3 597.5,957.5 598.0,957.8 598.5,958.0 599.0,958.2 599.5,958.4 600.0,958.6 600.5,958.8 601.0,958.8 601.5,958.8 602.0,958.8 602.5,958.8 603.0,958.7 603.5,958.6 604.0,958.5 604.5,958.4 605.0,958.3 605.5,958.2 606.0,958.1 606.5,958.1 607.0,958.1 607.5,958.2 608.0,958.3 608.5,958.3 609.0,958.6 609.5,958.8 610.0,959.1 610.5,959.3 611.0,959.6 611.5,959.9 612.0,960.2 612.5,960.5 613.0,960.7 613.5,960.9 614.0,961.1 614.5,961.3 615.0,961.2 615.5,961.1 616.0,960.9 616.5,960.7 617.0,960.1 617.5,959.1 618.0,957.2 618.5,953.1 619.0,944.9 619.5,931.5 620.0,913.3 620.5,895.0 621.0,886.2 621.5,889.8 622.0,899.3 622.5,911.3 623.0,923.3 623.5,933.5 624.0,941.3 624.5,946.8 625.0,950.4 625.5,952.5 626.0,953.5 626.5,953.9 627.0,954.0 627.5,953.7 628.0,952.9 628.5,951.4 629.0,949.3 629.5,946.5 630.0,942.9 630.5,938.6 631.0,933.7 631.5,928.7 632.0,924.3 632.5,921.0 633.0,919.8 633.5,920.3 634.0,921.8 634.5,924.1 635.0,927.0 635.5,930.1 636.0,933.4 636.5,936.6 637.0,939.7 637.5,942.5 638.0,945.1 638.5,947.3 639.0,949.3 639.5,951.0 640.0,952.4 640.5,953.5 641.0,954.5 641.5,955.3 642.0,956.0 642.5,956.4 643.0,956.8 643.5,957.1 644.0,957.2 644.5,957.2 645.0,956.9 645.5,956.4 646.0,955.5 646.5,954.1 647.0,951.5 647.5,946.3 648.0,932.8 648.5,894.8 649.0,803.7 649.5,640.9 650.0,440.5 650.5,332.6 651.0,384.4 651.5,505.1 652.0,639.9 652.5,755.9 653.0,840.1 653.5,892.8 654.0,921.9 654.5,936.6 655.0,943.9 655.5,947.7 656.0,949.9 656.5,951.4 657.0,952.7 657.5,953.7 658.0,954.5 658.5,955.2 659.0,955.8 659.5,956.4 660.0,956.9 660.5,957.3 661.0,957.6 661.5,957.9"/><polyline points="667.5,955.9 668.0,955.2 668.5,954.5 669.0,953.7 669.5,952.6 670.0,951.0 670.5,947.5 671.0,938.7 671.5,918.0 672.0,881.1 672.5,835.8 673.0,811.5 673.5,823.2 674.0,850.4 674.5,880.7 675.0,906.9 675.5,926.0 676.0,938.0 676.5,944.6 677.0,948.0 677.5,949.7 678.0,950.6 678.5,951.2 679.0,951.4 679.5,951.5 680.0,951.5 680.5,951.5 681.0,951.2 681.5,950.9 682.0,950.6 682.5,950.3 683.0,949.7 683.5,949.2 684.0,948.7 684.5,948.2 685.0,947.7 685.5,947.2 686.0,946.7 686.5,946.3 687.0,946.0 687.5,945.8 688.0,945.6 688.5,945.5 689.0,945.5 689.5,945.7 690.0,945.9 690.5,946.2 691.0,946.5 691.5,946.9 692.0,947.3 692.5,947.8 693.0,948.2 693.5,948.6 694.0,949.0 694.5,949.5 695.0,949.7 695.5,950.0 696.0,950.3 696.5,950.6 697.0,950.6 697.5,950.6 698.0,950.7 698.5,950.8 699.0,950.7 699.5,950.6 700.0,950.5 700.5,950.4 701.0,950.3 701.5,950.2 702.0,950.1 702.5,950.0 703.0,950.1 703.5,950.1 704.0,950.2 704.5,950.2 705.0,950.5 705.5,950.8 706.0,951.1 706.5,951.3 707.0,951.8 707.5,952.2 708.0,952.6 708.5,953.0 709.0,953.4 709.5,953.9 710.0,954.3 710.5,954.7 711.0,954.9 711.5,955.2 712.0,955.5 712.5,955.7 713.0,955.8 713.5,955.8"/><polyline points="722.5,956.6 723.0,956.8 723.5,956.9 724.0,956.6 724.5,956.1 725.0,955.0 725.5,953.3 726.0,950.7 726.5,947.3 727.0,942.7 727.5,937.3 728.0,931.4 728.5,925.3 729.0,919.6 729.5,915.4 730.0,913.7 730.5,914.2 731.0,915.7 731.5,918.2 732.0,921.3 732.5,924.8 733.0,928.4 733.5,931.8 734.0,935.1 734.5,938.1 735.0,940.8 735.5,943.0 736.0,944.8 736.5,946.2 737.0,947.3 737.5,948.1 738.0,948.6 738.5,948.9 739.0,949.0 739.5,949.0 740.0,948.9 740.5,948.7 741.0,948.4 741.5,948.1 742.0,947.7 742.5,947.5 743.0,947.0 743.5,946.7 744.0,946.3 744.5,946.1 745.0,945.8 745.5,945.5 746.0,945.2 746.5,945.0 747.0,944.7 747.5,944.4 748.0,944.2 748.5,944.0 749.0,943.8 749.5,943.7 750.0,943.6 750.5,943.5 751.0,943.7 751.5,943.8 752.0,944.0 752.5,944.1 753.0,944.6 753.5,945.0 754.0,945.5 754.5,945.9 755.0,946.6 755.5,947.2 756.0,947.8 756.5,948.5 757.0,949.1 757.5,949.8 758.0,950.4 758.5,951.1 759.0,951.6 759.5,952.0 760.0,952.5 760.5,953.0 761.0,953.2 761.5,953.5"/><polyline points="817.5,952.6 818.0,952.2 818.5,951.5 819.0,950.6 819.5,949.2 820.0,947.1 820.5,944.3 821.0,940.5 821.5,935.8 822.0,930.4 822.5,924.5 823.0,918.5 823.5,913.3 824.0,909.7 824.5,908.8 825.0,909.4 825.5,911.2 826.0,913.9 826.5,917.3 827.0,920.8 827.5,924.4 828.0,927.9 828.5,931.3 829.0,934.3 829.5,937.1 830.0,939.4 830.5,941.3 831.0,943.0 831.5,944.4 832.0,945.5 832.5,946.2 833.0,947.1 833.5,947.7 834.0,948.2"/><polyline points="849.5,953.4 850.0,953.4 850.5,953.2 851.0,952.5 851.5,949.8 852.0,941.9 852.5,924.5 853.0,897.0 853.5,869.7 854.0,865.0 854.5,878.4 855.0,898.2 855.5,917.8 856.0,933.6 856.5,944.4 857.0,950.6 857.5,953.8 858.0,955.4 858.5,956.1 859.0,956.3 859.5,956.3"/><polyline points="910.0,950.5 910.5,949.8 911.0,949.0 911.5,947.6 912.0,944.4 912.5,936.7 913.0,921.5 913.5,899.5 914.0,880.6 914.5,880.6 915.0,892.1 915.5,907.4 916.0,921.8 916.5,932.9 917.0,940.5 917.5,945.0 918.0,947.4 918.5,948.7 919.0,949.5 919.5,949.9"/><polyline points="936.0,953.3 936.5,953.0 937.0,952.1 937.5,950.1 938.0,943.9 938.5,927.1 939.0,893.9 939.5,852.4 940.0,836.2 940.5,851.8 941.0,878.6 941.5,904.8 942.0,924.6 942.5,936.9 943.0,943.4 943.5,946.4 944.0,947.6 944.5,948.1 945.0,948.4"/><polyline points="986.0,949.9 986.5,949.4 987.0,948.6 987.5,947.9 988.0,947.0 988.5,946.2 989.0,945.3 989.5,944.2 990.0,943.1 990.5,941.4 991.0,938.8 991.5,933.9 992.0,925.2 992.5,912.1 993.0,896.5 993.5,883.4 994.0,880.9 994.5,886.0 995.0,895.1 995.5,905.3 996.0,914.7 996.5,922.4 997.0,928.2 997.5,932.2 998.0,934.7 998.5,936.3 999.0,937.1 999.5,937.7 1000.0,938.2 1000.5,938.6 1001.0,938.7 1001.5,938.9 1002.0,939.1 1002.5,939.3 1003.0,939.3 1003.5,939.4 1004.0,939.5 1004.5,939.5 1005.0,939.6 1005.5,939.8 1006.0,939.9 1006.5,940.0 1007.0,940.3 1007.5,940.6 1008.0,940.9 1008.5,941.2 1009.0,941.8 1009.5,942.3 1010.0,942.9 1010.5,943.4 1011.0,944.1 1011.5,944.8 1012.0,945.5 1012.5,946.2 1013.0,946.9 1013.5,947.6 1014.0,948.3 1014.5,949.0 1015.0,949.5 1015.5,950.1 1016.0,950.6 1016.5,951.1 1017.0,951.3 1017.5,951.5 1018.0,951.7 1018.5,951.9 1019.0,951.9"/><polyline points="1128.0,947.0 1128.5,947.0 1129.0,946.7 1129.5,945.5 1130.0,942.0 1130.5,933.4 1131.0,917.9 1131.5,898.8 1132.0,888.5 1132.5,893.4 1133.0,904.9 1133.5,917.7 1134.0,928.7 1134.5,936.7 1135.0,941.8 1135.5,944.6 1136.0,946.1 1136.5,946.8 1137.0,947.4"/><polyline points="1223.5,949.6 1224.0,949.3 1224.5,948.6 1225.0,947.4 1225.5,945.6 1226.0,943.2 1226.5,940.2 1227.0,936.2 1227.5,931.5 1228.0,926.5 1228.5,921.4 1229.0,916.7 1229.5,913.1 1230.0,911.5 1230.5,911.6 1231.0,912.7 1231.5,914.5 1232.0,916.9 1232.5,919.6 1233.0,922.6 1233.5,925.6 1234.0,928.4 1234.5,931.1 1235.0,933.6 1235.5,935.8 1236.0,937.7 1236.5,939.3 1237.0,940.6 1237.5,941.8 1238.0,942.7 1238.5,943.4 1239.0,943.9"/><polyline points="1329.0,943.5 1329.5,943.1 1330.0,942.6 1330.5,941.7 1331.0,940.6 1331.5,938.9 1332.0,936.4 1332.5,933.1 1333.0,928.9 1333.5,924.0 1334.0,918.6 1334.5,913.1 1335.0,908.1 1335.5,904.6 1336.0,903.5 1336.5,904.6 1337.0,906.6 1337.5,909.6 1338.0,913.2 1338.5,917.2 1339.0,921.2 1339.5,925.1 1340.0,928.8 1340.5,932.2 1341.0,935.2 1341.5,937.8 1342.0,940.1 1342.5,941.9 1343.0,943.4 1343.5,944.6 1344.0,945.6 1344.5,946.3 1345.0,946.9 1345.5,947.4"/><polyline points="1411.5,939.4 1412.0,939.2 1412.5,938.9 1413.0,938.5 1413.5,938.0 1414.0,937.3 1414.5,936.4 1415.0,935.3 1415.5,934.0 1416.0,932.4 1416.5,930.7 1417.0,928.7 1417.5,926.6 1418.0,924.5 1418.5,922.4 1419.0,920.4 1419.5,918.6 1420.0,917.3 1420.5,916.5 1421.0,916.3 1421.5,916.5 1422.0,917.0 1422.5,917.7 1423.0,918.7 1423.5,919.8 1424.0,921.1 1424.5,922.5 1425.0,924.2 1425.5,925.8 1426.0,927.5 1426.5,929.1 1427.0,930.9 1427.5,932.6 1428.0,934.2 1428.5,935.7 1429.0,937.2 1429.5,938.7 1430.0,940.0 1430.5,941.2 1431.0,942.2 1431.5,943.1 1432.0,943.9 1432.5,944.7 1433.0,945.1 1433.5,945.5"/><polyline points="1492.5,942.2 1493.0,942.1 1493.5,941.7 1494.0,941.1 1494.5,940.2 1495.0,938.9 1495.5,937.1 1496.0,934.8 1496.5,931.8 1497.0,928.2 1497.5,923.8 1498.0,919.0 1498.5,913.7 1499.0,907.8 1499.5,902.0 1500.0,896.4 1500.5,891.4 1501.0,887.5 1501.5,885.2 1502.0,884.8 1502.5,885.5 1503.0,887.1 1503.5,889.4 1504.0,892.3 1504.5,895.6 1505.0,899.4 1505.5,903.4 1506.0,907.4 1506.5,911.4 1507.0,915.4 1507.5,919.3 1508.0,923.0 1508.5,926.4 1509.0,929.6 1509.5,932.6 1510.0,935.2 1510.5,937.6 1511.0,939.6 1511.5,941.4 1512.0,942.9 1512.5,944.2 1513.0,945.1 1513.5,945.8 1514.0,946.4 1514.5,946.8 1515.0,946.9"/><polyline points="1911.5,936.5 1912.0,936.3 1912.5,935.8 1913.0,934.7 1913.5,933.1 1914.0,930.8 1914.5,928.0 1915.0,924.4 1915.5,920.5 1916.0,916.5 1916.5,912.9 1917.0,910.1 1917.5,909.0 1918.0,909.3 1918.5,910.3 1919.0,912.0 1919.5,914.2 1920.0,916.5 1920.5,919.0 1921.0,921.6 1921.5,924.0 1922.0,926.3 1922.5,928.3 1923.0,930.2 1923.5,931.8 1924.0,933.2 1924.5,934.4 1925.0,935.4 1925.5,936.3 1926.0,937.0"/></g>
<path d="M209.5,807.0h2.00V818.2h2.00V813.4h2.00V819.0h2.00V818.4h2.00V822.0h2.00V818.7h2.00V818.2h2.00V814.1h2.00V800.1h2.00V804.7h2.00V819.8h2.00V820.2h2.00V818.2h2.00V818.9h2.00V815.7h2.00V813.2h2.00V813.3h2.00V809.2h2.00V816.7h2.00V818.8h2.00V815.1h2.00V815.7h2.00V814.1h2.00V800.9h2.00V810.0h2.00V813.6h2.00V815.1h2.00V814.0h2.00V817.7h2.00V820.5h2.00V818.8h2.00V820.6h2.00V819.7h2.00V804.7h2.00V802.9h2.00V806.8h2.00V815.1h2.00V818.0h2.00V818.2h2.00V815.1h2.00V820.6h2.00V814.0h2.00V816.9h2.00V812.2h2.00V808.2h2.00V812.7h2.00V819.1h2.00V817.4h2.00V818.6h2.00V822.9h2.00V820.1h2.00V820.3h2.00V818.4h2.00V817.7h2.00V819.9h2.00V821.1h2.00V821.9h2.00V814.0h2.00V819.5h2.00V816.8h2.00V818.9h2.00V817.6h2.00V810.9h2.00V811.1h2.00V817.1h2.00V814.6h2.00V816.1h2.00V818.7h2.00V803.8h2.00V811.5h2.00V813.3h2.00V810.3h2.00V793.4h2.00V805.8h2.00V799.1h2.00V812.9h2.00V807.5h2.00V813.2h2.00V811.6h2.00V816.8h2.00V818.0h2.00V812.4h2.00V814.0h2.00V812.9h2.00V797.4h2.00V811.7h2.00V811.2h2.00V810.0h2.00V813.4h2.00V807.4h2.00V812.9h2.00V817.5h2.00V814.8h2.00V816.3h2.00V814.7h2.00V816.1h2.00V818.2h2.00V814.8h2.00V815.9h2.00V814.3h2.00V817.4h2.00V807.1h2.00V803.0h2.00V802.3h2.00V812.9h2.00V811.2h2.00V813.0h2.00V816.6h2.00V815.4h2.00V816.9h2.00V811.1h2.00V814.1h2.00V809.6h2.00V811.3h2.00V817.0h2.00V815.1h2.00V815.3h2.00V820.1h2.00V811.8h2.00V810.3h2.00V808.2h2.00V811.2h2.00V807.4h2.00V809.1h2.00V803.3h2.00V807.8h2.00V814.4h2.00V811.2h2.00V813.2h2.00V815.1h2.00V814.9h2.00V817.5h2.00V816.0h2.00V817.4h2.00V818.2h2.00V816.4h2.00V817.9h2.00V799.3h2.00V800.7h2.00V816.1h2.00V816.4h2.00V815.5h2.00V812.9h2.00V802.0h2.00V814.1h2.00V817.9h2.00V814.5h2.00V809.9h2.00V809.8h2.00V806.0h2.00V811.2h2.00V811.0h2.00V803.4h2.00V815.0h2.00V816.6h2.00V808.0h2.00V814.5h2.00V812.9h2.00V802.2h2.00V803.8h2.00V814.7h2.00V809.5h2.00V819.7h2.00V815.6h2.00V805.6h2.00V812.5h2.00V807.7h2.00V808.6h2.00V802.7h2.00V807.4h2.00V808.9h2.00V810.7h2.00V813.1h2.00V809.7h2.00V806.7h2.00V811.2h2.00V811.1h2.00V812.9h2.00V807.9h2.00V813.6h2.00V816.2h2.00V815.1h2.00V809.9h2.00V807.2h2.00V809.9h2.00V803.7h2.00V809.7h2.00V809.7h2.00V813.7h2.00V814.6h2.00V812.6h2.00V798.5h2.00V809.9h2.00V809.1h2.00V804.4h2.00V807.2h2.00V807.9h2.00V812.1h2.00V813.5h2.00V820.2h2.00V817.7h2.00V808.5h2.00V801.1h2.00V802.0h2.00V811.1h2.00V812.6h2.00V809.9h2.00V808.7h2.00V811.6h2.00V812.2h2.00V811.4h2.00V811.2h2.00V812.1h2.00V807.4h2.00V806.4h2.00V804.4h2.00V805.8h2.00V792.3h2.00V800.3h2.00V795.3h2.00V809.9h2.00V807.0h2.00V817.2h2.00V810.4h2.00V806.0h2.00V804.9h2.00V808.5h2.00V809.9h2.00V809.1h2.00V808.9h2.00V811.0h2.00V807.7h2.00V805.4h2.00V805.0h2.00V806.1h2.00V812.4h2.00V807.1h2.00V811.3h2.00V810.8h2.00V812.5h2.00V813.0h2.00V808.1h2.00V811.8h2.00V811.1h2.00V812.1h2.00V802.7h2.00V788.5h2.00V798.4h2.00V798.3h2.00V793.1h2.00V799.0h2.00V802.5h2.00V805.2h2.00V806.9h2.00V799.4h2.00V809.3h2.00V806.1h2.00V798.3h2.00V808.6h2.00V807.8h2.00V810.1h2.00V811.3h2.00V809.0h2.00V811.8h2.00V808.3h2.00V801.7h2.00V809.2h2.00V812.0h2.00V812.0h2.00V807.3h2.00V802.2h2.00V803.2h2.00V812.0h2.00V807.8h2.00V806.5h2.00V796.9h2.00V803.8h2.00V809.7h2.00V811.4h2.00V808.2h2.00V810.6h2.00V809.9h2.00V808.9h2.00V798.8h2.00V796.6h2.00V789.4h2.00V801.4h2.00V810.0h2.00V815.2h2.00V816.7h2.00V814.1h2.00V810.4h2.00V811.1h2.00V808.3h2.00V804.3h2.00V811.2h2.00V812.1h2.00V806.7h2.00V812.3h2.00V791.3h2.00V809.1h2.00V809.6h2.00V812.5h2.00V809.2h2.00V815.3h2.00V814.0h2.00V817.2h2.00V812.5h2.00V814.4h2.00V809.6h2.00V807.3h2.00V806.8h2.00V809.1h2.00V804.7h2.00V801.3h2.00V806.8h2.00V802.6h2.00V810.1h2.00V806.9h2.00V804.8h2.00V801.9h2.00V804.8h2.00V806.0h2.00V809.1h2.00V810.6h2.00V807.8h2.00V810.1h2.00V808.2h2.00V806.1h2.00V798.2h2.00V808.9h2.00V813.1h2.00V806.5h2.00V810.1h2.00V807.2h2.00V783.2h2.00V802.0h2.00V802.5h2.00V800.3h2.00V806.0h2.00V808.8h2.00V806.5h2.00V800.0h2.00V806.9h2.00V800.3h2.00V803.9h2.00V805.4h2.00V803.5h2.00V811.2h2.00V809.9h2.00V814.2h2.00V808.4h2.00V815.1h2.00V814.8h2.00V809.7h2.00V809.0h2.00V811.4h2.00V804.9h2.00V808.7h2.00V809.4h2.00V807.4h2.00V804.8h2.00V797.7h2.00V792.0h2.00V793.0h2.00V795.4h2.00V796.7h2.00V807.0h2.00V802.8h2.00V809.7h2.00V814.2h2.00V813.6h2.00V805.4h2.00V813.8h2.00V804.1h2.00V811.2h2.00V806.2h2.00V810.3h2.00V807.9h2.00V810.3h2.00V807.1h2.00V807.6h2.00V807.8h2.00V807.1h2.00V807.9h2.00V809.7h2.00V806.2h2.00V800.3h2.00V808.6h2.00V807.6h2.00V809.1h2.00V808.4h2.00V810.8h2.00V806.8h2.00V810.3h2.00V814.5h2.00V807.2h2.00V809.4h2.00V810.9h2.00V806.5h2.00V803.1h2.00V804.4h2.00V803.9h2.00V807.5h2.00V803.5h2.00V796.8h2.00V809.4h2.00V801.8h2.00V801.3h2.00V807.2h2.00V808.3h2.00V808.8h2.00V808.1h2.00V807.8h2.00V814.2h2.00V810.8h2.00V800.8h2.00V803.3h2.00V803.1h2.00V806.9h2.00V806.2h2.00V803.6h2.00V806.0h2.00V807.0h2.00V805.4h2.00V803.5h2.00V800.1h2.00V797.3h2.00V806.3h2.00V808.0h2.00V808.1h2.00V806.9h2.00V810.4h2.00V805.1h2.00V810.3h2.00V808.9h2.00V809.0h2.00V809.2h2.00V800.1h2.00V811.8h2.00V809.5h2.00V809.3h2.00V805.5h2.00V797.1h2.00V802.9h2.00V805.4h2.00V802.2h2.00V795.3h2.00V809.7h2.00V809.6h2.00V812.3h2.00V798.6h2.00V810.8h2.00V812.9h2.00V811.8h2.00V811.0h2.00V812.6h2.00V807.9h2.00V807.9h2.00V811.6h2.00V802.8h2.00V810.0h2.00V805.8h2.00V805.1h2.00V807.2h2.00V800.5h2.00V799.6h2.00V804.6h2.00V806.5h2.00V804.4h2.00V801.5h2.00V801.1h2.00V808.2h2.00V800.3h2.00V810.7h2.00V811.3h2.00V804.0h2.00V811.4h2.00V805.6h2.00V810.7h2.00V806.2h2.00V809.3h2.00V809.8h2.00V803.6h2.00V806.8h2.00V808.0h2.00V808.6h2.00V779.7h2.00V801.8h2.00V800.1h2.00V795.5h2.00V804.7h2.00V802.4h2.00V807.9h2.00V806.2h2.00V810.1h2.00V804.5h2.00V807.6h2.00V804.6h2.00V806.8h2.00V806.4h2.00V808.6h2.00V811.1h2.00V808.7h2.00V801.9h2.00V804.8h2.00V805.2h2.00V799.8h2.00V803.0h2.00V805.1h2.00V803.0h2.00V807.6h2.00V801.0h2.00V797.7h2.00V804.6h2.00V805.2h2.00V805.0h2.00V804.4h2.00V807.4h2.00V808.2h2.00V809.6h2.00V804.4h2.00V789.8h2.00V780.2h2.00V801.0h2.00V804.2h2.00V806.3h2.00V803.0h2.00V810.7h2.00V788.5h2.00V804.1h2.00V804.8h2.00V803.3h2.00V804.8h2.00V803.7h2.00V793.8h2.00V807.7h2.00V811.6h2.00V808.2h2.00V810.1h2.00V800.8h2.00V808.8h2.00V809.3h2.00V805.5h2.00V802.4h2.00V804.7h2.00V803.1h2.00V809.6h2.00V806.8h2.00V805.0h2.00V794.1h2.00V799.9h2.00V798.4h2.00V803.3h2.00V802.3h2.00V808.2h2.00V799.9h2.00V802.5h2.00V806.1h2.00V803.8h2.00V802.1h2.00V806.0h2.00V805.9h2.00V794.2h2.00V802.7h2.00V805.9h2.00V807.6h2.00V807.8h2.00V803.1h2.00V798.9h2.00V804.4h2.00V804.6h2.00V798.7h2.00V799.3h2.00V801.7h2.00V800.6h2.00V798.7h2.00V788.8h2.00V773.3h2.00V797.7h2.00V801.1h2.00V805.6h2.00V806.5h2.00V806.8h2.00V802.2h2.00V808.8h2.00V807.0h2.00V802.9h2.00V803.3h2.00V800.4h2.00V805.8h2.00V808.1h2.00V803.0h2.00V800.2h2.00V801.9h2.00V799.6h2.00V805.4h2.00V805.8h2.00V801.2h2.00V807.5h2.00V808.5h2.00V808.2h2.00V807.3h2.00V809.4h2.00V804.0h2.00V807.0h2.00V807.4h2.00V805.5h2.00V806.0h2.00V811.5h2.00V795.1h2.00V802.8h2.00V804.8h2.00V800.9h2.00V806.1h2.00V800.1h2.00V798.9h2.00V802.6h2.00V799.9h2.00V806.3h2.00V805.5h2.00V806.9h2.00V803.2h2.00V802.1h2.00V806.0h2.00V807.0h2.00V805.9h2.00V802.0h2.00V808.7h2.00V809.6h2.00V803.8h2.00V803.6h2.00V796.0h2.00V801.3h2.00V803.0h2.00V797.0h2.00V803.7h2.00V799.0h2.00V799.3h2.00V798.5h2.00V796.5h2.00V798.2h2.00V806.1h2.00V795.4h2.00V799.4h2.00V805.7h2.00V805.0h2.00V806.8h2.00V799.5h2.00V803.1h2.00V802.5h2.00V806.1h2.00V803.9h2.00V797.4h2.00V805.7h2.00V796.1h2.00V801.2h2.00V792.1h2.00V803.3h2.00V800.5h2.00V797.9h2.00V801.7h2.00V801.5h2.00V806.9h2.00V806.1h2.00V802.8h2.00V806.2h2.00V803.5h2.00V794.3h2.00V804.9h2.00V807.3h2.00V804.6h2.00V809.0h2.00V800.6h2.00V805.0h2.00V799.1h2.00V797.8h2.00V802.7h2.00V805.7h2.00V798.0h2.00V800.3h2.00V806.4h2.00V798.4h2.00V789.4h2.00V801.6h2.00V806.4h2.00V806.5h2.00V799.7h2.00V803.7h2.00V799.6h2.00V800.9h2.00V807.9h2.00V804.6h2.00V801.7h2.00V801.6h2.00V795.7h2.00V803.0h2.00V805.4h2.00V798.8h2.00V799.0h2.00V787.8h2.00V802.4h2.00V802.1h2.00V800.6h2.00V800.2h2.00V802.3h2.00V800.9h2.00V797.5h2.00V778.2h2.00V798.6h2.00V802.6h2.00V802.0h2.00V800.4h2.00V804.7h2.00V803.6h2.00V796.7h2.00V802.0h2.00V800.8h2.00V800.3h2.00V801.3h2.00V796.8h2.00V795.3h2.00V794.1h2.00V797.3h2.00V798.9h2.00V800.4h2.00V800.6h2.00V798.0h2.00V802.0h2.00V798.7h2.00V800.9h2.00V798.1h2.00V804.4h2.00V801.9h2.00V798.5h2.00V805.5h2.00V792.6h2.00V803.3h2.00V799.2h2.00V801.0h2.00V797.8h2.00V798.1h2.00V796.2h2.00V788.7h2.00V796.1h2.00V794.3h2.00V792.2h2.00V799.6h2.00V792.7h2.00V796.1h2.00V801.7h2.00V802.3h2.00V801.9h2.00V799.8h2.00V800.5h2.00V795.6h2.00V801.3h2.00V798.8h2.00V798.9h2.00V795.1h2.00V802.1h2.00V799.5h2.00V797.3h2.00V800.6h2.00V794.1h2.00V794.7h2.00V791.1h2.00V796.8h2.00V798.7h2.00V795.9h2.00V792.2h2.00V801.0h2.00V801.1h2.00V799.3h2.00V800.7h2.00V796.4h2.00V793.3h2.00V800.9h2.00V794.9h2.00V799.7h2.00V793.6h2.00V796.0h2.00V795.4h2.00V786.7h2.00V791.1h2.00V797.1h2.00V793.6h2.00V797.7h2.00V795.7h2.00V790.0h2.00V796.3h2.00V793.6h2.00V793.5h2.00V798.1h2.00V786.4h2.00V792.4h2.00V797.6h2.00V799.1h2.00V795.5h2.00V797.9h2.00V786.5h2.00V790.9h2.00V792.4h2.00V789.4h2.00V792.9h2.00V786.0h2.00V791.6h2.00V789.0h2.00V789.9h2.00V793.3h2.00V792.8h2.00V792.2h2.00V786.4h2.00V796.8h2.00V796.5h2.00V797.3h2.00V788.9h2.00V793.3h2.00V793.1h2.00V793.0h2.00V797.2h2.00V796.1h2.00V781.8h2.00V788.5h2.00V792.7h2.00V792.2h2.00V788.4h2.00V789.3h2.00V789.3h2.00V787.3h2.00V792.2h2.00V791.1h2.00V790.1h2.00V792.3h2.00V795.3h2.00V787.7h2.00V794.9h2.00V791.0h2.00V794.8h2.00V794.4h2.00V797.4h2.00V791.9h2.00V793.6h2.00V783.5h2.00V784.5h2.00V790.1h2.00V787.3h2.00V780.1h2.00V786.6h2.00V785.8h2.00V783.0h2.00V784.8h2.00V789.2h2.00V785.6h2.00V785.8h2.00V780.0h2.00V776.9h2.00V788.3h2.00V792.3h2.00V792.3h2.00V783.5h2.00V792.0h2.00V788.3h2.00V784.0h2.00V784.5h2.00V783.7h2.00V786.1h2.00V784.2h2.00V804.4h-2.00V807.9h-2.00V807.2h-2.00V800.9h-2.00V803.7h-2.00V813.3h-2.00V815.1h-2.00V812.3h-2.00V809.7h-2.00V812.9h-2.00V807.2h-2.00V810.0h-2.00V806.3h-2.00V804.9h-2.00V807.9h-2.00V806.0h-2.00V810.8h-2.00V807.7h-2.00V812.2h-2.00V810.8h-2.00V807.8h-2.00V807.6h-2.00V815.5h-2.00V815.6h-2.00V807.2h-2.00V817.0h-2.00V810.4h-2.00V819.8h-2.00V821.7h-2.00V811.1h-2.00V812.1h-2.00V812.3h-2.00V818.4h-2.00V819.5h-2.00V812.9h-2.00V812.7h-2.00V807.7h-2.00V813.2h-2.00V806.9h-2.00V810.7h-2.00V808.4h-2.00V814.6h-2.00V810.6h-2.00V815.9h-2.00V809.6h-2.00V819.8h-2.00V816.2h-2.00V813.4h-2.00V810.7h-2.00V812.7h-2.00V820.8h-2.00V813.6h-2.00V820.6h-2.00V819.2h-2.00V823.7h-2.00V819.3h-2.00V811.9h-2.00V812.1h-2.00V810.7h-2.00V806.4h-2.00V808.5h-2.00V811.4h-2.00V814.5h-2.00V813.8h-2.00V810.5h-2.00V809.2h-2.00V810.0h-2.00V814.4h-2.00V822.1h-2.00V815.5h-2.00V817.0h-2.00V816.6h-2.00V817.2h-2.00V816.5h-2.00V817.3h-2.00V817.4h-2.00V831.8h-2.00V812.2h-2.00V811.6h-2.00V813.0h-2.00V814.8h-2.00V814.5h-2.00V813.7h-2.00V813.0h-2.00V817.7h-2.00V822.2h-2.00V815.2h-2.00V817.3h-2.00V817.2h-2.00V817.4h-2.00V823.0h-2.00V819.7h-2.00V823.3h-2.00V819.9h-2.00V819.4h-2.00V818.4h-2.00V820.8h-2.00V824.1h-2.00V818.8h-2.00V816.8h-2.00V816.6h-2.00V815.4h-2.00V818.6h-2.00V816.9h-2.00V817.2h-2.00V818.0h-2.00V820.9h-2.00V820.7h-2.00V821.7h-2.00V823.6h-2.00V821.9h-2.00V822.2h-2.00V828.4h-2.00V829.0h-2.00V822.1h-2.00V823.5h-2.00V819.6h-2.00V821.3h-2.00V818.8h-2.00V820.4h-2.00V820.0h-2.00V818.7h-2.00V816.2h-2.00V820.0h-2.00V817.0h-2.00V821.5h-2.00V814.7h-2.00V820.0h-2.00V834.1h-2.00V816.3h-2.00V822.6h-2.00V819.9h-2.00V822.8h-2.00V825.9h-2.00V821.4h-2.00V824.2h-2.00V816.8h-2.00V818.7h-2.00V817.5h-2.00V834.2h-2.00V826.3h-2.00V818.1h-2.00V817.8h-2.00V820.2h-2.00V817.5h-2.00V813.2h-2.00V815.1h-2.00V815.0h-2.00V833.0h-2.00V818.7h-2.00V820.7h-2.00V825.9h-2.00V824.1h-2.00V826.1h-2.00V824.1h-2.00V822.2h-2.00V820.8h-2.00V831.0h-2.00V825.1h-2.00V825.5h-2.00V820.8h-2.00V822.1h-2.00V822.6h-2.00V816.5h-2.00V826.8h-2.00V819.9h-2.00V828.3h-2.00V821.0h-2.00V827.2h-2.00V829.1h-2.00V826.4h-2.00V830.0h-2.00V822.5h-2.00V825.2h-2.00V823.3h-2.00V826.3h-2.00V824.8h-2.00V827.0h-2.00V824.2h-2.00V825.4h-2.00V823.8h-2.00V825.1h-2.00V823.8h-2.00V821.7h-2.00V819.9h-2.00V823.2h-2.00V827.1h-2.00V822.2h-2.00V821.8h-2.00V826.5h-2.00V819.7h-2.00V821.4h-2.00V821.9h-2.00V825.3h-2.00V840.3h-2.00V827.4h-2.00V824.9h-2.00V824.6h-2.00V825.8h-2.00V821.2h-2.00V822.5h-2.00V828.2h-2.00V821.9h-2.00V822.9h-2.00V826.6h-2.00V826.3h-2.00V820.9h-2.00V832.3h-2.00V823.5h-2.00V821.0h-2.00V820.8h-2.00V821.3h-2.00V820.3h-2.00V825.4h-2.00V820.1h-2.00V822.7h-2.00V824.0h-2.00V825.0h-2.00V826.2h-2.00V825.8h-2.00V823.1h-2.00V821.2h-2.00V828.1h-2.00V822.4h-2.00V825.0h-2.00V827.8h-2.00V823.6h-2.00V816.8h-2.00V821.4h-2.00V820.8h-2.00V831.7h-2.00V822.7h-2.00V825.0h-2.00V841.7h-2.00V823.7h-2.00V821.5h-2.00V826.1h-2.00V826.2h-2.00V826.5h-2.00V825.1h-2.00V832.0h-2.00V832.1h-2.00V827.2h-2.00V826.2h-2.00V827.6h-2.00V824.9h-2.00V823.0h-2.00V826.3h-2.00V836.4h-2.00V823.1h-2.00V825.2h-2.00V825.0h-2.00V831.0h-2.00V824.0h-2.00V819.6h-2.00V826.1h-2.00V827.4h-2.00V823.4h-2.00V835.7h-2.00V828.6h-2.00V827.0h-2.00V825.5h-2.00V823.6h-2.00V828.5h-2.00V833.3h-2.00V825.8h-2.00V827.1h-2.00V826.0h-2.00V832.2h-2.00V820.5h-2.00V824.2h-2.00V830.0h-2.00V823.9h-2.00V829.2h-2.00V824.8h-2.00V824.9h-2.00V825.4h-2.00V824.7h-2.00V823.3h-2.00V823.7h-2.00V825.8h-2.00V828.3h-2.00V825.4h-2.00V832.6h-2.00V825.2h-2.00V829.0h-2.00V824.7h-2.00V824.9h-2.00V819.4h-2.00V810.8h-2.00V811.1h-2.00V827.4h-2.00V820.9h-2.00V831.9h-2.00V827.2h-2.00V821.2h-2.00V827.5h-2.00V820.5h-2.00V819.4h-2.00V829.6h-2.00V826.2h-2.00V829.0h-2.00V826.7h-2.00V827.5h-2.00V825.7h-2.00V823.2h-2.00V830.8h-2.00V828.8h-2.00V822.4h-2.00V824.9h-2.00V822.7h-2.00V821.1h-2.00V826.0h-2.00V829.3h-2.00V820.7h-2.00V822.1h-2.00V821.6h-2.00V825.7h-2.00V823.7h-2.00V828.4h-2.00V827.4h-2.00V827.4h-2.00V827.2h-2.00V825.5h-2.00V825.7h-2.00V826.9h-2.00V832.0h-2.00V845.3h-2.00V833.9h-2.00V825.8h-2.00V830.9h-2.00V826.1h-2.00V831.8h-2.00V826.9h-2.00V828.2h-2.00V823.2h-2.00V825.9h-2.00V822.8h-2.00V830.4h-2.00V827.8h-2.00V821.0h-2.00V825.2h-2.00V824.3h-2.00V822.5h-2.00V815.7h-2.00V812.3h-2.00V821.3h-2.00V827.8h-2.00V831.1h-2.00V828.0h-2.00V827.1h-2.00V837.5h-2.00V822.5h-2.00V830.4h-2.00V828.8h-2.00V827.8h-2.00V825.4h-2.00V836.5h-2.00V827.2h-2.00V822.0h-2.00V828.2h-2.00V827.2h-2.00V824.5h-2.00V829.1h-2.00V831.6h-2.00V831.0h-2.00V829.4h-2.00V828.4h-2.00V830.8h-2.00V827.9h-2.00V832.2h-2.00V825.5h-2.00V829.7h-2.00V828.7h-2.00V826.1h-2.00V828.1h-2.00V823.2h-2.00V830.0h-2.00V817.8h-2.00V820.0h-2.00V823.0h-2.00V826.3h-2.00V826.5h-2.00V830.3h-2.00V831.4h-2.00V837.9h-2.00V827.3h-2.00V830.8h-2.00V829.3h-2.00V828.7h-2.00V831.0h-2.00V832.0h-2.00V834.6h-2.00V829.7h-2.00V824.6h-2.00V825.0h-2.00V822.0h-2.00V821.2h-2.00V832.6h-2.00V826.2h-2.00V830.2h-2.00V838.6h-2.00V827.3h-2.00V824.0h-2.00V831.4h-2.00V827.5h-2.00V826.1h-2.00V829.9h-2.00V835.1h-2.00V834.2h-2.00V831.5h-2.00V829.4h-2.00V855.1h-2.00V829.4h-2.00V828.8h-2.00V828.6h-2.00V825.6h-2.00V834.6h-2.00V829.9h-2.00V827.6h-2.00V832.8h-2.00V826.2h-2.00V823.5h-2.00V834.7h-2.00V825.1h-2.00V828.2h-2.00V829.9h-2.00V832.9h-2.00V829.4h-2.00V834.2h-2.00V833.9h-2.00V832.9h-2.00V827.0h-2.00V829.8h-2.00V835.3h-2.00V828.2h-2.00V833.6h-2.00V833.1h-2.00V826.6h-2.00V831.2h-2.00V821.9h-2.00V822.0h-2.00V826.8h-2.00V830.4h-2.00V830.5h-2.00V824.1h-2.00V828.7h-2.00V825.0h-2.00V835.5h-2.00V825.6h-2.00V829.9h-2.00V824.8h-2.00V828.3h-2.00V831.6h-2.00V829.5h-2.00V826.5h-2.00V827.1h-2.00V830.5h-2.00V828.4h-2.00V829.4h-2.00V837.9h-2.00V827.4h-2.00V828.6h-2.00V824.8h-2.00V826.8h-2.00V823.4h-2.00V825.4h-2.00V820.7h-2.00V824.1h-2.00V827.9h-2.00V833.0h-2.00V831.9h-2.00V843.4h-2.00V831.9h-2.00V829.1h-2.00V839.2h-2.00V827.6h-2.00V828.9h-2.00V826.1h-2.00V829.2h-2.00V837.3h-2.00V832.9h-2.00V832.4h-2.00V832.3h-2.00V824.5h-2.00V827.2h-2.00V830.7h-2.00V823.3h-2.00V828.8h-2.00V832.7h-2.00V830.5h-2.00V837.2h-2.00V842.0h-2.00V828.2h-2.00V848.4h-2.00V828.2h-2.00V834.4h-2.00V833.3h-2.00V832.0h-2.00V832.2h-2.00V824.1h-2.00V818.0h-2.00V813.4h-2.00V810.8h-2.00V812.6h-2.00V816.9h-2.00V828.3h-2.00V827.4h-2.00V832.5h-2.00V830.7h-2.00V825.4h-2.00V829.3h-2.00V830.4h-2.00V829.3h-2.00V831.0h-2.00V833.2h-2.00V832.7h-2.00V834.4h-2.00V833.2h-2.00V836.1h-2.00V828.5h-2.00V829.3h-2.00V823.0h-2.00V823.9h-2.00V830.8h-2.00V832.3h-2.00V837.1h-2.00V827.3h-2.00V826.3h-2.00V827.4h-2.00V828.2h-2.00V833.2h-2.00V830.1h-2.00V828.6h-2.00V831.8h-2.00V825.4h-2.00V831.1h-2.00V830.5h-2.00V832.2h-2.00V827.1h-2.00V830.2h-2.00V831.2h-2.00V832.4h-2.00V827.4h-2.00V835.1h-2.00V826.8h-2.00V845.2h-2.00V824.9h-2.00V826.6h-2.00V826.6h-2.00V830.0h-2.00V831.2h-2.00V832.5h-2.00V832.9h-2.00V834.9h-2.00V825.7h-2.00V825.8h-2.00V831.7h-2.00V835.9h-2.00V833.2h-2.00V832.5h-2.00V835.5h-2.00V831.3h-2.00V832.8h-2.00V831.7h-2.00V831.1h-2.00V831.0h-2.00V828.4h-2.00V837.7h-2.00V833.9h-2.00V828.9h-2.00V832.7h-2.00V828.6h-2.00V826.0h-2.00V830.1h-2.00V829.4h-2.00V837.5h-2.00V831.5h-2.00V834.0h-2.00V835.8h-2.00V830.5h-2.00V838.2h-2.00V813.9h-2.00V823.6h-2.00V817.8h-2.00V831.5h-2.00V835.0h-2.00V829.9h-2.00V828.6h-2.00V828.5h-2.00V826.2h-2.00V835.1h-2.00V822.6h-2.00V823.9h-2.00V848.1h-2.00V830.3h-2.00V828.9h-2.00V829.9h-2.00V826.5h-2.00V829.8h-2.00V830.0h-2.00V833.4h-2.00V832.0h-2.00V829.8h-2.00V830.6h-2.00V831.5h-2.00V830.4h-2.00V838.5h-2.00V829.4h-2.00V825.0h-2.00V826.3h-2.00V826.2h-2.00V833.5h-2.00V824.6h-2.00V833.3h-2.00V825.0h-2.00V822.7h-2.00V826.5h-2.00V818.2h-2.00V820.2h-2.00V819.9h-2.00V818.8h-2.00V822.1h-2.00V829.1h-2.00V833.7h-2.00V830.0h-2.00V828.9h-2.00V829.4h-2.00V829.6h-2.00V830.0h-2.00V832.6h-2.00V830.9h-2.00V834.2h-2.00V831.5h-2.00V833.3h-2.00V833.9h-2.00V828.1h-2.00V830.8h-2.00V831.8h-2.00V831.3h-2.00V833.4h-2.00V830.0h-2.00V822.8h-2.00V824.2h-2.00V838.6h-2.00V834.0h-2.00V832.7h-2.00V832.5h-2.00V820.6h-2.00V821.8h-2.00V827.1h-2.00V832.4h-2.00V829.5h-2.00V831.9h-2.00V828.8h-2.00V829.4h-2.00V830.4h-2.00V837.9h-2.00V832.3h-2.00V834.7h-2.00V831.8h-2.00V832.3h-2.00V834.0h-2.00V827.8h-2.00V825.1h-2.00V820.9h-2.00V831.2h-2.00V835.1h-2.00V837.1h-2.00V837.2h-2.00V830.1h-2.00V830.4h-2.00V828.9h-2.00V828.3h-2.00V831.5h-2.00V830.1h-2.00V831.9h-2.00V837.7h-2.00V832.0h-2.00V835.5h-2.00V827.0h-2.00V830.7h-2.00V830.9h-2.00V827.9h-2.00V832.0h-2.00V832.1h-2.00V837.2h-2.00V836.7h-2.00V840.0h-2.00V834.4h-2.00V829.4h-2.00V829.3h-2.00V830.1h-2.00V830.2h-2.00V830.9h-2.00V843.7h-2.00V830.3h-2.00V826.8h-2.00V826.7h-2.00V828.8h-2.00V827.1h-2.00V830.7h-2.00V830.5h-2.00V834.7h-2.00V836.6h-2.00V836.7h-2.00V834.5h-2.00V831.7h-2.00V822.5h-2.00V821.3h-2.00V833.9h-2.00V840.7h-2.00V833.2h-2.00V836.3h-2.00V837.6h-2.00V831.3h-2.00V828.6h-2.00V829.1h-2.00V840.8h-2.00V836.0h-2.00V841.3h-2.00V840.1h-2.00V836.4h-2.00V835.2h-2.00V834.2h-2.00V835.6h-2.00V837.8h-2.00V835.3h-2.00V832.5h-2.00V825.5h-2.00V837.0h-2.00V836.2h-2.00V834.1h-2.00V847.7h-2.00V837.4h-2.00V833.1h-2.00V840.9h-2.00V830.9h-2.00V837.1h-2.00V833.7h-2.00V837.2h-2.00V835.4h-2.00V829.6h-2.00V834.6h-2.00V831.3h-2.00V842.8h-2.00V834.5h-2.00V839.2h-2.00V838.3h-2.00V840.7h-2.00V836.7h-2.00V844.4h-2.00V833.0h-2.00V834.3h-2.00V836.0h-2.00V835.0h-2.00V834.0h-2.00V834.3h-2.00V833.6h-2.00V836.9h-2.00V838.0h-2.00V835.0h-2.00V833.0h-2.00V831.3h-2.00V827.2h-2.00V832.4h-2.00V832.1h-2.00V844.0h-2.00V838.7h-2.00V834.5h-2.00V841.9h-2.00V838.2h-2.00V834.6h-2.00V841.6h-2.00V836.6h-2.00V833.1h-2.00V838.6h-2.00V834.0h-2.00V831.7h-2.00V834.9h-2.00V835.4h-2.00V833.7h-2.00V831.7h-2.00V820.8h-2.00V833.0h-2.00V835.9h-2.00V836.5h-2.00V840.3h-2.00V837.1h-2.00V832.8h-2.00V833.8h-2.00V837.3h-2.00V841.5h-2.00V824.1h-2.00V833.3h-2.00V828.6h-2.00V835.9h-2.00V838.1h-2.00V851.4h-2.00V842.5h-2.00V854.3h-2.00V833.0h-2.00V836.8h-2.00V837.3h-2.00V836.8h-2.00V847.6h-2.00V835.9h-2.00V835.5h-2.00V833.8h-2.00V838.6h-2.00V839.7h-2.00V839.2h-2.00V839.7h-2.00V836.3h-2.00V836.5h-2.00V847.6h-2.00V841.6h-2.00V839.3h-2.00V838.9h-2.00V841.2h-2.00V844.1h-2.00V839.2h-2.00V835.5h-2.00V834.1h-2.00V835.8h-2.00V846.1h-2.00V833.9h-2.00V841.9h-2.00V833.9h-2.00V841.3h-2.00V833.8h-2.00V831.8h-2.00V825.8h-2.00V821.1h-2.00V828.3h-2.00V838.6h-2.00V840.9h-2.00V836.8h-2.00V837.0h-2.00V851.8h-2.00V840.2h-2.00V835.4h-2.00V833.6h-2.00V835.4h-2.00V832.8h-2.00V840.0h-2.00V835.6h-2.00V832.6h-2.00V837.3h-2.00V837.7h-2.00V832.3h-2.00V832.8h-2.00V833.8h-2.00V841.5h-2.00V837.3h-2.00V839.7h-2.00V838.0h-2.00V843.0h-2.00V827.7h-2.00V821.9h-2.00V838.3h-2.00V837.6h-2.00V837.3h-2.00V841.4h-2.00V836.4h-2.00V841.5h-2.00V833.9h-2.00V835.0h-2.00V834.3h-2.00Z" fill="#008000"/><g fill="none" stroke="#008000" stroke-width="2.2" stroke-linejoin="round"><polyline points="225.5,826.7 226.0,826.4 226.5,825.5 227.0,823.4 227.5,818.3 228.0,809.2 228.5,797.9 229.0,791.9 229.5,795.0 230.0,802.0 230.5,809.9 231.0,816.6 231.5,821.6 232.0,824.8 232.5,826.6 233.0,827.6 233.5,828.2"/><polyline points="276.5,827.7 277.0,827.2 277.5,826.3 278.0,824.1 278.5,819.4 279.0,811.2 279.5,801.2 280.0,795.7 280.5,798.1 281.0,803.9 281.5,810.5 282.0,816.2 282.5,820.2 283.0,822.9 283.5,824.4 284.0,825.1 284.5,825.5"/><polyline points="354.0,826.0 354.5,825.8 355.0,825.4 355.5,824.2 356.0,820.1 356.5,807.8 357.0,781.3 357.5,744.4 358.0,723.0 358.5,733.8 359.0,757.5 359.5,782.2 360.0,801.8 360.5,814.6 361.0,821.5 361.5,824.8 362.0,826.3 362.5,827.0 363.0,827.2"/><polyline points="376.5,823.9 377.0,823.7 377.5,823.1 378.0,821.6 378.5,817.9 379.0,811.2 379.5,802.9 380.0,798.5 380.5,800.5 381.0,805.2 381.5,810.6 382.0,815.1 382.5,818.4 383.0,820.4 383.5,821.4 384.0,821.8 384.5,822.0"/><polyline points="483.5,827.6 484.0,827.6 484.5,827.3 485.0,825.9 485.5,822.5 486.0,816.3 486.5,808.7 487.0,804.5 487.5,806.4 488.0,810.9 488.5,816.0 489.0,820.2 489.5,823.2 490.0,825.0 490.5,825.9 491.0,826.1"/><polyline points="525.5,825.2 526.0,824.8 526.5,824.2 527.0,822.6 527.5,819.0 528.0,812.7 528.5,805.0 529.0,800.9 529.5,802.7 530.0,807.1 530.5,812.1 531.0,816.4 531.5,819.6 532.0,821.6 532.5,822.6 533.0,823.3"/><polyline points="613.5,824.7 614.0,824.3 614.5,823.4 615.0,820.9 615.5,813.9 616.0,799.2 616.5,778.8 617.0,766.9 617.5,772.5 618.0,785.1 618.5,798.2 619.0,808.7 619.5,815.5 620.0,819.2 620.5,820.9 621.0,821.8 621.5,822.2"/><polyline points="644.5,822.4 645.0,822.3 645.5,821.8 646.0,820.3 646.5,815.7 647.0,804.2 647.5,783.6 648.0,758.3 648.5,744.7 649.0,751.2 649.5,766.5 650.0,783.6 650.5,798.3 651.0,808.9 651.5,815.5 652.0,819.1 652.5,820.9 653.0,821.8 653.5,822.2 654.0,822.4"/><polyline points="658.5,823.2 659.0,823.1 659.5,822.4 660.0,820.3 660.5,815.0 661.0,805.3 661.5,793.4 662.0,787.0 662.5,790.2 663.0,797.4 663.5,805.5 664.0,812.4 664.5,817.4 665.0,820.3 665.5,821.9 666.0,822.5 666.5,822.8"/><polyline points="699.0,820.8 699.5,820.4 700.0,819.9 700.5,819.3 701.0,818.3 701.5,817.1 702.0,815.5 702.5,813.1 703.0,808.8 703.5,799.0 704.0,774.5 704.5,718.8 705.0,616.3 705.5,473.9 706.0,343.7 706.5,320.6 707.0,379.3 707.5,472.8 708.0,570.2 708.5,653.8 709.0,716.3 709.5,757.6 710.0,782.1 710.5,795.6 711.0,802.8 711.5,806.7 712.0,809.0 712.5,810.6 713.0,811.8 713.5,812.8 714.0,813.6 714.5,814.3 715.0,814.9 715.5,815.3 716.0,815.8"/><polyline points="775.0,819.8 775.5,819.3 776.0,818.7 776.5,817.6 777.0,815.1 777.5,807.7 778.0,786.2 778.5,740.5 779.0,677.1 779.5,640.1 780.0,658.4 780.5,698.7 781.0,740.9 781.5,774.5 782.0,796.4 782.5,808.5 783.0,814.6 783.5,817.5 784.0,819.1 784.5,820.1 785.0,820.8 785.5,821.4"/><polyline points="934.0,816.9 934.5,816.2 935.0,815.2 935.5,813.7 936.0,811.8 936.5,809.3 937.0,806.4 937.5,802.9 938.0,799.2 938.5,795.3 939.0,792.0 939.5,789.6 940.0,788.7 940.5,789.2 941.0,790.5 941.5,792.5 942.0,794.8 942.5,797.4 943.0,800.2 943.5,803.0 944.0,805.7 944.5,808.2 945.0,810.6 945.5,812.6 946.0,814.5 946.5,816.1 947.0,817.4 947.5,818.5 948.0,819.4 948.5,820.2"/><polyline points="1252.5,819.1 1253.0,818.7 1253.5,818.2 1254.0,817.2 1254.5,814.6 1255.0,807.4 1255.5,790.4 1256.0,760.2 1256.5,723.2 1257.0,703.0 1257.5,712.3 1258.0,734.3 1258.5,758.9 1259.0,780.0 1259.5,795.3 1260.0,804.8 1260.5,810.0 1261.0,812.6 1261.5,813.8 1262.0,814.4 1262.5,814.7"/><polyline points="1364.0,811.9 1364.5,811.5 1365.0,810.5 1365.5,807.8 1366.0,801.5 1366.5,790.3 1367.0,776.6 1367.5,769.3 1368.0,772.9 1368.5,781.2 1369.0,790.7 1369.5,798.9 1370.0,804.9 1370.5,808.7 1371.0,811.1 1371.5,812.4 1372.0,813.3"/></g>
<ellipse cx="229" cy="757" rx="11.75" ry="11.75" fill="#000"/>
<path d="M263.5,754.5H294.5L279,779.5Z" fill="#000"/>
<ellipse cx="356.5" cy="688" rx="11.75" ry="11.75" fill="#000"/>
<rect x="368.6" y="751.6" width="22.8" height="22.8" fill="none" stroke="#000" stroke-width="4.2"/>
<ellipse cx="484.5" cy="762.5" rx="11.75" ry="11.75" fill="#000"/>
<path d="M529,732.0L540.0,747L529,762.0L518.0,747Z" fill="#000"/>
<ellipse cx="561" cy="783" rx="11.75" ry="11.75" fill="#000"/>
<ellipse cx="617" cy="720.5" rx="11.75" ry="11.75" fill="#000"/>
<rect x="665.6" y="742.6" width="22.8" height="22.8" fill="none" stroke="#000" stroke-width="4.2"/>
<rect x="727.6" y="754.6" width="22.8" height="22.8" fill="none" stroke="#000" stroke-width="4.2"/>
<path d="M762.9,561.1H798.1L780.5,590.0Z" fill="none" stroke="#000" stroke-width="3.2" stroke-linejoin="miter"/>
<ellipse cx="856" cy="759" rx="11.75" ry="11.75" fill="#000"/>
<path d="M920.3,729.1H955.5L937.9,758.0Z" fill="none" stroke="#000" stroke-width="3.2" stroke-linejoin="miter"/>
<ellipse cx="1190.5" cy="764.5" rx="11.75" ry="11.75" fill="#000"/>
<path d="M1236.6,644.0H1271.8L1254.2,672.9Z" fill="none" stroke="#000" stroke-width="3.2" stroke-linejoin="miter"/>
<path d="M1348.7,722.6H1383.9L1366.3,751.5Z" fill="none" stroke="#000" stroke-width="3.2" stroke-linejoin="miter"/>
<path d="M648.4,65.8L659.4,80.8L648.4,95.8L637.4,80.8Z" fill="#000"/>
<rect x="694.4" y="253.0" width="24" height="22" fill="#000"/>
<ellipse cx="824.4" cy="868.6" rx="11.75" ry="11.75" fill="#000"/>
<path d="M912.8,842.7L923.8,857.7L912.8,872.7L901.8,857.7Z" fill="#000"/>
<path d="M970.2,882.2L981.2,897.2L970.2,912.2L959.2,897.2Z" fill="#000"/>
<ellipse cx="990.8" cy="859.8" rx="11.75" ry="11.75" fill="#000"/>
<path d="M1132.3,826.2L1143.3,841.2L1132.3,856.2L1121.3,841.2Z" fill="#000"/>
<path d="M1228.6,868.3L1239.6,883.3L1228.6,898.3L1217.6,883.3Z" fill="#000"/>
<path d="M1333.8,853.6L1344.8,868.6L1333.8,883.6L1322.8,868.6Z" fill="#000"/>
<path d="M1402.4,867.9H1437.6L1420.0,896.8Z" fill="none" stroke="#000" stroke-width="3.2" stroke-linejoin="miter"/>
<path d="M1499.7,838.9L1510.7,853.9L1499.7,868.9L1488.7,853.9Z" fill="#000"/>
<ellipse cx="1608.6" cy="894.7" rx="11.75" ry="11.75" fill="#000"/>
<path d="M1825.3,886.2L1836.3,901.2L1825.3,916.2L1814.3,901.2Z" fill="#000"/>
<rect x="1902.6" y="880.6" width="22.8" height="22.8" fill="none" stroke="#000" stroke-width="4.2"/>
<path d="M449.0,1025.5H480.0L464.5,1050.5Z" fill="#000"/>
<rect x="1064.3" y="999.0" width="24" height="22" fill="#000"/>
<rect x="1090.8" y="1013.8" width="24" height="22" fill="#000"/>
<rect x="1681.4" y="1024.5" width="22.8" height="22.8" fill="none" stroke="#000" stroke-width="4.2"/>
<rect x="1760.0" y="1024.9" width="24" height="22" fill="#000"/>
<path d="M1541,91.0L1557.5,113.5L1541,136.0L1524.5,113.5Z" fill="#000"/>
<rect x="1526.3" y="185.3" width="35.0" height="35.0" fill="none" stroke="#000" stroke-width="7"/>
<path d="M1523.0,271.0H1570.0L1546.5,311.0Z" fill="#000"/>
<rect x="1522.0" y="365.0" width="35.5" height="32" fill="#000"/>
<ellipse cx="1539.8" cy="470.3" rx="17.6" ry="16.3" fill="#000"/>
<path d="M1527.6,539.0H1566.0L1546.8,571.3Z" fill="none" stroke="#000" stroke-width="4.2" stroke-linejoin="miter"/>
<text x="1618.0" y="133.7" font-family='"Liberation Serif", serif' font-weight="bold" font-style="normal" font-size="55.8" textLength="160.2" lengthAdjust="spacingAndGlyphs" fill="#000" >quartz</text>
<text x="1626.2" y="223.5" font-family='"Liberation Serif", serif' font-weight="bold" font-style="normal" font-size="55.8" textLength="136.2" lengthAdjust="spacingAndGlyphs" fill="#000" >albite</text>
<text x="1632.2" y="312.0" font-family='"Liberation Serif", serif' font-weight="bold" font-style="normal" font-size="55.8" textLength="153.3" lengthAdjust="spacingAndGlyphs" fill="#000" >biotite</text>
<text x="1617.9" y="400.0" font-family='"Liberation Serif", serif' font-weight="bold" font-style="normal" font-size="55.8" textLength="155.5" lengthAdjust="spacingAndGlyphs" fill="#000" >calcite</text>
<text x="1618.0" y="488.7" font-family='"Liberation Serif", serif' font-weight="bold" font-style="normal" font-size="55.8" textLength="267.2" lengthAdjust="spacingAndGlyphs" fill="#000" >clinochlore</text>
<text x="1632.2" y="578.6" font-family='"Liberation Serif", serif' font-weight="bold" font-style="normal" font-size="55.8" textLength="144.8" lengthAdjust="spacingAndGlyphs" fill="#000" >pyrite</text>
<text x="1625.0" y="761.9" font-family='"Liberation Serif", serif' font-weight="bold" font-style="normal" font-size="48.9" textLength="309.6" lengthAdjust="spacingAndGlyphs" fill="#000" >JKB -63+0 μm</text>
<text x="1573.5" y="867.4" font-family='"Liberation Serif", serif' font-weight="bold" font-style="normal" font-size="48.9" textLength="358.2" lengthAdjust="spacingAndGlyphs" fill="#000" >JKB -100+63 μm</text>
<text x="1544.9" y="1013.8" font-family='"Liberation Serif", serif' font-weight="bold" font-style="normal" font-size="48.9" textLength="380.9" lengthAdjust="spacingAndGlyphs" fill="#000" >JKB -200+100 μm</text>
<text x="1546.7" y="1155.0" font-family='"Liberation Serif", serif' font-weight="bold" font-style="normal" font-size="48.9" textLength="381.6" lengthAdjust="spacingAndGlyphs" fill="#000" >JKB -300+200 μm</text>
<text x="1545.1" y="1255.0" font-family='"Liberation Serif", serif' font-weight="bold" font-style="normal" font-size="48.9" textLength="381.5" lengthAdjust="spacingAndGlyphs" fill="#000" >JKB -400+300 μm</text>
<path d="M208.1,35.9V1332.2M1951.15,35.9V1343M205.5,38.35H1953.9M205.5,1329.5H1953.9" stroke="#000" fill="none" stroke-width="5.2"/>
<path d="M310.3,1331V1343 M515.0,1331V1356.5 M719.7,1331V1343 M924.4,1331V1356.5 M1129.1,1331V1343 M1333.8,1331V1356.5 M1538.5,1331V1343 M1743.2,1331V1356.5" stroke="#000" stroke-width="4.6" fill="none"/>
<text x="481.2" y="1422.7" font-family='"Liberation Serif", serif' font-weight="normal" font-style="normal" font-size="63.6" textLength="66.2" lengthAdjust="spacingAndGlyphs" fill="#000" >20</text>
<text x="894.2" y="1422.7" font-family='"Liberation Serif", serif' font-weight="normal" font-style="normal" font-size="63.6" textLength="62.7" lengthAdjust="spacingAndGlyphs" fill="#000" >40</text>
<text x="1303.2" y="1422.7" font-family='"Liberation Serif", serif' font-weight="normal" font-style="normal" font-size="63.6" textLength="64.6" lengthAdjust="spacingAndGlyphs" fill="#000" >60</text>
<text x="1714.8" y="1422.7" font-family='"Liberation Serif", serif' font-weight="normal" font-style="normal" font-size="63.6" textLength="63.0" lengthAdjust="spacingAndGlyphs" fill="#000" >80</text>
<text x="983.6" y="1565.8" font-family='"Liberation Serif", serif' font-weight="normal" font-style="normal" font-size="87.0" textLength="46.6" lengthAdjust="spacingAndGlyphs" fill="#000" >2</text>
<text x="1033.9" y="1565.8" font-family='"Liberation Serif", serif' font-weight="normal" font-style="italic" font-size="87.0" textLength="52.7" lengthAdjust="spacingAndGlyphs" fill="#000" >θ</text>
<text x="1100.1" y="1565.8" font-family='"Liberation Serif", serif' font-weight="normal" font-style="italic" font-size="87.0" textLength="16.9" lengthAdjust="spacingAndGlyphs" fill="#000" >/</text>
<text x="1142.8" y="1530.4" font-family='"Liberation Serif", serif' font-weight="normal" font-style="normal" font-size="59.0" textLength="31.3" lengthAdjust="spacingAndGlyphs" fill="#000" >0</text>
<text transform="translate(89,925.0) rotate(-90)" x="0" y="0" font-family='"Liberation Serif", serif' font-size="87" textLength="478.8" lengthAdjust="spacingAndGlyphs">Intensity, a.u.</text>
<text x="217.7" y="125.0" font-family='"Liberation Sans", sans-serif' font-weight="normal" font-style="normal" font-size="77.0" textLength="39.9" lengthAdjust="spacingAndGlyphs" fill="#000" >a</text>
<text x="264.9" y="123.3" font-family='"Liberation Sans", sans-serif' font-weight="normal" font-style="normal" font-size="76.0" textLength="26.7" lengthAdjust="spacingAndGlyphs" fill="#000" stroke="#fdfdfd" stroke-width="2.6">)</text>
<defs><filter id="sb" x="-5%" y="-5%" width="110%" height="110%"><feGaussianBlur stdDeviation="0.7"/></filter></defs>
<g filter="url(#sb)"><rect x="106" y="1614" width="1813" height="910" fill="#ffffff"/>
<rect x="106" y="1614" width="1813" height="4.4" fill="#b4b4b4"/>
<rect x="110" y="1618.4" width="1803" height="4.2" fill="#e8e8e8"/>
<rect x="110" y="2515" width="1805" height="4" fill="#e8e8e8"/>
<rect x="106" y="2519" width="1813" height="4.8" fill="#bbbbbb"/>
<rect x="106" y="1614" width="4.3" height="909.8" fill="#52698b"/>
<rect x="110.3" y="1618.4" width="3.7" height="896.6" fill="#a8a8a8"/>
<rect x="1911.2" y="1618.4" width="3.6" height="896.6" fill="#f1f1ef"/>
<rect x="1914.9" y="1614" width="3.9" height="909.8" fill="#4a5a72"/>
<text x="159.0" y="1690.6" font-family='"Liberation Sans", sans-serif' font-weight="bold" font-style="normal" font-size="60.0" textLength="33.2" lengthAdjust="spacingAndGlyphs" fill="#000" >b</text>
<text x="193.0" y="1691.5" font-family='"Liberation Sans", sans-serif' font-weight="normal" font-style="normal" font-size="60.0" textLength="26.5" lengthAdjust="spacingAndGlyphs" fill="#000" stroke="#ffffff" stroke-width="2.2">)</text>
<text x="282.5" y="1691.0" font-family='"Liberation Sans", sans-serif' font-weight="normal" font-style="normal" font-size="45.5" textLength="369.6" lengthAdjust="spacingAndGlyphs" fill="#2a2a2a" >JKB -400+300 μm</text>
<text x="805.3" y="1686.6" font-family='"Liberation Sans", sans-serif' font-weight="normal" font-style="normal" font-size="45.5" textLength="357.3" lengthAdjust="spacingAndGlyphs" fill="#2a2a2a" >JKB -300+200 μm</text>
<text x="1356.6" y="1691.0" font-family='"Liberation Sans", sans-serif' font-weight="normal" font-style="normal" font-size="45.5" textLength="371.3" lengthAdjust="spacingAndGlyphs" fill="#2a2a2a" >JKB -200+100 μm</text>
<text x="200.0" y="2094.2" font-family='"Liberation Sans", sans-serif' font-weight="normal" font-style="normal" font-size="45.5" textLength="351.9" lengthAdjust="spacingAndGlyphs" fill="#2a2a2a" >JKB -100+63 μm</text>
<text x="884.1" y="2094.2" font-family='"Liberation Sans", sans-serif' font-weight="normal" font-style="normal" font-size="45.5" textLength="281.1" lengthAdjust="spacingAndGlyphs" fill="#2a2a2a" >JKB -63+0μm</text>
<g><path d="M537.1,1890.9A147.3,80 0 0 1 273.0,1870.2L273.0,1909.2A147.3,80 0 0 0 537.1,1929.9Z" fill="#ff0000"/><path d="M273.0,1870.2A147.3,80 0 0 1 273.0,1870.1L273.0,1909.1A147.3,80 0 0 0 273.0,1909.2Z" fill="#00ff00"/><path d="M273.0,1870.1A147.3,80 0 0 1 266.7,1847.0L266.7,1886.0A147.3,80 0 0 0 273.0,1909.1Z" fill="#0000ff"/><path d="M561.3,1847.0A147.3,80 0 0 1 537.2,1890.9L537.2,1929.9A147.3,80 0 0 0 561.3,1886.0Z" fill="#ffff00"/><path d="M414.0,1847.0L537.1,1890.9A147.3,80 0 0 1 273.0,1870.2Z" fill="#ff0000"/><path d="M414.0,1847.0L273.0,1870.2A147.3,80 0 0 1 273.0,1870.1Z" fill="#00ff00"/><path d="M414.0,1847.0L273.0,1870.1A147.3,80 0 0 1 378.4,1769.4Z" fill="#0000ff"/><path d="M414.0,1847.0L378.4,1769.4A147.3,80 0 0 1 425.0,1767.2Z" fill="#00ffff"/><path d="M414.0,1847.0L425.0,1767.2A147.3,80 0 0 1 557.1,1827.9Z" fill="#ff00ff"/><path d="M414.0,1847.0L557.1,1827.9A147.3,80 0 0 1 537.2,1890.9Z" fill="#ffff00"/></g><path d="M537.1,1890.9A147.3,80 0 0 1 273.0,1870.2" fill="none" stroke="#a80000" stroke-opacity="0.8" stroke-width="2"/><path d="M273.0,1870.2A147.3,80 0 0 1 273.0,1870.1" fill="none" stroke="#00a000" stroke-opacity="0.8" stroke-width="2"/><path d="M273.0,1870.1A147.3,80 0 0 1 266.7,1847.0" fill="none" stroke="#0000a0" stroke-opacity="0.8" stroke-width="2"/><path d="M561.3,1847.0A147.3,80 0 0 1 537.2,1890.9" fill="none" stroke="#a8a800" stroke-opacity="0.8" stroke-width="2"/>
<g stroke="#1a1a1a" stroke-width="2.3" stroke-linejoin="round"><path d="M1114.3,1905.8A146.5,79 0 0 1 900.7,1927.3L900.7,1970.0A146.5,79 0 0 0 1114.3,1948.5Z" fill="#ff0000"/><path d="M900.7,1927.3A146.5,79 0 0 1 897.4,1925.8L897.4,1968.5A146.5,79 0 0 0 900.7,1970.0Z" fill="#00ff00"/><path d="M897.4,1925.8A146.5,79 0 0 1 877.0,1915.0L877.0,1957.7A146.5,79 0 0 0 897.4,1968.5Z" fill="#0000ff"/><path d="M877.0,1915.0A146.5,79 0 0 1 843.0,1864.4L843.0,1907.1A146.5,79 0 0 0 877.0,1957.7Z" fill="#ff00ff"/><path d="M1136.0,1864.4A146.5,79 0 0 1 1122.3,1897.8L1122.3,1940.5A146.5,79 0 0 0 1136.0,1907.1Z" fill="#ff00ff"/><path d="M1122.3,1897.8A146.5,79 0 0 1 1114.3,1905.8L1114.3,1948.5A146.5,79 0 0 0 1122.3,1940.5Z" fill="#ffff00"/><path d="M989.5,1864.4L1114.3,1905.8A146.5,79 0 0 1 900.7,1927.3Z" fill="#ff0000"/><path d="M989.5,1864.4L900.7,1927.3A146.5,79 0 0 1 897.4,1925.8Z" fill="#00ff00"/><path d="M989.5,1864.4L897.4,1925.8A146.5,79 0 0 1 877.0,1915.0Z" fill="#0000ff"/><path d="M989.5,1864.4L877.0,1915.0A146.5,79 0 1 1 1122.3,1897.8Z" fill="#ff00ff"/><path d="M989.5,1864.4L1122.3,1897.8A146.5,79 0 0 1 1114.3,1905.8Z" fill="#ffff00"/></g>
<g stroke="#1a1a1a" stroke-width="2.3" stroke-linejoin="round"><path d="M1659.6,1893.1A131.8,70.5 0 0 1 1432.4,1891.3L1432.4,1927.3A131.8,70.5 0 0 0 1659.6,1929.1Z" fill="#ff0000"/><path d="M1432.4,1891.3A131.8,70.5 0 0 1 1416.9,1867.9L1416.9,1903.9A131.8,70.5 0 0 0 1432.4,1927.3Z" fill="#00ff00"/><path d="M1416.9,1867.9A131.8,70.5 0 0 1 1415.2,1856.5L1415.2,1892.5A131.8,70.5 0 0 0 1416.9,1903.9Z" fill="#0000ff"/><path d="M1678.8,1856.5A131.8,70.5 0 0 1 1659.6,1893.2L1659.6,1929.2A131.8,70.5 0 0 0 1678.8,1892.5Z" fill="#ffff00"/><path d="M1547.0,1856.5L1659.6,1893.1A131.8,70.5 0 0 1 1432.4,1891.3Z" fill="#ff0000"/><path d="M1547.0,1856.5L1432.4,1891.3A131.8,70.5 0 0 1 1416.9,1867.9Z" fill="#00ff00"/><path d="M1547.0,1856.5L1416.9,1867.9A131.8,70.5 0 0 1 1436.3,1818.2Z" fill="#0000ff"/><path d="M1547.0,1856.5L1436.3,1818.2A131.8,70.5 0 0 1 1530.0,1786.6Z" fill="#00ffff"/><path d="M1547.0,1856.5L1530.0,1786.6A131.8,70.5 0 0 1 1678.5,1851.8Z" fill="#ff00ff"/><path d="M1547.0,1856.5L1678.5,1851.8A131.8,70.5 0 0 1 1659.6,1893.2Z" fill="#ffff00"/></g>
<g stroke="#1a1a1a" stroke-width="2.3" stroke-linejoin="round"><path d="M557.6,2311.9A157.8,85 0 0 1 274.5,2292.6L274.5,2334.6A157.8,85 0 0 0 557.6,2353.9Z" fill="#ff0000"/><path d="M274.5,2292.6A157.8,85 0 0 1 270.5,2284.8L270.5,2326.8A157.8,85 0 0 0 274.5,2334.6Z" fill="#00ff00"/><path d="M270.5,2284.8A157.8,85 0 0 1 266.7,2266.2L266.7,2308.2A157.8,85 0 0 0 270.5,2326.8Z" fill="#0000ff"/><path d="M582.3,2266.2A157.8,85 0 0 1 557.5,2311.9L557.5,2353.9A157.8,85 0 0 0 582.3,2308.2Z" fill="#ffff00"/><path d="M424.5,2266.2L557.6,2311.9A157.8,85 0 0 1 274.5,2292.6Z" fill="#ff0000"/><path d="M424.5,2266.2L274.5,2292.6A157.8,85 0 0 1 270.5,2284.8Z" fill="#00ff00"/><path d="M424.5,2266.2L270.5,2284.8A157.8,85 0 0 1 321.5,2201.8Z" fill="#0000ff"/><path d="M424.5,2266.2L321.5,2201.8A157.8,85 0 0 1 384.4,2184.0Z" fill="#00ffff"/><path d="M424.5,2266.2L384.4,2184.0A157.8,85 0 0 1 582.3,2265.3Z" fill="#ff00ff"/><path d="M424.5,2266.2L582.3,2265.3A157.8,85 0 0 1 557.5,2311.9Z" fill="#ffff00"/></g>
<g stroke="#1a1a1a" stroke-width="2.3" stroke-linejoin="round"><path d="M1152.8,2308.4A157.2,85 0 0 1 1117.3,2328.8L1117.3,2370.8A157.2,85 0 0 0 1152.8,2350.4Z" fill="#ff0000"/><path d="M1117.3,2328.8A157.2,85 0 0 1 1040.9,2345.6L1040.9,2387.6A157.2,85 0 0 0 1117.3,2370.8Z" fill="#00ff00"/><path d="M1040.9,2345.6A157.2,85 0 0 1 871.1,2285.1L871.1,2327.1A157.2,85 0 0 0 1040.9,2387.6Z" fill="#0000ff"/><path d="M871.1,2285.1A157.2,85 0 0 1 864.8,2261.2L864.8,2303.2A157.2,85 0 0 0 871.1,2327.1Z" fill="#00ffff"/><path d="M1179.2,2261.2A157.2,85 0 0 1 1174.8,2281.2L1174.8,2323.2A157.2,85 0 0 0 1179.2,2303.2Z" fill="#ff00ff"/><path d="M1174.8,2281.2A157.2,85 0 0 1 1152.8,2308.4L1152.8,2350.4A157.2,85 0 0 0 1174.8,2323.2Z" fill="#ffff00"/><path d="M1030.0,2261.2L1152.8,2308.4A157.2,85 0 0 1 1117.3,2328.8Z" fill="#ff0000"/><path d="M1030.0,2261.2L1117.3,2328.8A157.2,85 0 0 1 1040.9,2345.6Z" fill="#00ff00"/><path d="M1030.0,2261.2L1040.9,2345.6A157.2,85 0 0 1 871.1,2285.1Z" fill="#0000ff"/><path d="M1030.0,2261.2L871.1,2285.1A157.2,85 0 1 1 1175.4,2242.5Z" fill="#00ffff"/><path d="M1030.0,2261.2L1175.4,2242.5A157.2,85 0 0 1 1174.8,2281.2Z" fill="#ff00ff"/><path d="M1030.0,2261.2L1174.8,2281.2A157.2,85 0 0 1 1152.8,2308.4Z" fill="#ffff00"/></g>
<text x="351.5" y="1761.9" font-family='"Liberation Sans", sans-serif' font-weight="normal" font-style="normal" font-size="46.1" textLength="91.9" lengthAdjust="spacingAndGlyphs" fill="#2a2a2a" >5.08</text>
<text x="475.5" y="1785.8" font-family='"Liberation Sans", sans-serif' font-weight="normal" font-style="normal" font-size="47.2" textLength="116.5" lengthAdjust="spacingAndGlyphs" fill="#2a2a2a" >19.98</text>
<text x="192.0" y="1813.9" font-family='"Liberation Sans", sans-serif' font-weight="normal" font-style="normal" font-size="48.2" textLength="117.2" lengthAdjust="spacingAndGlyphs" fill="#2a2a2a" >25.77</text>
<text x="538.9" y="1920.7" font-family='"Liberation Sans", sans-serif' font-weight="normal" font-style="normal" font-size="46.1" textLength="115.6" lengthAdjust="spacingAndGlyphs" fill="#2a2a2a" >13.07</text>
<text x="189.9" y="1933.7" font-family='"Liberation Sans", sans-serif' font-weight="normal" font-style="normal" font-size="48.2" textLength="90.4" lengthAdjust="spacingAndGlyphs" fill="#2a2a2a" >0.03</text>
<text x="328.4" y="2004.4" font-family='"Liberation Sans", sans-serif' font-weight="normal" font-style="normal" font-size="46.1" textLength="118.0" lengthAdjust="spacingAndGlyphs" fill="#2a2a2a" >36.06</text>
<text x="916.0" y="1778.9" font-family='"Liberation Sans", sans-serif' font-weight="normal" font-style="normal" font-size="43.2" textLength="105.2" lengthAdjust="spacingAndGlyphs" fill="#2a2a2a" >68.01</text>
<text x="762.2" y="1935.7" font-family='"Liberation Sans", sans-serif' font-weight="normal" font-style="normal" font-size="45.0" textLength="82.7" lengthAdjust="spacingAndGlyphs" fill="#2a2a2a" >0.46</text>
<text x="819.3" y="1990.2" font-family='"Liberation Sans", sans-serif' font-weight="normal" font-style="normal" font-size="43.3" textLength="84.0" lengthAdjust="spacingAndGlyphs" fill="#2a2a2a" >3.12</text>
<text x="1114.9" y="1969.5" font-family='"Liberation Sans", sans-serif' font-weight="normal" font-style="normal" font-size="43.3" textLength="75.6" lengthAdjust="spacingAndGlyphs" fill="#2a2a2a" >1.83</text>
<text x="965.2" y="2018.7" font-family='"Liberation Sans", sans-serif' font-weight="normal" font-style="normal" font-size="43.2" textLength="106.3" lengthAdjust="spacingAndGlyphs" fill="#2a2a2a" >26.58</text>
<text x="1605.2" y="1782.0" font-family='"Liberation Sans", sans-serif' font-weight="normal" font-style="normal" font-size="39.4" textLength="97.9" lengthAdjust="spacingAndGlyphs" fill="#2a2a2a" >25.99</text>
<text x="1416.2" y="1794.5" font-family='"Liberation Sans", sans-serif' font-weight="normal" font-style="normal" font-size="39.6" textLength="92.5" lengthAdjust="spacingAndGlyphs" fill="#2a2a2a" >13.81</text>
<text x="1340.9" y="1850.0" font-family='"Liberation Sans", sans-serif' font-weight="normal" font-style="normal" font-size="37.5" textLength="88.4" lengthAdjust="spacingAndGlyphs" fill="#2a2a2a" >11.73</text>
<text x="1353.2" y="1935.5" font-family='"Liberation Sans", sans-serif' font-weight="normal" font-style="normal" font-size="41.3" textLength="74.0" lengthAdjust="spacingAndGlyphs" fill="#2a2a2a" >5.62</text>
<text x="1667.3" y="1931.8" font-family='"Liberation Sans", sans-serif' font-weight="normal" font-style="normal" font-size="39.4" textLength="72.8" lengthAdjust="spacingAndGlyphs" fill="#2a2a2a" >9.77</text>
<text x="1489.5" y="1997.4" font-family='"Liberation Sans", sans-serif' font-weight="normal" font-style="normal" font-size="39.4" textLength="98.5" lengthAdjust="spacingAndGlyphs" fill="#2a2a2a" >33.09</text>
<text x="288.3" y="2186.6" font-family='"Liberation Sans", sans-serif' font-weight="normal" font-style="normal" font-size="48.1" textLength="90.5" lengthAdjust="spacingAndGlyphs" fill="#2a2a2a" >7.22</text>
<text x="488.2" y="2198.6" font-family='"Liberation Sans", sans-serif' font-weight="normal" font-style="normal" font-size="48.1" textLength="115.9" lengthAdjust="spacingAndGlyphs" fill="#2a2a2a" >28.92</text>
<text x="182.0" y="2222.7" font-family='"Liberation Sans", sans-serif' font-weight="normal" font-style="normal" font-size="48.2" textLength="112.4" lengthAdjust="spacingAndGlyphs" fill="#2a2a2a" >17.19</text>
<text x="189.5" y="2353.4" font-family='"Liberation Sans", sans-serif' font-weight="normal" font-style="normal" font-size="48.1" textLength="86.7" lengthAdjust="spacingAndGlyphs" fill="#2a2a2a" >1.53</text>
<text x="568.3" y="2355.0" font-family='"Liberation Sans", sans-serif' font-weight="normal" font-style="normal" font-size="48.2" textLength="85.3" lengthAdjust="spacingAndGlyphs" fill="#2a2a2a" >9.21</text>
<text x="340.2" y="2430.0" font-family='"Liberation Sans", sans-serif' font-weight="normal" font-style="normal" font-size="47.9" textLength="112.7" lengthAdjust="spacingAndGlyphs" fill="#2a2a2a" >35.94</text>
<text x="911.2" y="2174.6" font-family='"Liberation Sans", sans-serif' font-weight="normal" font-style="normal" font-size="48.1" textLength="114.1" lengthAdjust="spacingAndGlyphs" fill="#2a2a2a" >51.89</text>
<text x="1175.8" y="2269.9" font-family='"Liberation Sans", sans-serif' font-weight="normal" font-style="normal" font-size="46.5" textLength="88.2" lengthAdjust="spacingAndGlyphs" fill="#2a2a2a" >7.73</text>
<text x="1164.0" y="2338.0" font-family='"Liberation Sans", sans-serif' font-weight="normal" font-style="normal" font-size="48.2" textLength="76.6" lengthAdjust="spacingAndGlyphs" fill="#2a2a2a" >2.91</text>
<text x="1123.0" y="2365.0" font-family='"Liberation Sans", sans-serif' font-weight="normal" font-style="normal" font-size="47.9" textLength="85.4" lengthAdjust="spacingAndGlyphs" fill="#2a2a2a" >5.41</text>
<text x="861.4" y="2409.7" font-family='"Liberation Sans", sans-serif' font-weight="normal" font-style="normal" font-size="46.7" textLength="114.3" lengthAdjust="spacingAndGlyphs" fill="#2a2a2a" >21.55</text>
<text x="1052.3" y="2418.4" font-family='"Liberation Sans", sans-serif' font-weight="normal" font-style="normal" font-size="46.4" textLength="84.5" lengthAdjust="spacingAndGlyphs" fill="#2a2a2a" >8.51</text>
<rect x="1445" y="2053.5" width="87" height="47.1" fill="#ff0000" stroke="#555" stroke-width="2.4"/>
<rect x="1445" y="2109.0" width="87" height="50.6" fill="#00ff00" stroke="#555" stroke-width="2.4"/>
<rect x="1445" y="2169.2" width="87" height="50.6" fill="#0000ff" stroke="#555" stroke-width="2.4"/>
<rect x="1445" y="2229.2" width="87" height="50.6" fill="#00ffff" stroke="#555" stroke-width="2.4"/>
<rect x="1445" y="2289.2" width="87" height="50.6" fill="#ff00ff" stroke="#555" stroke-width="2.4"/>
<rect x="1445" y="2349.2" width="87" height="50.6" fill="#ffff00" stroke="#555" stroke-width="2.4"/>
<text x="1541.9" y="2088.4" font-family='"Liberation Sans", sans-serif' font-weight="normal" font-style="normal" font-size="49.0" textLength="110.2" lengthAdjust="spacingAndGlyphs" fill="#2a2a2a" >Quarz</text>
<text x="1540.4" y="2147.8" font-family='"Liberation Sans", sans-serif' font-weight="normal" font-style="normal" font-size="49.0" textLength="105.0" lengthAdjust="spacingAndGlyphs" fill="#2a2a2a" >Pyrite</text>
<text x="1541.8" y="2208.6" font-family='"Liberation Sans", sans-serif' font-weight="normal" font-style="normal" font-size="49.0" textLength="199.2" lengthAdjust="spacingAndGlyphs" fill="#2a2a2a" >Clinochlore</text>
<text x="1541.7" y="2269.4" font-family='"Liberation Sans", sans-serif' font-weight="normal" font-style="normal" font-size="49.0" textLength="123.2" lengthAdjust="spacingAndGlyphs" fill="#2a2a2a" >Calcite</text>
<text x="1543.8" y="2329.6" font-family='"Liberation Sans", sans-serif' font-weight="normal" font-style="normal" font-size="49.0" textLength="99.5" lengthAdjust="spacingAndGlyphs" fill="#2a2a2a" >Albite</text>
<text x="1540.5" y="2390.7" font-family='"Liberation Sans", sans-serif' font-weight="normal" font-style="normal" font-size="49.0" textLength="113.7" lengthAdjust="spacingAndGlyphs" fill="#2a2a2a" >Biotite</text></g>
</svg></body></html>
